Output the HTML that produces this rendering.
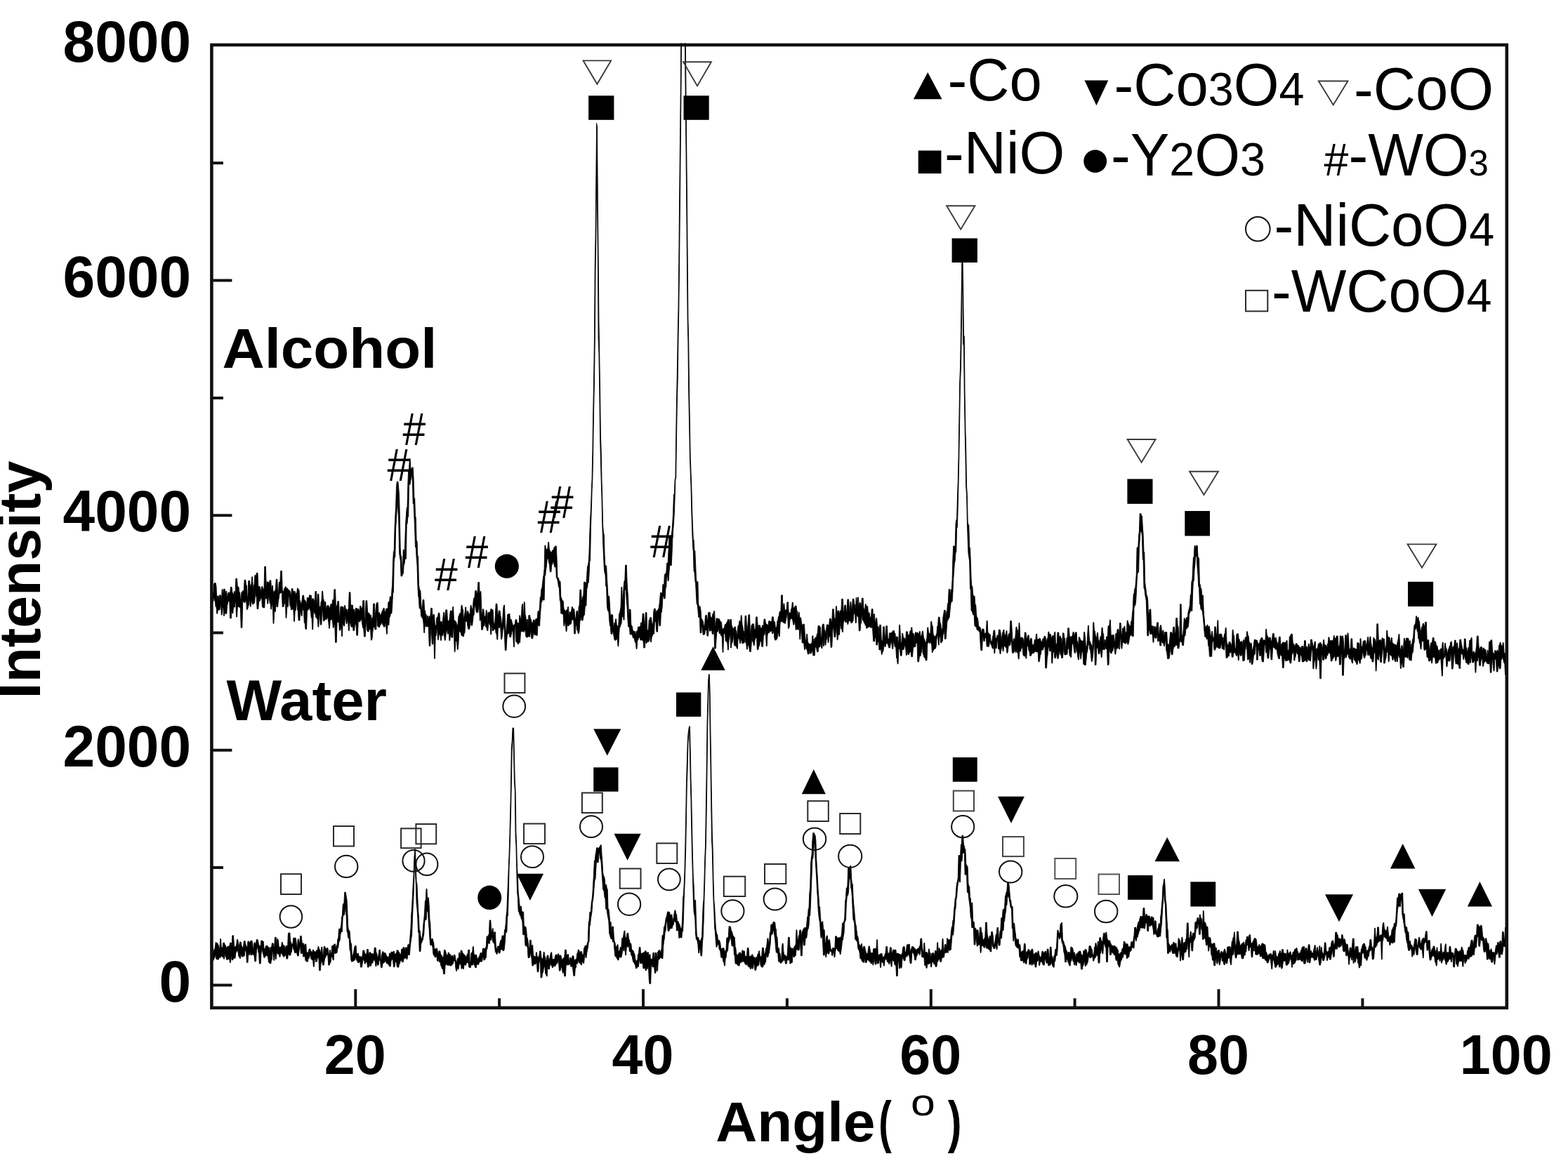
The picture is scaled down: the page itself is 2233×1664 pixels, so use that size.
<!DOCTYPE html>
<html><head><meta charset="utf-8"><title>XRD</title>
<style>html,body{margin:0;padding:0;background:#fff;overflow:hidden}svg{display:block;filter:blur(0.55px)}</style></head>
<body><svg width="2233" height="1664" viewBox="0 0 2233 1664">
<defs><clipPath id="cp"><rect x="301.4" y="61.5" width="1844.4" height="1374.3"/></clipPath></defs>
<rect x="0" y="0" width="2233" height="1664" fill="#fff"/>
<g clip-path="url(#cp)" fill="#000" stroke="#000" stroke-width="0.9" stroke-linejoin="round">
<path d="M301.4 847.9L302.2 847.9L303.0 845.3L303.9 845.3L304.7 831.5L305.5 830.6L306.3 830.6L307.1 830.6L308.0 835.9L308.8 854.8L309.6 849.0L310.4 849.0L311.2 849.0L312.1 855.5L312.9 847.4L313.7 847.4L314.5 848.6L315.3 857.9L316.2 839.6L317.0 839.6L317.8 849.0L318.6 839.2L319.4 839.2L320.2 839.2L321.1 847.1L321.9 842.1L322.7 842.1L323.5 853.8L324.3 845.8L325.2 844.1L326.0 844.1L326.8 844.1L327.6 845.9L328.4 836.4L329.3 836.4L330.1 836.4L330.9 844.8L331.7 844.8L332.5 849.3L333.4 842.5L334.2 842.5L335.0 850.3L335.8 824.3L336.6 824.3L337.5 824.3L338.3 836.1L339.1 836.1L339.9 836.1L340.7 843.8L341.6 843.8L342.4 853.4L343.2 853.4L344.0 843.6L344.8 843.6L345.7 841.6L346.5 841.6L347.3 842.5L348.1 826.2L348.9 826.2L349.7 826.2L350.6 833.8L351.4 833.8L352.2 854.1L353.0 847.8L353.8 827.4L354.7 827.4L355.5 827.4L356.3 837.4L357.1 833.0L357.9 833.0L358.8 821.7L359.6 821.7L360.4 843.9L361.2 833.4L362.0 833.4L362.9 819.4L363.7 819.4L364.5 822.1L365.3 816.3L366.1 816.3L367.0 816.3L367.8 835.4L368.6 835.4L369.4 835.6L370.2 835.6L371.1 839.6L371.9 844.3L372.7 835.5L373.5 835.5L374.3 837.5L375.2 839.9L376.0 838.9L376.8 807.0L377.6 807.0L378.4 807.0L379.3 839.1L380.1 828.7L380.9 828.7L381.7 829.5L382.5 829.5L383.3 832.3L384.2 826.8L385.0 826.8L385.8 826.8L386.6 844.5L387.4 834.3L388.3 834.3L389.1 844.7L389.9 842.7L390.7 842.7L391.5 840.8L392.4 840.8L393.2 825.3L394.0 825.3L394.8 825.3L395.6 844.5L396.5 844.5L397.3 829.3L398.1 829.3L398.9 829.3L399.7 813.3L400.6 813.3L401.4 813.3L402.2 841.4L403.0 841.4L403.8 844.6L404.7 838.4L405.5 838.4L406.3 835.7L407.1 835.7L407.9 838.1L408.8 838.1L409.6 838.1L410.4 840.2L411.2 840.2L412.0 841.3L412.8 841.3L413.7 845.4L414.5 850.6L415.3 838.6L416.1 838.6L416.9 838.6L417.8 846.3L418.6 842.4L419.4 842.4L420.2 842.4L421.0 848.5L421.9 844.7L422.7 844.7L423.5 837.9L424.3 837.9L425.1 840.4L426.0 840.4L426.8 854.7L427.6 856.0L428.4 860.2L429.2 860.2L430.1 855.0L430.9 848.2L431.7 848.2L432.5 848.2L433.3 854.9L434.2 854.9L435.0 855.8L435.8 858.5L436.6 860.6L437.4 851.5L438.3 851.5L439.1 851.5L439.9 852.3L440.7 847.8L441.5 847.8L442.4 848.1L443.2 848.1L444.0 857.0L444.8 852.8L445.6 852.8L446.4 852.8L447.3 855.3L448.1 861.2L448.9 842.5L449.7 842.5L450.5 842.5L451.4 869.0L452.2 846.2L453.0 846.2L453.8 846.2L454.6 864.0L455.5 864.0L456.3 868.7L457.1 857.0L457.9 857.0L458.7 842.2L459.6 842.2L460.4 854.1L461.2 854.1L462.0 864.9L462.8 857.1L463.7 857.1L464.5 869.8L465.3 864.3L466.1 862.6L466.9 862.6L467.8 862.6L468.6 866.3L469.4 866.3L470.2 863.7L471.0 860.7L471.9 860.7L472.7 863.4L473.5 854.6L474.3 854.6L475.1 855.8L475.9 839.7L476.8 839.7L477.6 839.7L478.4 866.6L479.2 863.0L480.0 863.0L480.9 856.5L481.7 856.5L482.5 856.5L483.3 878.5L484.1 876.8L485.0 864.0L485.8 864.0L486.6 864.0L487.4 864.6L488.2 864.6L489.1 864.6L489.9 874.1L490.7 862.5L491.5 862.5L492.3 868.0L493.2 868.0L494.0 868.0L494.8 875.0L495.6 868.3L496.4 866.5L497.3 843.8L498.1 843.8L498.9 843.8L499.7 871.8L500.5 861.9L501.4 861.9L502.2 861.9L503.0 869.4L503.8 868.0L504.6 868.0L505.5 876.2L506.3 866.4L507.1 866.4L507.9 866.4L508.7 868.6L509.5 867.1L510.4 867.1L511.2 869.8L512.0 869.8L512.8 863.1L513.6 863.1L514.5 866.9L515.3 866.9L516.1 864.5L516.9 855.4L517.7 855.4L518.6 855.4L519.4 883.6L520.2 881.2L521.0 855.7L521.8 855.7L522.7 855.7L523.5 870.8L524.3 873.5L525.1 873.5L525.9 873.5L526.8 876.3L527.6 876.3L528.4 876.3L529.2 886.8L530.0 879.8L530.9 879.8L531.7 860.0L532.5 860.0L533.3 860.0L534.1 882.6L535.0 869.1L535.8 861.1L536.6 858.5L537.4 858.5L538.2 858.5L539.0 874.7L539.9 872.6L540.7 872.6L541.5 878.8L542.3 875.1L543.1 875.1L544.0 870.8L544.8 870.1L545.6 866.9L546.4 866.4L547.2 866.4L548.1 872.1L548.9 872.1L549.7 867.1L550.5 867.1L551.3 867.1L552.2 867.1L553.0 857.5L553.8 857.5L554.6 857.5L555.4 849.8L556.3 849.8L557.1 859.6L557.9 841.6L558.7 832.4L559.5 801.7L560.4 785.6L561.2 785.6L562.0 753.2L562.8 735.6L563.6 721.6L564.5 692.8L565.3 686.2L566.1 686.2L566.9 686.2L567.7 694.4L568.6 707.1L569.4 740.6L570.2 781.2L571.0 792.3L571.8 792.3L572.6 815.9L573.5 805.2L574.3 783.0L575.1 783.0L575.9 790.4L576.7 772.7L577.6 746.4L578.4 734.8L579.2 723.4L580.0 723.4L580.8 690.8L581.7 669.1L582.5 669.1L583.3 653.6L584.1 653.6L584.9 668.3L585.8 668.2L586.6 665.9L587.4 665.9L588.2 665.9L589.0 680.2L589.9 709.1L590.7 709.9L591.5 734.8L592.3 738.0L593.1 770.8L594.0 770.8L594.8 792.2L595.6 792.2L596.4 832.3L597.2 837.8L598.1 841.4L598.9 841.4L599.7 859.4L600.5 867.6L601.3 869.1L602.1 854.5L603.0 854.5L603.8 854.5L604.6 869.7L605.4 869.7L606.2 875.4L607.1 875.4L607.9 885.3L608.7 877.4L609.5 877.4L610.3 883.1L611.2 877.7L612.0 877.7L612.8 879.8L613.6 866.4L614.4 866.4L615.3 866.4L616.1 880.1L616.9 875.6L617.7 875.6L618.5 875.6L619.4 890.0L620.2 890.4L621.0 892.9L621.8 880.1L622.6 879.0L623.5 879.0L624.3 873.3L625.1 873.3L625.9 873.3L626.7 887.2L627.6 885.5L628.4 885.5L629.2 885.5L630.0 891.2L630.8 881.0L631.7 872.4L632.5 872.4L633.3 886.2L634.1 873.9L634.9 868.8L635.7 868.8L636.6 868.8L637.4 883.0L638.2 884.4L639.0 884.4L639.8 884.4L640.7 875.4L641.5 870.0L642.3 870.0L643.1 870.0L643.9 873.4L644.8 864.4L645.6 864.4L646.4 883.9L647.2 883.9L648.0 883.9L648.9 886.0L649.7 886.0L650.5 890.5L651.3 890.5L652.1 889.1L653.0 877.3L653.8 877.3L654.6 873.7L655.4 873.7L656.2 873.7L657.1 862.1L657.9 862.1L658.7 868.1L659.5 868.1L660.3 885.4L661.2 876.4L662.0 873.3L662.8 864.9L663.6 864.9L664.4 879.2L665.2 870.6L666.1 870.6L666.9 871.3L667.7 876.8L668.5 874.3L669.3 874.3L670.2 862.3L671.0 862.3L671.8 866.2L672.6 869.8L673.4 864.8L674.3 853.8L675.1 851.6L675.9 851.6L676.7 841.6L677.5 841.6L678.4 841.6L679.2 845.5L680.0 843.6L680.8 829.5L681.6 829.5L682.5 829.5L683.3 848.8L684.1 842.5L684.9 842.5L685.7 869.3L686.6 878.9L687.4 867.5L688.2 867.5L689.0 870.0L689.8 877.9L690.7 877.9L691.5 879.6L692.3 869.3L693.1 869.3L693.9 890.6L694.8 872.5L695.6 872.5L696.4 872.5L697.2 872.2L698.0 872.2L698.8 867.7L699.7 867.7L700.5 867.7L701.3 869.0L702.1 869.0L702.9 885.4L703.8 890.0L704.6 888.7L705.4 875.3L706.2 860.3L707.0 860.3L707.9 860.3L708.7 876.3L709.5 876.3L710.3 870.0L711.1 870.0L712.0 870.0L712.8 876.7L713.6 880.8L714.4 891.3L715.2 886.9L716.1 878.0L716.9 865.3L717.7 862.0L718.5 862.0L719.3 883.4L720.2 897.7L721.0 901.9L721.8 888.9L722.6 875.6L723.4 875.6L724.3 874.4L725.1 874.4L725.9 874.4L726.7 886.0L727.5 882.5L728.3 882.5L729.2 886.7L730.0 889.4L730.8 891.9L731.6 890.8L732.4 889.5L733.3 889.5L734.1 882.8L734.9 882.8L735.7 882.8L736.5 887.5L737.4 887.5L738.2 887.5L739.0 889.5L739.8 876.8L740.6 876.8L741.5 882.3L742.3 882.3L743.1 863.9L743.9 860.3L744.7 860.3L745.6 885.1L746.4 857.7L747.2 857.7L748.0 875.2L748.8 878.9L749.7 888.5L750.5 882.3L751.3 882.3L752.1 896.5L752.9 876.6L753.8 876.6L754.6 876.6L755.4 882.0L756.2 882.0L757.0 886.1L757.9 887.5L758.7 887.5L759.5 883.1L760.3 883.1L761.1 883.1L761.9 888.6L762.8 881.8L763.6 881.8L764.4 881.0L765.2 881.0L766.0 870.8L766.9 870.8L767.7 872.0L768.5 865.2L769.3 850.4L770.1 850.4L771.0 838.6L771.8 838.6L772.6 830.3L773.4 823.8L774.2 819.1L775.1 810.9L775.9 776.9L776.7 776.9L777.5 782.5L778.3 782.5L779.2 782.5L780.0 780.4L780.8 772.3L781.6 772.3L782.4 783.7L783.3 783.7L784.1 786.7L784.9 786.7L785.7 786.7L786.5 784.0L787.4 784.0L788.2 783.0L789.0 779.9L789.8 779.9L790.6 777.9L791.4 777.9L792.3 777.9L793.1 796.9L793.9 822.6L794.7 823.3L795.5 823.3L796.4 828.1L797.2 828.1L798.0 828.1L798.8 851.3L799.6 851.3L800.5 855.8L801.3 855.8L802.1 855.8L802.9 865.9L803.7 869.2L804.6 869.2L805.4 873.5L806.2 869.1L807.0 869.1L807.8 869.1L808.7 864.6L809.5 864.6L810.3 882.4L811.1 871.5L811.9 871.5L812.8 873.5L813.6 871.2L814.4 864.6L815.2 864.6L816.0 867.5L816.9 867.5L817.7 867.5L818.5 875.6L819.3 882.6L820.1 880.4L821.0 870.5L821.8 870.5L822.6 870.5L823.4 882.8L824.2 863.8L825.0 863.8L825.9 840.2L826.7 840.2L827.5 840.2L828.3 855.2L829.1 855.2L830.0 849.4L830.8 849.4L831.6 829.2L832.4 829.2L833.2 829.2L834.1 830.4L834.9 830.4L835.7 820.9L836.5 806.4L837.3 806.4L838.2 800.1L839.0 787.2L839.8 759.8L840.6 739.1L841.4 725.9L842.3 698.6L843.1 681.5L843.9 641.3L844.7 587.5L845.5 547.0L846.4 487.7L847.2 382.2L848.0 337.9L848.8 255.9L849.6 175.4L850.5 180.8L851.3 284.6L852.1 360.7L852.9 456.5L853.7 502.4L854.5 551.1L855.4 619.1L856.2 643.3L857.0 684.8L857.8 710.0L858.6 748.3L859.5 758.8L860.3 761.8L861.1 791.9L861.9 805.9L862.7 805.9L863.6 805.9L864.4 822.0L865.2 835.3L866.0 850.5L866.8 849.2L867.7 849.2L868.5 863.8L869.3 876.4L870.1 876.4L870.9 875.3L871.8 875.3L872.6 876.3L873.4 892.2L874.2 895.4L875.0 887.1L875.9 887.1L876.7 881.8L877.5 881.8L878.3 890.9L879.1 890.9L880.0 895.0L880.8 891.1L881.6 874.0L882.4 874.0L883.2 870.1L884.1 864.4L884.9 836.3L885.7 836.3L886.5 856.2L887.3 852.8L888.1 836.2L889.0 827.6L889.8 827.6L890.6 805.1L891.4 805.1L892.2 805.1L893.1 829.8L893.9 842.1L894.7 852.9L895.5 882.5L896.3 868.1L897.2 868.1L898.0 868.1L898.8 890.8L899.6 890.8L900.4 892.9L901.3 898.5L902.1 898.5L902.9 900.4L903.7 899.4L904.5 899.4L905.4 906.0L906.2 899.2L907.0 899.2L907.8 899.2L908.6 893.1L909.5 893.1L910.3 893.1L911.1 892.5L911.9 892.5L912.7 886.9L913.6 886.9L914.4 888.2L915.2 874.1L916.0 874.1L916.8 874.1L917.6 887.4L918.5 891.4L919.3 872.5L920.1 872.5L920.9 872.5L921.7 899.6L922.6 897.3L923.4 897.3L924.2 883.3L925.0 883.3L925.8 879.7L926.7 879.7L927.5 879.7L928.3 888.0L929.1 888.2L929.9 890.1L930.8 871.2L931.6 867.1L932.4 867.1L933.2 867.1L934.0 874.6L934.9 870.1L935.7 870.1L936.5 870.1L937.3 867.9L938.1 866.4L939.0 861.1L939.8 852.3L940.6 844.2L941.4 844.2L942.2 845.1L943.1 845.1L943.9 832.5L944.7 832.5L945.5 838.6L946.3 818.4L947.2 818.4L948.0 816.5L948.8 816.0L949.6 802.2L950.4 802.2L951.2 802.2L952.1 782.8L952.9 763.6L953.7 763.6L954.5 763.6L955.3 762.5L956.2 762.5L957.0 756.0L957.8 744.8L958.6 731.6L959.4 704.3L960.3 704.3L961.1 683.2L961.9 681.0L962.7 622.6L963.5 571.0L964.4 528.7L965.2 478.8L966.0 439.4L966.8 373.2L967.6 284.7L968.5 201.3L969.3 119.0L970.1 14.9L970.9 -53.7L971.7 -116.6L972.6 -144.6L973.4 -144.6L974.2 -119.0L975.0 -52.6L975.8 9.0L976.7 98.8L977.5 188.3L978.3 264.5L979.1 357.5L979.9 452.7L980.7 485.1L981.6 558.0L982.4 604.1L983.2 651.1L984.0 672.8L984.8 691.8L985.7 729.0L986.5 749.1L987.3 768.7L988.1 769.1L988.9 784.7L989.8 784.7L990.6 802.7L991.4 822.3L992.2 831.2L993.0 828.5L993.9 828.5L994.7 860.1L995.5 863.9L996.3 863.9L997.1 863.9L998.0 869.5L998.8 881.6L999.6 881.6L1000.4 884.0L1001.2 884.7L1002.1 890.3L1002.9 895.1L1003.7 888.4L1004.5 877.2L1005.3 876.2L1006.2 876.2L1007.0 882.2L1007.8 885.0L1008.6 872.9L1009.4 872.3L1010.3 872.3L1011.1 872.3L1011.9 879.2L1012.7 879.2L1013.5 880.7L1014.3 878.0L1015.2 874.0L1016.0 874.0L1016.8 870.4L1017.6 870.4L1018.4 890.8L1019.3 891.9L1020.1 880.9L1020.9 880.9L1021.7 880.9L1022.5 881.6L1023.4 881.6L1024.2 881.6L1025.0 883.3L1025.8 885.6L1026.6 885.6L1027.5 886.3L1028.3 896.1L1029.1 896.1L1029.9 896.1L1030.7 894.6L1031.6 894.6L1032.4 889.4L1033.2 889.4L1034.0 889.4L1034.8 886.5L1035.7 886.5L1036.5 882.6L1037.3 882.6L1038.1 882.6L1038.9 890.7L1039.8 882.5L1040.6 882.5L1041.4 882.5L1042.2 892.7L1043.0 892.7L1043.8 897.1L1044.7 895.0L1045.5 895.0L1046.3 892.7L1047.1 892.7L1047.9 897.6L1048.8 899.5L1049.6 908.1L1050.4 895.7L1051.2 891.2L1052.0 891.2L1052.9 884.6L1053.7 884.6L1054.5 889.9L1055.3 876.7L1056.1 876.7L1057.0 890.0L1057.8 892.9L1058.6 898.7L1059.4 899.2L1060.2 904.1L1061.1 877.2L1061.9 877.2L1062.7 877.2L1063.5 896.6L1064.3 896.6L1065.2 887.8L1066.0 875.8L1066.8 875.8L1067.6 875.8L1068.4 902.2L1069.3 902.2L1070.1 890.3L1070.9 890.3L1071.7 888.8L1072.5 888.8L1073.4 888.8L1074.2 896.4L1075.0 896.4L1075.8 896.4L1076.6 878.9L1077.4 878.9L1078.3 878.9L1079.1 889.4L1079.9 894.8L1080.7 890.7L1081.5 890.7L1082.4 890.7L1083.2 895.0L1084.0 895.0L1084.8 895.0L1085.6 890.9L1086.5 890.9L1087.3 890.9L1088.1 882.0L1088.9 882.0L1089.7 882.0L1090.6 888.8L1091.4 888.8L1092.2 889.8L1093.0 889.8L1093.8 892.4L1094.7 884.8L1095.5 884.8L1096.3 884.8L1097.1 885.4L1097.9 885.4L1098.8 885.4L1099.6 878.8L1100.4 878.8L1101.2 878.8L1102.0 885.3L1102.9 885.3L1103.7 886.8L1104.5 897.3L1105.3 893.3L1106.1 893.3L1106.9 884.9L1107.8 883.3L1108.6 878.2L1109.4 878.2L1110.2 871.1L1111.0 871.1L1111.9 871.5L1112.7 847.8L1113.5 847.8L1114.3 847.8L1115.1 871.9L1116.0 859.9L1116.8 859.9L1117.6 869.0L1118.4 869.0L1119.2 868.9L1120.1 868.9L1120.9 857.8L1121.7 857.8L1122.5 857.8L1123.3 876.1L1124.2 872.8L1125.0 872.8L1125.8 874.6L1126.6 867.3L1127.4 867.3L1128.3 858.1L1129.1 858.1L1129.9 865.7L1130.7 865.7L1131.5 865.7L1132.4 863.1L1133.2 863.1L1134.0 863.1L1134.8 870.5L1135.6 870.5L1136.5 882.2L1137.3 872.1L1138.1 872.1L1138.9 879.9L1139.7 879.9L1140.5 879.9L1141.4 885.9L1142.2 890.6L1143.0 890.6L1143.8 889.2L1144.6 889.2L1145.5 889.2L1146.3 904.1L1147.1 912.8L1147.9 912.8L1148.7 903.4L1149.6 903.4L1150.4 915.4L1151.2 915.4L1152.0 917.4L1152.8 917.4L1153.7 917.4L1154.5 917.3L1155.3 916.6L1156.1 916.2L1156.9 905.7L1157.8 905.7L1158.6 916.4L1159.4 910.6L1160.2 910.6L1161.0 908.1L1161.9 908.1L1162.7 908.1L1163.5 902.8L1164.3 902.8L1165.1 891.4L1166.0 891.4L1166.8 891.4L1167.6 893.3L1168.4 893.3L1169.2 908.2L1170.0 907.5L1170.9 891.8L1171.7 889.1L1172.5 889.1L1173.3 889.1L1174.1 896.9L1175.0 898.5L1175.8 904.9L1176.6 897.1L1177.4 889.9L1178.2 889.9L1179.1 889.9L1179.9 890.9L1180.7 890.9L1181.5 881.3L1182.3 881.3L1183.2 881.3L1184.0 885.7L1184.8 885.7L1185.6 867.8L1186.4 867.8L1187.3 867.8L1188.1 880.7L1188.9 880.7L1189.7 885.1L1190.5 863.7L1191.4 863.7L1192.2 875.7L1193.0 870.1L1193.8 870.1L1194.6 870.1L1195.5 876.0L1196.3 870.0L1197.1 870.0L1197.9 870.0L1198.7 853.3L1199.6 853.3L1200.4 853.3L1201.2 871.4L1202.0 871.4L1202.8 862.1L1203.6 862.1L1204.5 862.1L1205.3 871.4L1206.1 871.4L1206.9 853.9L1207.7 853.9L1208.6 853.9L1209.4 867.5L1210.2 873.3L1211.0 857.3L1211.8 857.3L1212.7 871.2L1213.5 865.4L1214.3 853.2L1215.1 853.2L1215.9 853.2L1216.8 860.6L1217.6 862.0L1218.4 869.4L1219.2 851.4L1220.0 851.4L1220.9 867.7L1221.7 850.8L1222.5 850.8L1223.3 869.4L1224.1 858.4L1225.0 858.4L1225.8 859.5L1226.6 866.1L1227.4 852.1L1228.2 852.1L1229.1 852.1L1229.9 867.1L1230.7 867.1L1231.5 871.6L1232.3 860.6L1233.1 860.6L1234.0 866.8L1234.8 863.3L1235.6 863.3L1236.4 872.9L1237.2 872.9L1238.1 872.9L1238.9 878.4L1239.7 879.5L1240.5 879.1L1241.3 867.6L1242.2 867.6L1243.0 867.6L1243.8 887.8L1244.6 874.8L1245.4 874.8L1246.3 885.8L1247.1 885.8L1247.9 880.6L1248.7 880.6L1249.5 892.7L1250.4 892.7L1251.2 892.7L1252.0 906.2L1252.8 890.3L1253.6 890.3L1254.5 890.3L1255.3 912.8L1256.1 912.8L1256.9 912.9L1257.7 892.8L1258.6 892.8L1259.4 892.8L1260.2 905.6L1261.0 910.6L1261.8 891.7L1262.7 891.7L1263.5 891.7L1264.3 910.2L1265.1 910.2L1265.9 910.2L1266.7 901.7L1267.6 901.7L1268.4 901.7L1269.2 902.6L1270.0 900.4L1270.8 900.4L1271.7 898.4L1272.5 898.4L1273.3 898.4L1274.1 902.2L1274.9 902.2L1275.8 912.6L1276.6 907.1L1277.4 907.1L1278.2 907.1L1279.0 915.6L1279.9 912.2L1280.7 890.3L1281.5 890.3L1282.3 904.4L1283.1 916.1L1284.0 915.9L1284.8 902.3L1285.6 902.3L1286.4 907.4L1287.2 909.0L1288.1 909.0L1288.9 910.3L1289.7 913.8L1290.5 899.8L1291.3 899.8L1292.2 899.8L1293.0 904.3L1293.8 904.3L1294.6 906.3L1295.4 901.5L1296.2 898.8L1297.1 898.8L1297.9 893.8L1298.7 893.8L1299.5 902.5L1300.3 902.5L1301.2 902.5L1302.0 915.4L1302.8 904.5L1303.6 900.7L1304.4 900.7L1305.3 902.7L1306.1 901.0L1306.9 901.0L1307.7 903.5L1308.5 903.5L1309.4 899.4L1310.2 899.4L1311.0 906.7L1311.8 906.7L1312.6 903.9L1313.5 899.0L1314.3 899.0L1315.1 905.8L1315.9 910.6L1316.7 910.6L1317.6 915.9L1318.4 915.9L1319.2 912.7L1320.0 908.2L1320.8 893.9L1321.7 893.9L1322.5 901.8L1323.3 901.8L1324.1 902.6L1324.9 902.6L1325.7 885.3L1326.6 885.3L1327.4 891.7L1328.2 891.7L1329.0 902.9L1329.8 905.9L1330.7 905.9L1331.5 906.7L1332.3 906.7L1333.1 904.2L1333.9 903.1L1334.8 891.9L1335.6 891.9L1336.4 879.1L1337.2 879.1L1338.0 879.1L1338.9 887.9L1339.7 887.9L1340.5 896.9L1341.3 896.9L1342.1 894.7L1343.0 879.0L1343.8 875.0L1344.6 869.3L1345.4 869.3L1346.2 869.3L1347.1 887.1L1347.9 870.9L1348.7 870.9L1349.5 859.6L1350.3 859.6L1351.2 839.4L1352.0 839.4L1352.8 839.4L1353.6 849.3L1354.4 839.9L1355.3 839.9L1356.1 825.7L1356.9 796.1L1357.7 777.9L1358.5 777.9L1359.3 777.9L1360.2 777.7L1361.0 746.2L1361.8 740.5L1362.6 740.5L1363.4 708.8L1364.3 686.0L1365.1 647.6L1365.9 597.3L1366.7 545.0L1367.5 525.1L1368.4 471.6L1369.2 415.4L1370.0 359.0L1370.8 359.0L1371.6 402.2L1372.5 478.6L1373.3 478.6L1374.1 562.7L1374.9 609.4L1375.7 639.8L1376.6 692.9L1377.4 705.7L1378.2 743.4L1379.0 748.0L1379.8 748.0L1380.7 780.0L1381.5 780.0L1382.3 799.8L1383.1 823.7L1383.9 835.1L1384.8 835.1L1385.6 846.2L1386.4 849.2L1387.2 849.2L1388.0 849.2L1388.8 861.5L1389.7 861.5L1390.5 875.1L1391.3 880.1L1392.1 880.1L1392.9 883.7L1393.8 892.4L1394.6 892.4L1395.4 893.4L1396.2 893.9L1397.0 898.2L1397.9 902.5L1398.7 896.0L1399.5 896.0L1400.3 896.0L1401.1 896.4L1402.0 902.4L1402.8 902.4L1403.6 902.4L1404.4 900.3L1405.2 884.3L1406.1 884.3L1406.9 901.6L1407.7 901.6L1408.5 903.1L1409.3 903.7L1410.2 903.7L1411.0 912.2L1411.8 914.0L1412.6 915.4L1413.4 908.3L1414.3 904.7L1415.1 898.0L1415.9 898.0L1416.7 898.0L1417.5 908.9L1418.4 909.1L1419.2 909.1L1420.0 905.0L1420.8 905.0L1421.6 908.4L1422.4 897.1L1423.3 897.1L1424.1 897.1L1424.9 900.0L1425.7 910.9L1426.5 910.3L1427.4 901.8L1428.2 900.2L1429.0 897.2L1429.8 897.2L1430.6 904.2L1431.5 904.2L1432.3 904.2L1433.1 898.6L1433.9 898.6L1434.7 911.8L1435.6 906.8L1436.4 902.8L1437.2 902.8L1438.0 902.8L1438.8 884.6L1439.7 884.6L1440.5 884.6L1441.3 899.6L1442.1 914.4L1442.9 914.0L1443.8 909.7L1444.6 909.7L1445.4 915.0L1446.2 903.1L1447.0 893.2L1447.9 893.2L1448.7 897.6L1449.5 897.6L1450.3 908.8L1451.1 887.4L1451.9 887.4L1452.8 909.9L1453.6 908.0L1454.4 908.0L1455.2 908.0L1456.0 908.5L1456.9 909.1L1457.7 913.3L1458.5 916.6L1459.3 901.0L1460.1 901.0L1461.0 901.0L1461.8 910.1L1462.6 910.1L1463.4 905.7L1464.2 904.9L1465.1 904.9L1465.9 913.2L1466.7 913.2L1467.5 909.5L1468.3 909.5L1469.2 909.5L1470.0 918.1L1470.8 918.5L1471.6 918.5L1472.4 920.2L1473.3 911.4L1474.1 911.4L1474.9 910.6L1475.7 903.1L1476.5 903.1L1477.4 913.4L1478.2 910.7L1479.0 910.7L1479.8 909.5L1480.6 909.5L1481.5 909.5L1482.3 913.5L1483.1 913.5L1483.9 916.1L1484.7 910.3L1485.5 910.3L1486.4 909.0L1487.2 906.4L1488.0 906.4L1488.8 906.4L1489.6 912.1L1490.5 914.5L1491.3 909.4L1492.1 909.4L1492.9 900.0L1493.7 900.0L1494.6 905.7L1495.4 903.2L1496.2 903.2L1497.0 908.2L1497.8 908.2L1498.7 905.7L1499.5 905.7L1500.3 905.7L1501.1 904.4L1501.9 900.4L1502.8 900.4L1503.6 921.8L1504.4 917.0L1505.2 917.0L1506.0 900.9L1506.9 900.9L1507.7 900.9L1508.5 911.2L1509.3 906.1L1510.1 906.1L1511.0 909.4L1511.8 909.4L1512.6 921.7L1513.4 901.9L1514.2 901.9L1515.0 901.9L1515.9 909.3L1516.7 909.3L1517.5 923.5L1518.3 920.4L1519.1 908.4L1520.0 908.4L1520.8 894.7L1521.6 894.7L1522.4 894.7L1523.2 906.9L1524.1 906.9L1524.9 907.0L1525.7 907.0L1526.5 907.0L1527.3 904.7L1528.2 900.2L1529.0 900.2L1529.8 904.6L1530.6 904.6L1531.4 900.8L1532.3 900.8L1533.1 900.8L1533.9 913.9L1534.7 913.9L1535.5 922.6L1536.4 907.6L1537.2 907.6L1538.0 909.1L1538.8 912.0L1539.6 912.0L1540.5 913.3L1541.3 913.3L1542.1 913.1L1542.9 913.1L1543.7 900.4L1544.6 900.4L1545.4 906.8L1546.2 918.2L1547.0 923.9L1547.8 920.7L1548.6 906.6L1549.5 891.1L1550.3 891.1L1551.1 906.9L1551.9 913.9L1552.7 913.9L1553.6 918.1L1554.4 918.1L1555.2 925.6L1556.0 918.1L1556.8 886.7L1557.7 886.7L1558.5 898.9L1559.3 898.9L1560.1 904.5L1560.9 908.3L1561.8 908.3L1562.6 901.2L1563.4 901.2L1564.2 911.0L1565.0 912.0L1565.9 917.3L1566.7 908.5L1567.5 906.3L1568.3 906.3L1569.1 894.1L1570.0 894.1L1570.8 902.7L1571.6 902.7L1572.4 918.8L1573.2 911.3L1574.1 911.3L1574.9 917.0L1575.7 906.9L1576.5 906.9L1577.3 907.6L1578.1 891.8L1579.0 891.8L1579.8 891.8L1580.6 883.1L1581.4 883.1L1582.2 905.0L1583.1 905.0L1583.9 905.0L1584.7 904.5L1585.5 904.5L1586.3 904.5L1587.2 912.5L1588.0 916.2L1588.8 902.6L1589.6 902.6L1590.4 902.6L1591.3 896.5L1592.1 896.5L1592.9 896.5L1593.7 906.4L1594.5 887.6L1595.4 887.6L1596.2 887.6L1597.0 903.9L1597.8 903.9L1598.6 894.9L1599.5 894.9L1600.3 894.9L1601.1 892.2L1601.9 892.2L1602.7 902.7L1603.6 900.5L1604.4 900.5L1605.2 884.0L1606.0 884.0L1606.8 888.4L1607.7 888.4L1608.5 893.1L1609.3 891.5L1610.1 891.5L1610.9 884.8L1611.7 884.8L1612.6 873.6L1613.4 866.2L1614.2 846.2L1615.0 846.2L1615.8 838.4L1616.7 838.4L1617.5 828.6L1618.3 817.4L1619.1 779.9L1619.9 779.9L1620.8 779.9L1621.6 762.5L1622.4 757.5L1623.2 731.7L1624.0 731.7L1624.9 731.7L1625.7 735.2L1626.5 735.2L1627.3 751.0L1628.1 760.5L1629.0 786.7L1629.8 786.7L1630.6 829.2L1631.4 835.6L1632.2 841.4L1633.1 849.0L1633.9 849.0L1634.7 855.8L1635.5 875.3L1636.3 875.3L1637.2 868.0L1638.0 868.0L1638.8 868.0L1639.6 891.5L1640.4 891.5L1641.2 891.8L1642.1 891.8L1642.9 900.2L1643.7 892.6L1644.5 892.6L1645.3 892.6L1646.2 897.9L1647.0 892.3L1647.8 886.8L1648.6 886.8L1649.4 886.8L1650.3 902.9L1651.1 902.9L1651.9 893.2L1652.7 890.7L1653.5 890.7L1654.4 897.9L1655.2 903.5L1656.0 897.9L1656.8 897.9L1657.6 908.8L1658.5 900.4L1659.3 900.4L1660.1 900.5L1660.9 900.5L1661.7 900.5L1662.6 917.4L1663.4 917.4L1664.2 918.6L1665.0 918.1L1665.8 910.4L1666.7 900.7L1667.5 900.7L1668.3 900.7L1669.1 903.0L1669.9 902.9L1670.8 893.3L1671.6 893.3L1672.4 893.3L1673.2 902.4L1674.0 902.0L1674.8 880.5L1675.7 880.5L1676.5 880.5L1677.3 892.7L1678.1 892.7L1678.9 910.0L1679.8 909.6L1680.6 860.7L1681.4 860.7L1682.2 860.7L1683.0 904.1L1683.9 906.6L1684.7 903.5L1685.5 893.3L1686.3 880.7L1687.1 880.7L1688.0 883.4L1688.8 883.4L1689.6 879.4L1690.4 879.4L1691.2 881.2L1692.1 871.8L1692.9 868.9L1693.7 866.0L1694.5 861.6L1695.3 847.2L1696.2 846.3L1697.0 827.7L1697.8 827.7L1698.6 811.2L1699.4 793.9L1700.3 793.9L1701.1 777.5L1701.9 777.5L1702.7 781.4L1703.5 777.2L1704.3 777.2L1705.2 777.2L1706.0 792.6L1706.8 795.0L1707.6 795.0L1708.4 832.6L1709.3 832.7L1710.1 838.5L1710.9 838.5L1711.7 848.0L1712.5 848.0L1713.4 848.0L1714.2 870.2L1715.0 880.1L1715.8 889.6L1716.6 892.5L1717.5 892.8L1718.3 893.0L1719.1 890.1L1719.9 890.1L1720.7 895.8L1721.6 892.1L1722.4 892.1L1723.2 899.0L1724.0 904.6L1724.8 908.0L1725.7 899.4L1726.5 899.4L1727.3 908.1L1728.1 908.5L1728.9 908.5L1729.8 892.9L1730.6 892.9L1731.4 892.9L1732.2 903.9L1733.0 903.9L1733.9 883.8L1734.7 883.8L1735.5 912.6L1736.3 903.4L1737.1 903.4L1737.9 903.1L1738.8 903.1L1739.6 903.1L1740.4 907.9L1741.2 907.9L1742.0 914.4L1742.9 907.7L1743.7 902.9L1744.5 902.9L1745.3 894.3L1746.1 894.3L1747.0 914.3L1747.8 917.4L1748.6 919.3L1749.4 919.3L1750.2 914.5L1751.1 914.5L1751.9 914.5L1752.7 916.7L1753.5 918.3L1754.3 922.6L1755.2 897.2L1756.0 897.2L1756.8 905.2L1757.6 905.2L1758.4 920.0L1759.3 926.0L1760.1 921.6L1760.9 904.0L1761.7 902.8L1762.5 902.8L1763.4 902.8L1764.2 910.5L1765.0 910.5L1765.8 914.9L1766.6 914.9L1767.4 913.7L1768.3 913.7L1769.1 913.7L1769.9 921.8L1770.7 911.4L1771.5 911.4L1772.4 917.2L1773.2 907.7L1774.0 907.7L1774.8 911.7L1775.6 899.7L1776.5 899.7L1777.3 906.0L1778.1 906.0L1778.9 914.8L1779.7 914.8L1780.6 919.4L1781.4 916.1L1782.2 916.1L1783.0 926.5L1783.8 926.0L1784.7 922.6L1785.5 917.1L1786.3 911.2L1787.1 911.2L1787.9 911.2L1788.8 912.1L1789.6 912.1L1790.4 912.1L1791.2 916.1L1792.0 916.1L1792.9 918.3L1793.7 916.2L1794.5 911.3L1795.3 911.3L1796.1 908.4L1797.0 908.4L1797.8 908.4L1798.6 914.4L1799.4 911.8L1800.2 911.8L1801.0 911.8L1801.9 913.6L1802.7 896.3L1803.5 896.3L1804.3 905.7L1805.1 905.7L1806.0 909.0L1806.8 909.0L1807.6 908.0L1808.4 908.0L1809.2 908.2L1810.1 913.5L1810.9 913.5L1811.7 908.9L1812.5 902.6L1813.3 902.6L1814.2 902.6L1815.0 910.2L1815.8 908.9L1816.6 908.4L1817.4 908.4L1818.3 914.7L1819.1 915.1L1819.9 921.3L1820.7 915.3L1821.5 907.3L1822.4 907.3L1823.2 907.3L1824.0 922.8L1824.8 917.3L1825.6 917.3L1826.5 915.3L1827.3 915.0L1828.1 915.0L1828.9 915.0L1829.7 915.7L1830.5 915.1L1831.4 915.1L1832.2 912.4L1833.0 912.4L1833.8 926.8L1834.6 926.4L1835.5 925.3L1836.3 907.0L1837.1 907.0L1837.9 904.9L1838.7 903.2L1839.6 903.2L1840.4 903.2L1841.2 915.2L1842.0 917.5L1842.8 917.9L1843.7 920.2L1844.5 920.5L1845.3 916.8L1846.1 916.8L1846.9 916.8L1847.8 918.9L1848.6 919.1L1849.4 919.4L1850.2 922.0L1851.0 922.0L1851.9 922.0L1852.7 925.8L1853.5 920.6L1854.3 920.6L1855.1 920.4L1856.0 920.4L1856.8 928.3L1857.6 912.6L1858.4 912.6L1859.2 912.6L1860.1 924.5L1860.9 921.2L1861.7 921.2L1862.5 927.8L1863.3 917.2L1864.1 917.2L1865.0 921.9L1865.8 921.9L1866.6 911.0L1867.4 911.0L1868.2 911.0L1869.1 915.8L1869.9 920.1L1870.7 921.3L1871.5 918.2L1872.3 913.9L1873.2 913.9L1874.0 928.8L1874.8 923.9L1875.6 923.9L1876.4 923.9L1877.3 917.1L1878.1 917.1L1878.9 917.6L1879.7 915.1L1880.5 915.1L1881.4 917.4L1882.2 917.4L1883.0 922.6L1883.8 922.6L1884.6 911.5L1885.5 911.5L1886.3 918.8L1887.1 918.8L1887.9 918.8L1888.7 919.3L1889.6 924.5L1890.4 917.0L1891.2 917.0L1892.0 907.7L1892.8 907.7L1893.6 912.8L1894.5 912.8L1895.3 912.8L1896.1 912.3L1896.9 912.3L1897.7 912.7L1898.6 912.7L1899.4 905.6L1900.2 905.6L1901.0 912.5L1901.8 908.8L1902.7 908.8L1903.5 905.9L1904.3 905.9L1905.1 905.9L1905.9 919.2L1906.8 920.8L1907.6 920.8L1908.4 905.7L1909.2 905.7L1910.0 910.5L1910.9 906.1L1911.7 906.1L1912.5 906.1L1913.3 912.3L1914.1 930.5L1915.0 922.1L1915.8 904.7L1916.6 904.7L1917.4 904.7L1918.2 915.9L1919.1 901.8L1919.9 901.8L1920.7 911.0L1921.5 928.7L1922.3 924.1L1923.2 923.8L1924.0 909.8L1924.8 909.8L1925.6 909.8L1926.4 926.3L1927.2 923.1L1928.1 923.1L1928.9 923.1L1929.7 924.6L1930.5 924.6L1931.3 924.6L1932.2 925.3L1933.0 915.2L1933.8 915.2L1934.6 916.5L1935.4 916.5L1936.3 930.4L1937.1 909.6L1937.9 909.6L1938.7 920.8L1939.5 920.8L1940.4 921.5L1941.2 913.5L1942.0 913.5L1942.8 912.6L1943.6 912.6L1944.5 912.6L1945.3 918.6L1946.1 918.6L1946.9 913.6L1947.7 907.5L1948.6 907.5L1949.4 916.3L1950.2 916.3L1951.0 906.9L1951.8 906.9L1952.7 916.4L1953.5 920.7L1954.3 923.0L1955.1 922.5L1955.9 908.3L1956.7 908.3L1957.6 910.9L1958.4 910.9L1959.2 914.4L1960.0 915.6L1960.8 888.8L1961.7 888.8L1962.5 888.8L1963.3 913.1L1964.1 912.5L1964.9 911.7L1965.8 911.7L1966.6 911.7L1967.4 916.6L1968.2 908.7L1969.0 908.7L1969.9 910.2L1970.7 910.2L1971.5 910.2L1972.3 922.7L1973.1 923.7L1974.0 919.9L1974.8 898.2L1975.6 898.2L1976.4 908.2L1977.2 907.8L1978.1 907.8L1978.9 907.8L1979.7 915.3L1980.5 915.3L1981.3 908.6L1982.2 908.6L1983.0 916.2L1983.8 916.2L1984.6 917.5L1985.4 917.5L1986.3 918.3L1987.1 918.3L1987.9 918.3L1988.7 921.6L1989.5 917.8L1990.3 914.2L1991.2 910.1L1992.0 903.4L1992.8 903.4L1993.6 920.2L1994.4 926.9L1995.3 923.6L1996.1 919.2L1996.9 919.2L1997.7 925.7L1998.5 925.7L1999.4 909.2L2000.2 909.2L2001.0 914.0L2001.8 914.0L2002.6 909.1L2003.5 909.1L2004.3 909.1L2005.1 909.4L2005.9 909.4L2006.7 916.8L2007.6 912.8L2008.4 912.8L2009.2 926.1L2010.0 917.4L2010.8 917.4L2011.7 910.5L2012.5 910.5L2013.3 897.6L2014.1 890.2L2014.9 890.2L2015.8 887.4L2016.6 877.7L2017.4 877.7L2018.2 883.7L2019.0 879.3L2019.8 879.3L2020.7 884.9L2021.5 884.9L2022.3 895.0L2023.1 902.9L2023.9 896.5L2024.8 892.8L2025.6 892.8L2026.4 888.0L2027.2 888.0L2028.0 891.4L2028.9 891.8L2029.7 886.1L2030.5 886.1L2031.3 886.1L2032.1 911.8L2033.0 911.8L2033.8 911.7L2034.6 911.7L2035.4 923.0L2036.2 929.2L2037.1 918.8L2037.9 915.5L2038.7 915.5L2039.5 915.5L2040.3 908.5L2041.2 908.5L2042.0 908.5L2042.8 920.9L2043.6 913.8L2044.4 913.8L2045.3 918.6L2046.1 920.1L2046.9 920.1L2047.7 926.0L2048.5 926.0L2049.4 926.0L2050.2 933.3L2051.0 924.7L2051.8 924.1L2052.6 924.1L2053.4 924.1L2054.3 915.1L2055.1 915.1L2055.9 934.0L2056.7 929.8L2057.5 916.3L2058.4 916.3L2059.2 923.3L2060.0 923.3L2060.8 930.3L2061.6 930.3L2062.5 924.6L2063.3 924.6L2064.1 920.6L2064.9 920.6L2065.7 915.0L2066.6 914.0L2067.4 914.0L2068.2 928.8L2069.0 921.1L2069.8 921.1L2070.7 921.1L2071.5 912.1L2072.3 912.1L2073.1 912.1L2073.9 924.5L2074.8 915.9L2075.6 915.9L2076.4 928.0L2077.2 923.5L2078.0 923.5L2078.9 911.1L2079.7 911.1L2080.5 911.1L2081.3 917.5L2082.1 921.1L2082.9 925.0L2083.8 925.0L2084.6 928.5L2085.4 910.0L2086.2 910.0L2087.0 910.0L2087.9 922.8L2088.7 922.8L2089.5 928.4L2090.3 929.0L2091.1 922.3L2092.0 922.3L2092.8 912.1L2093.6 912.1L2094.4 912.1L2095.2 908.5L2096.1 908.5L2096.9 933.6L2097.7 928.3L2098.5 928.3L2099.3 928.3L2100.2 931.0L2101.0 931.0L2101.8 926.1L2102.6 920.4L2103.4 906.0L2104.3 906.0L2105.1 906.0L2105.9 918.9L2106.7 927.6L2107.5 924.3L2108.4 921.5L2109.2 921.5L2110.0 921.5L2110.8 922.5L2111.6 928.1L2112.5 923.1L2113.3 923.1L2114.1 925.3L2114.9 925.3L2115.7 925.3L2116.5 929.5L2117.4 939.1L2118.2 926.2L2119.0 926.2L2119.8 936.0L2120.6 914.2L2121.5 914.2L2122.3 914.2L2123.1 911.8L2123.9 911.8L2124.7 911.8L2125.6 929.2L2126.4 929.2L2127.2 931.9L2128.0 931.9L2128.8 926.6L2129.7 926.6L2130.5 928.6L2131.3 928.6L2132.1 926.1L2132.9 926.1L2133.8 932.7L2134.6 919.3L2135.4 919.3L2136.2 915.2L2137.0 915.2L2137.9 919.5L2138.7 919.5L2139.5 922.9L2140.3 915.5L2141.1 915.5L2142.0 929.4L2142.8 930.7L2143.6 930.4L2144.4 930.4L2145.2 935.3L2145.2 961.3L2144.4 961.3L2143.6 961.3L2142.8 944.9L2142.0 944.9L2141.1 941.6L2140.3 936.8L2139.5 936.8L2138.7 939.4L2137.9 939.4L2137.0 952.8L2136.2 952.8L2135.4 952.8L2134.6 948.2L2133.8 948.2L2132.9 957.0L2132.1 957.0L2131.3 957.0L2130.5 939.8L2129.7 939.8L2128.8 938.8L2128.0 956.1L2127.2 956.1L2126.4 949.3L2125.6 940.3L2124.7 940.3L2123.9 958.2L2123.1 958.2L2122.3 958.2L2121.5 938.4L2120.6 945.9L2119.8 945.9L2119.0 945.9L2118.2 945.0L2117.4 945.0L2116.5 941.5L2115.7 942.3L2114.9 942.3L2114.1 943.7L2113.3 943.7L2112.5 949.2L2111.6 949.2L2110.8 938.5L2110.0 938.5L2109.2 940.0L2108.4 948.3L2107.5 948.3L2106.7 948.3L2105.9 937.2L2105.1 936.0L2104.3 941.8L2103.4 941.8L2102.6 941.8L2101.8 958.2L2101.0 958.2L2100.2 940.9L2099.3 940.9L2098.5 944.0L2097.7 944.1L2096.9 944.1L2096.1 937.6L2095.2 936.6L2094.4 944.4L2093.6 944.4L2092.8 938.1L2092.0 946.6L2091.1 946.6L2090.3 946.6L2089.5 944.4L2088.7 944.4L2087.9 944.4L2087.0 940.5L2086.2 935.9L2085.4 934.1L2084.6 939.4L2083.8 939.4L2082.9 932.3L2082.1 931.9L2081.3 931.9L2080.5 924.0L2079.7 952.3L2078.9 952.3L2078.0 952.3L2077.2 946.7L2076.4 946.7L2075.6 946.7L2074.8 944.9L2073.9 946.0L2073.1 946.0L2072.3 938.4L2071.5 930.5L2070.7 930.5L2069.8 945.9L2069.0 953.0L2068.2 953.0L2067.4 953.0L2066.6 928.8L2065.7 935.5L2064.9 941.9L2064.1 941.9L2063.3 941.9L2062.5 940.4L2061.6 943.6L2060.8 950.0L2060.0 950.0L2059.2 939.6L2058.4 930.2L2057.5 936.3L2056.7 936.3L2055.9 938.8L2055.1 938.8L2054.3 963.1L2053.4 963.1L2052.6 949.2L2051.8 938.6L2051.0 938.6L2050.2 939.7L2049.4 940.4L2048.5 941.7L2047.7 944.4L2046.9 944.4L2046.1 944.4L2045.3 945.3L2044.4 945.3L2043.6 936.8L2042.8 936.8L2042.0 936.8L2041.2 936.2L2040.3 936.2L2039.5 944.8L2038.7 944.8L2037.9 939.9L2037.1 939.9L2036.2 941.9L2035.4 941.9L2034.6 941.9L2033.8 936.0L2033.0 936.6L2032.1 936.6L2031.3 924.7L2030.5 924.7L2029.7 926.2L2028.9 926.2L2028.0 926.1L2027.2 913.7L2026.4 913.7L2025.6 913.7L2024.8 912.8L2023.9 924.8L2023.1 924.8L2022.3 916.6L2021.5 916.6L2020.7 909.9L2019.8 909.9L2019.0 899.7L2018.2 899.7L2017.4 892.2L2016.6 896.0L2015.8 896.0L2014.9 898.1L2014.1 915.7L2013.3 916.4L2012.5 927.7L2011.7 930.1L2010.8 931.9L2010.0 941.3L2009.2 941.3L2008.4 940.2L2007.6 940.2L2006.7 940.2L2005.9 929.2L2005.1 937.5L2004.3 937.5L2003.5 936.2L2002.6 936.2L2001.8 936.2L2001.0 936.2L2000.2 935.3L1999.4 950.6L1998.5 950.6L1997.7 950.6L1996.9 944.7L1996.1 944.7L1995.3 952.5L1994.4 952.5L1993.6 936.9L1992.8 936.9L1992.0 933.2L1991.2 933.2L1990.3 942.7L1989.5 942.7L1988.7 932.8L1987.9 942.8L1987.1 942.8L1986.3 941.6L1985.4 936.6L1984.6 936.6L1983.8 940.5L1983.0 940.5L1982.2 934.7L1981.3 934.7L1980.5 933.1L1979.7 933.0L1978.9 933.0L1978.1 942.8L1977.2 942.8L1976.4 923.8L1975.6 929.1L1974.8 929.1L1974.0 936.8L1973.1 939.8L1972.3 945.0L1971.5 945.0L1970.7 945.0L1969.9 925.0L1969.0 925.0L1968.2 932.6L1967.4 943.4L1966.6 943.4L1965.8 943.4L1964.9 932.5L1964.1 932.5L1963.3 940.2L1962.5 940.2L1961.7 938.0L1960.8 938.0L1960.0 956.0L1959.2 956.0L1958.4 926.5L1957.6 930.6L1956.7 930.6L1955.9 943.0L1955.1 943.0L1954.3 943.0L1953.5 939.5L1952.7 938.1L1951.8 938.1L1951.0 934.4L1950.2 930.8L1949.4 933.5L1948.6 933.5L1947.7 933.5L1946.9 926.3L1946.1 926.3L1945.3 933.6L1944.5 933.6L1943.6 937.6L1942.8 937.6L1942.0 935.6L1941.2 929.0L1940.4 929.0L1939.5 938.3L1938.7 939.3L1937.9 939.3L1937.1 945.2L1936.3 945.2L1935.4 941.1L1934.6 941.1L1933.8 940.2L1933.0 946.8L1932.2 946.8L1931.3 943.5L1930.5 943.2L1929.7 940.9L1928.9 940.9L1928.1 937.4L1927.2 935.1L1926.4 944.9L1925.6 944.9L1924.8 942.1L1924.0 936.0L1923.2 939.3L1922.3 939.3L1921.5 937.2L1920.7 937.0L1919.9 929.8L1919.1 932.8L1918.2 932.8L1917.4 936.9L1916.6 936.9L1915.8 930.5L1915.0 937.8L1914.1 939.0L1913.3 962.3L1912.5 962.3L1911.7 962.3L1910.9 932.2L1910.0 932.2L1909.2 947.1L1908.4 947.1L1907.6 947.1L1906.8 932.9L1905.9 935.6L1905.1 935.6L1904.3 935.6L1903.5 936.3L1902.7 941.5L1901.8 941.5L1901.0 932.6L1900.2 936.0L1899.4 936.0L1898.6 938.4L1897.7 938.4L1896.9 941.9L1896.1 941.9L1895.3 941.9L1894.5 930.7L1893.6 930.7L1892.8 930.7L1892.0 928.1L1891.2 932.8L1890.4 934.0L1889.6 934.5L1888.7 938.8L1887.9 938.8L1887.1 938.8L1886.3 930.1L1885.5 940.5L1884.6 940.5L1883.8 940.5L1883.0 933.0L1882.2 933.0L1881.4 966.8L1880.5 966.8L1879.7 966.8L1878.9 940.5L1878.1 940.5L1877.3 940.5L1876.4 931.9L1875.6 943.5L1874.8 953.1L1874.0 953.1L1873.2 940.0L1872.3 940.0L1871.5 945.6L1870.7 953.0L1869.9 953.0L1869.1 929.3L1868.2 921.5L1867.4 929.7L1866.6 941.7L1865.8 941.7L1865.0 940.8L1864.1 940.8L1863.3 940.8L1862.5 936.1L1861.7 942.7L1860.9 942.7L1860.1 942.7L1859.2 940.1L1858.4 941.2L1857.6 941.2L1856.8 942.9L1856.0 942.9L1855.1 942.8L1854.3 942.8L1853.5 933.2L1852.7 933.7L1851.9 933.7L1851.0 942.7L1850.2 942.7L1849.4 942.7L1848.6 932.2L1847.8 932.2L1846.9 930.7L1846.1 926.2L1845.3 935.2L1844.5 936.5L1843.7 941.0L1842.8 941.0L1842.0 925.1L1841.2 930.7L1840.4 930.7L1839.6 934.2L1838.7 944.9L1837.9 944.9L1837.1 944.9L1836.3 940.5L1835.5 940.5L1834.6 940.5L1833.8 941.0L1833.0 941.0L1832.2 941.7L1831.4 941.7L1830.5 941.7L1829.7 938.4L1828.9 938.4L1828.1 951.5L1827.3 951.5L1826.5 951.5L1825.6 934.6L1824.8 934.1L1824.0 934.1L1823.2 929.7L1822.4 938.4L1821.5 938.4L1820.7 938.4L1819.9 934.7L1819.1 931.6L1818.3 925.3L1817.4 925.3L1816.6 925.3L1815.8 923.6L1815.0 923.6L1814.2 922.1L1813.3 922.3L1812.5 922.3L1811.7 939.9L1810.9 939.9L1810.1 939.9L1809.2 927.8L1808.4 920.8L1807.6 926.9L1806.8 937.9L1806.0 937.9L1805.1 937.9L1804.3 929.7L1803.5 929.7L1802.7 929.7L1801.9 918.3L1801.0 918.3L1800.2 929.4L1799.4 942.9L1798.6 942.9L1797.8 942.9L1797.0 941.2L1796.1 928.7L1795.3 934.3L1794.5 934.3L1793.7 934.3L1792.9 925.3L1792.0 925.3L1791.2 940.2L1790.4 940.2L1789.6 940.2L1788.8 917.1L1787.9 922.5L1787.1 932.3L1786.3 933.0L1785.5 933.3L1784.7 941.1L1783.8 946.4L1783.0 946.4L1782.2 946.4L1781.4 932.9L1780.6 944.1L1779.7 944.1L1778.9 936.3L1778.1 939.8L1777.3 939.8L1776.5 939.8L1775.6 921.9L1774.8 914.5L1774.0 924.9L1773.2 925.5L1772.4 941.1L1771.5 941.1L1770.7 941.7L1769.9 941.7L1769.1 928.3L1768.3 933.3L1767.4 934.4L1766.6 934.4L1765.8 932.9L1765.0 925.8L1764.2 940.7L1763.4 940.7L1762.5 928.9L1761.7 934.2L1760.9 934.2L1760.1 933.8L1759.3 929.3L1758.4 930.1L1757.6 930.1L1756.8 930.6L1756.0 936.2L1755.2 936.2L1754.3 936.2L1753.5 926.8L1752.7 929.7L1751.9 929.7L1751.1 929.7L1750.2 935.0L1749.4 935.0L1748.6 934.5L1747.8 937.3L1747.0 937.3L1746.1 937.3L1745.3 915.6L1744.5 915.6L1743.7 925.9L1742.9 925.9L1742.0 924.2L1741.2 924.2L1740.4 924.2L1739.6 914.3L1738.8 919.4L1737.9 923.9L1737.1 923.9L1736.3 923.6L1735.5 923.6L1734.7 923.2L1733.9 922.0L1733.0 921.9L1732.2 921.9L1731.4 923.2L1730.6 926.2L1729.8 926.2L1728.9 925.4L1728.1 913.1L1727.3 914.1L1726.5 914.1L1725.7 935.3L1724.8 935.3L1724.0 935.3L1723.2 935.3L1722.4 935.3L1721.6 920.4L1720.7 920.4L1719.9 907.7L1719.1 910.8L1718.3 910.8L1717.5 907.3L1716.6 907.3L1715.8 907.3L1715.0 899.5L1714.2 889.6L1713.4 880.1L1712.5 872.7L1711.7 868.8L1710.9 868.8L1710.1 868.0L1709.3 860.7L1708.4 860.7L1707.6 836.1L1706.8 836.1L1706.0 819.6L1705.2 810.7L1704.3 793.7L1703.5 792.9L1702.7 791.0L1701.9 804.0L1701.1 810.6L1700.3 827.6L1699.4 827.8L1698.6 843.9L1697.8 870.3L1697.0 870.3L1696.2 870.3L1695.3 869.6L1694.5 873.5L1693.7 873.5L1692.9 887.6L1692.1 893.4L1691.2 893.4L1690.4 895.7L1689.6 895.7L1688.8 896.6L1688.0 905.6L1687.1 905.6L1686.3 909.5L1685.5 919.6L1684.7 919.6L1683.9 919.6L1683.0 915.6L1682.2 914.4L1681.4 914.4L1680.6 910.2L1679.8 916.7L1678.9 923.9L1678.1 923.9L1677.3 923.9L1676.5 919.1L1675.7 919.1L1674.8 919.0L1674.0 919.0L1673.2 921.5L1672.4 921.5L1671.6 921.5L1670.8 925.4L1669.9 932.8L1669.1 932.8L1668.3 932.8L1667.5 927.1L1666.7 920.6L1665.8 934.4L1665.0 938.5L1664.2 938.5L1663.4 938.5L1662.6 938.5L1661.7 929.0L1660.9 927.3L1660.1 911.8L1659.3 914.3L1658.5 920.5L1657.6 920.5L1656.8 915.9L1656.0 915.9L1655.2 915.9L1654.4 910.9L1653.5 920.0L1652.7 920.0L1651.9 920.0L1651.1 910.3L1650.3 913.6L1649.4 913.6L1648.6 913.6L1647.8 900.0L1647.0 909.2L1646.2 909.2L1645.3 909.2L1644.5 907.6L1643.7 906.5L1642.9 915.3L1642.1 915.3L1641.2 903.7L1640.4 903.7L1639.6 901.9L1638.8 903.7L1638.0 903.7L1637.2 897.2L1636.3 897.8L1635.5 905.8L1634.7 905.8L1633.9 905.8L1633.1 879.4L1632.2 855.1L1631.4 851.1L1630.6 846.8L1629.8 838.3L1629.0 838.3L1628.1 797.3L1627.3 797.3L1626.5 765.0L1625.7 757.4L1624.9 757.4L1624.0 757.5L1623.2 769.6L1622.4 780.6L1621.6 815.2L1620.8 815.2L1619.9 817.4L1619.1 828.6L1618.3 845.5L1617.5 858.3L1616.7 862.7L1615.8 862.7L1615.0 866.2L1614.2 906.6L1613.4 906.6L1612.6 906.6L1611.7 905.1L1610.9 905.1L1610.1 905.3L1609.3 905.3L1608.5 909.4L1607.7 914.0L1606.8 918.1L1606.0 918.1L1605.2 914.5L1604.4 914.5L1603.6 917.0L1602.7 917.0L1601.9 917.0L1601.1 915.6L1600.3 915.6L1599.5 915.6L1598.6 916.0L1597.8 924.2L1597.0 924.2L1596.2 911.7L1595.4 907.0L1594.5 924.8L1593.7 924.8L1592.9 917.6L1592.1 923.8L1591.3 923.8L1590.4 923.8L1589.6 925.6L1588.8 932.1L1588.0 932.1L1587.2 925.5L1586.3 919.4L1585.5 922.9L1584.7 927.6L1583.9 927.6L1583.1 930.7L1582.2 930.7L1581.4 930.7L1580.6 926.8L1579.8 922.9L1579.0 947.3L1578.1 947.3L1577.3 947.3L1576.5 924.7L1575.7 924.7L1574.9 924.7L1574.1 918.8L1573.2 925.6L1572.4 925.6L1571.6 925.6L1570.8 924.9L1570.0 925.4L1569.1 936.5L1568.3 936.5L1567.5 927.2L1566.7 924.5L1565.9 931.4L1565.0 931.4L1564.2 931.4L1563.4 920.2L1562.6 923.4L1561.8 923.4L1560.9 947.4L1560.1 947.4L1559.3 947.4L1558.5 907.7L1557.7 918.1L1556.8 930.4L1556.0 937.7L1555.2 942.6L1554.4 942.6L1553.6 934.3L1552.7 925.5L1551.9 925.5L1551.1 917.9L1550.3 917.7L1549.5 920.7L1548.6 929.0L1547.8 930.4L1547.0 940.0L1546.2 947.6L1545.4 947.6L1544.6 947.6L1543.7 946.6L1542.9 946.6L1542.1 928.9L1541.3 928.9L1540.5 928.4L1539.6 938.8L1538.8 938.8L1538.0 929.1L1537.2 929.1L1536.4 939.9L1535.5 939.9L1534.7 935.1L1533.9 929.2L1533.1 928.7L1532.3 918.0L1531.4 930.5L1530.6 930.5L1529.8 928.7L1529.0 922.2L1528.2 914.2L1527.3 917.9L1526.5 917.9L1525.7 936.4L1524.9 936.4L1524.1 934.4L1523.2 934.4L1522.4 924.5L1521.6 924.5L1520.8 918.0L1520.0 932.2L1519.1 932.2L1518.3 932.8L1517.5 932.9L1516.7 932.9L1515.9 932.9L1515.0 916.8L1514.2 929.1L1513.4 937.5L1512.6 937.5L1511.8 937.5L1511.0 932.8L1510.1 932.8L1509.3 925.4L1508.5 927.9L1507.7 935.7L1506.9 938.5L1506.0 938.5L1505.2 929.6L1504.4 932.0L1503.6 937.6L1502.8 937.6L1501.9 937.6L1501.1 927.5L1500.3 929.5L1499.5 929.8L1498.7 944.9L1497.8 944.9L1497.0 922.7L1496.2 927.7L1495.4 927.7L1494.6 927.7L1493.7 920.7L1492.9 922.5L1492.1 932.9L1491.3 937.9L1490.5 951.8L1489.6 951.8L1488.8 951.8L1488.0 920.5L1487.2 921.7L1486.4 921.7L1485.5 926.0L1484.7 926.0L1483.9 926.0L1483.1 925.5L1482.3 932.5L1481.5 932.5L1480.6 940.7L1479.8 943.0L1479.0 943.0L1478.2 928.9L1477.4 928.9L1476.5 928.9L1475.7 928.5L1474.9 928.5L1474.1 928.0L1473.3 928.8L1472.4 930.6L1471.6 930.6L1470.8 930.6L1470.0 931.4L1469.2 931.4L1468.3 934.4L1467.5 934.4L1466.7 934.4L1465.9 927.4L1465.1 927.4L1464.2 920.3L1463.4 921.0L1462.6 921.2L1461.8 938.1L1461.0 938.1L1460.1 930.9L1459.3 935.1L1458.5 935.1L1457.7 934.0L1456.9 932.5L1456.0 916.8L1455.2 923.8L1454.4 923.8L1453.6 928.1L1452.8 928.1L1451.9 928.1L1451.1 939.0L1450.3 939.0L1449.5 930.0L1448.7 930.0L1447.9 924.8L1447.0 929.5L1446.2 929.5L1445.4 923.6L1444.6 928.8L1443.8 928.8L1442.9 930.8L1442.1 930.8L1441.3 928.2L1440.5 914.4L1439.7 911.3L1438.8 918.6L1438.0 919.9L1437.2 919.9L1436.4 917.0L1435.6 926.6L1434.7 930.3L1433.9 930.3L1433.1 922.7L1432.3 922.7L1431.5 920.9L1430.6 920.9L1429.8 917.9L1429.0 927.8L1428.2 927.8L1427.4 918.5L1426.5 923.6L1425.7 925.8L1424.9 931.6L1424.1 931.6L1423.3 924.7L1422.4 924.7L1421.6 924.7L1420.8 913.4L1420.0 912.2L1419.2 923.7L1418.4 923.7L1417.5 919.9L1416.7 930.8L1415.9 930.8L1415.1 914.5L1414.3 924.1L1413.4 924.1L1412.6 921.9L1411.8 918.3L1411.0 918.3L1410.2 914.6L1409.3 914.6L1408.5 921.2L1407.7 921.2L1406.9 921.2L1406.1 921.0L1405.2 921.0L1404.4 910.0L1403.6 908.2L1402.8 908.5L1402.0 913.8L1401.1 913.8L1400.3 909.9L1399.5 904.1L1398.7 926.7L1397.9 926.7L1397.0 926.7L1396.2 918.9L1395.4 902.5L1394.6 899.4L1393.8 899.4L1392.9 897.5L1392.1 897.7L1391.3 897.7L1390.5 893.2L1389.7 893.2L1388.8 892.0L1388.0 892.0L1387.2 876.0L1386.4 876.0L1385.6 876.0L1384.8 872.7L1383.9 870.1L1383.1 870.1L1382.3 839.3L1381.5 839.3L1380.7 799.8L1379.8 793.8L1379.0 788.7L1378.2 768.4L1377.4 743.4L1376.6 705.7L1375.7 692.9L1374.9 647.4L1374.1 609.4L1373.3 562.7L1372.5 491.0L1371.6 491.0L1370.8 402.2L1370.0 415.4L1369.2 481.8L1368.4 525.1L1367.5 545.0L1366.7 597.3L1365.9 647.6L1365.1 686.0L1364.3 718.5L1363.4 751.6L1362.6 751.6L1361.8 786.7L1361.0 786.7L1360.2 798.2L1359.3 803.3L1358.5 814.2L1357.7 825.7L1356.9 844.4L1356.1 857.2L1355.3 857.2L1354.4 857.2L1353.6 863.6L1352.8 871.8L1352.0 880.3L1351.2 880.3L1350.3 883.3L1349.5 883.3L1348.7 887.1L1347.9 900.5L1347.1 910.3L1346.2 910.3L1345.4 910.3L1344.6 896.3L1343.8 902.9L1343.0 904.1L1342.1 914.0L1341.3 914.0L1340.5 915.9L1339.7 915.9L1338.9 906.1L1338.0 906.1L1337.2 918.9L1336.4 918.9L1335.6 905.1L1334.8 905.1L1333.9 911.1L1333.1 921.0L1332.3 924.1L1331.5 924.1L1330.7 924.1L1329.8 926.2L1329.0 926.2L1328.2 929.5L1327.4 929.5L1326.6 916.6L1325.7 916.6L1324.9 910.9L1324.1 916.5L1323.3 916.5L1322.5 914.0L1321.7 914.0L1320.8 917.5L1320.0 940.9L1319.2 940.9L1318.4 940.9L1317.6 937.3L1316.7 937.3L1315.9 936.0L1315.1 932.3L1314.3 932.3L1313.5 917.5L1312.6 929.5L1311.8 929.5L1311.0 934.8L1310.2 934.8L1309.4 934.8L1308.5 942.8L1307.7 942.8L1306.9 942.8L1306.1 916.2L1305.3 916.2L1304.4 915.1L1303.6 921.7L1302.8 921.7L1302.0 921.7L1301.2 920.9L1300.3 924.9L1299.5 935.7L1298.7 935.7L1297.9 935.7L1297.1 928.7L1296.2 928.7L1295.4 928.7L1294.6 932.6L1293.8 932.6L1293.0 932.6L1292.2 926.1L1291.3 933.5L1290.5 933.5L1289.7 924.4L1288.9 921.0L1288.1 917.5L1287.2 925.3L1286.4 925.5L1285.6 925.5L1284.8 925.5L1284.0 934.2L1283.1 934.2L1282.3 934.2L1281.5 922.5L1280.7 924.9L1279.9 924.9L1279.0 945.9L1278.2 945.9L1277.4 938.6L1276.6 937.4L1275.8 922.3L1274.9 921.6L1274.1 921.3L1273.3 913.0L1272.5 913.0L1271.7 924.4L1270.8 924.4L1270.0 917.6L1269.2 914.6L1268.4 915.2L1267.6 923.0L1266.7 923.0L1265.9 923.0L1265.1 920.3L1264.3 917.1L1263.5 917.1L1262.7 915.7L1261.8 918.1L1261.0 921.5L1260.2 921.5L1259.4 916.6L1258.6 922.7L1257.7 928.4L1256.9 928.4L1256.1 932.3L1255.3 932.3L1254.5 922.4L1253.6 925.9L1252.8 925.9L1252.0 925.9L1251.2 913.2L1250.4 913.2L1249.5 918.9L1248.7 918.9L1247.9 918.9L1247.1 908.0L1246.3 908.0L1245.4 913.8L1244.6 913.8L1243.8 913.8L1243.0 902.5L1242.2 887.8L1241.3 894.3L1240.5 894.3L1239.7 894.3L1238.9 893.0L1238.1 893.0L1237.2 893.0L1236.4 893.7L1235.6 893.7L1234.8 895.3L1234.0 895.3L1233.1 890.9L1232.3 890.9L1231.5 887.9L1230.7 887.9L1229.9 885.2L1229.1 883.6L1228.2 883.6L1227.4 872.3L1226.6 888.1L1225.8 888.1L1225.0 898.8L1224.1 898.8L1223.3 898.8L1222.5 879.0L1221.7 879.0L1220.9 876.9L1220.0 876.9L1219.2 887.6L1218.4 887.6L1217.6 875.1L1216.8 875.1L1215.9 870.4L1215.1 884.6L1214.3 885.5L1213.5 887.4L1212.7 887.4L1211.8 887.4L1211.0 883.9L1210.2 884.5L1209.4 884.8L1208.6 884.8L1207.7 889.6L1206.9 889.6L1206.1 880.8L1205.3 886.5L1204.5 886.5L1203.6 886.3L1202.8 882.2L1202.0 884.7L1201.2 886.8L1200.4 900.4L1199.6 900.4L1198.7 895.9L1197.9 895.9L1197.1 884.8L1196.3 892.3L1195.5 904.4L1194.6 904.4L1193.8 904.4L1193.0 911.7L1192.2 911.7L1191.4 893.5L1190.5 898.6L1189.7 907.7L1188.9 907.7L1188.1 907.7L1187.3 897.7L1186.4 892.1L1185.6 902.6L1184.8 921.8L1184.0 922.4L1183.2 922.4L1182.3 906.9L1181.5 906.9L1180.7 906.9L1179.9 915.5L1179.1 915.5L1178.2 897.1L1177.4 910.2L1176.6 913.1L1175.8 919.2L1175.0 919.2L1174.1 904.9L1173.3 920.4L1172.5 920.4L1171.7 907.5L1170.9 923.7L1170.0 923.7L1169.2 918.8L1168.4 918.8L1167.6 921.9L1166.8 921.9L1166.0 921.9L1165.1 928.8L1164.3 928.8L1163.5 928.7L1162.7 923.3L1161.9 922.7L1161.0 920.0L1160.2 934.0L1159.4 934.0L1158.6 934.0L1157.8 933.7L1156.9 927.4L1156.1 927.4L1155.3 931.0L1154.5 931.0L1153.7 931.0L1152.8 924.0L1152.0 932.0L1151.2 932.0L1150.4 932.0L1149.6 927.0L1148.7 924.5L1147.9 924.5L1147.1 916.4L1146.3 925.6L1145.5 925.6L1144.6 915.0L1143.8 915.9L1143.0 915.9L1142.2 915.9L1141.4 897.2L1140.5 896.3L1139.7 910.8L1138.9 910.8L1138.1 892.7L1137.3 897.1L1136.5 897.1L1135.6 897.1L1134.8 893.9L1134.0 897.3L1133.2 897.3L1132.4 886.3L1131.5 886.3L1130.7 890.2L1129.9 890.2L1129.1 885.5L1128.3 881.6L1127.4 881.6L1126.6 881.6L1125.8 882.5L1125.0 882.8L1124.2 892.6L1123.3 895.3L1122.5 895.3L1121.7 876.1L1120.9 872.7L1120.1 879.8L1119.2 884.0L1118.4 888.3L1117.6 888.3L1116.8 887.1L1116.0 887.1L1115.1 887.1L1114.3 883.3L1113.5 885.9L1112.7 885.9L1111.9 883.0L1111.0 889.1L1110.2 906.8L1109.4 906.8L1108.6 901.5L1107.8 901.5L1106.9 910.1L1106.1 910.1L1105.3 912.0L1104.5 912.0L1103.7 912.0L1102.9 909.5L1102.0 895.2L1101.2 901.8L1100.4 902.8L1099.6 902.8L1098.8 897.9L1097.9 899.5L1097.1 899.5L1096.3 899.5L1095.5 901.7L1094.7 901.7L1093.8 901.7L1093.0 904.8L1092.2 920.4L1091.4 920.4L1090.6 905.3L1089.7 896.7L1088.9 904.6L1088.1 904.6L1087.3 906.4L1086.5 921.3L1085.6 921.3L1084.8 921.3L1084.0 913.6L1083.2 913.6L1082.4 913.6L1081.5 920.2L1080.7 920.2L1079.9 925.5L1079.1 925.5L1078.3 925.5L1077.4 905.2L1076.6 909.0L1075.8 909.0L1075.0 912.3L1074.2 919.5L1073.4 919.5L1072.5 914.1L1071.7 914.1L1070.9 903.4L1070.1 918.2L1069.3 928.4L1068.4 928.4L1067.6 928.4L1066.8 922.4L1066.0 918.6L1065.2 918.6L1064.3 925.1L1063.5 925.1L1062.7 916.1L1061.9 916.1L1061.1 905.8L1060.2 915.5L1059.4 915.5L1058.6 916.8L1057.8 916.8L1057.0 916.8L1056.1 911.3L1055.3 911.6L1054.5 916.6L1053.7 916.6L1052.9 910.2L1052.0 910.2L1051.2 908.1L1050.4 924.2L1049.6 924.2L1048.8 921.5L1047.9 920.9L1047.1 919.4L1046.3 919.4L1045.5 919.4L1044.7 901.4L1043.8 911.6L1043.0 915.7L1042.2 915.7L1041.4 923.0L1040.6 923.0L1039.8 899.5L1038.9 908.7L1038.1 911.8L1037.3 926.0L1036.5 926.0L1035.7 914.2L1034.8 914.2L1034.0 914.2L1033.2 913.0L1032.4 898.7L1031.6 903.1L1030.7 903.1L1029.9 929.3L1029.1 929.3L1028.3 906.4L1027.5 906.4L1026.6 905.3L1025.8 902.4L1025.0 902.4L1024.2 902.4L1023.4 892.9L1022.5 899.5L1021.7 900.2L1020.9 900.2L1020.1 909.6L1019.3 924.0L1018.4 924.0L1017.6 924.0L1016.8 891.9L1016.0 903.3L1015.2 903.3L1014.3 903.3L1013.5 897.1L1012.7 897.1L1011.9 899.0L1011.1 899.0L1010.3 899.0L1009.4 888.7L1008.6 906.1L1007.8 906.1L1007.0 906.1L1006.2 897.5L1005.3 897.5L1004.5 897.5L1003.7 903.5L1002.9 904.3L1002.1 904.3L1001.2 904.3L1000.4 895.9L999.6 888.5L998.8 901.8L998.0 901.8L997.1 901.8L996.3 874.3L995.5 879.5L994.7 879.5L993.9 868.7L993.0 860.8L992.2 860.8L991.4 846.9L990.6 831.2L989.8 826.7L988.9 814.0L988.1 814.0L987.3 785.4L986.5 778.1L985.7 755.6L984.8 729.0L984.0 693.0L983.2 672.8L982.4 651.1L981.6 604.1L980.7 558.0L979.9 485.1L979.1 452.7L978.3 357.5L977.5 264.5L976.7 188.3L975.8 98.8L975.0 9.0L974.2 -48.7L973.4 -115.9L972.6 -116.6L971.7 -53.7L970.9 14.9L970.1 119.0L969.3 201.3L968.5 284.7L967.6 373.2L966.8 439.4L966.0 482.6L965.2 540.1L964.4 571.0L963.5 622.6L962.7 681.0L961.9 683.2L961.1 710.0L960.3 731.6L959.4 745.9L958.6 756.4L957.8 768.7L957.0 789.0L956.2 805.6L955.3 805.6L954.5 805.6L953.7 805.7L952.9 815.9L952.1 827.7L951.2 827.7L950.4 818.8L949.6 817.6L948.8 836.8L948.0 836.8L947.2 852.7L946.3 852.7L945.5 852.7L944.7 848.0L943.9 850.5L943.1 865.3L942.2 872.4L941.4 872.4L940.6 891.6L939.8 891.6L939.0 891.6L938.1 878.8L937.3 884.4L936.5 900.2L935.7 900.2L934.9 899.8L934.0 885.6L933.2 885.6L932.4 885.2L931.6 903.1L930.8 903.1L929.9 903.1L929.1 906.4L928.3 906.4L927.5 914.8L926.7 914.8L925.8 900.4L925.0 912.9L924.2 912.9L923.4 914.6L922.6 914.6L921.7 913.3L920.9 916.6L920.1 916.6L919.3 907.7L918.5 923.0L917.6 923.0L916.8 923.0L916.0 913.6L915.2 912.0L914.4 912.0L913.6 912.0L912.7 912.0L911.9 912.0L911.1 905.2L910.3 908.9L909.5 908.9L908.6 912.0L907.8 912.8L907.0 924.5L906.2 924.5L905.4 915.6L904.5 915.6L903.7 912.1L902.9 908.8L902.1 908.8L901.3 908.8L900.4 903.9L899.6 903.9L898.8 904.0L898.0 904.0L897.2 904.0L896.3 893.3L895.5 893.3L894.7 892.8L893.9 882.5L893.1 865.3L892.2 855.5L891.4 841.6L890.6 840.0L889.8 840.0L889.0 883.2L888.1 883.2L887.3 875.8L886.5 878.9L885.7 878.9L884.9 889.2L884.1 889.2L883.2 893.5L882.4 893.5L881.6 904.4L880.8 920.8L880.0 920.8L879.1 907.5L878.3 911.2L877.5 911.2L876.7 912.3L875.9 912.3L875.0 911.6L874.2 906.7L873.4 902.5L872.6 897.2L871.8 903.3L870.9 903.3L870.1 903.3L869.3 891.8L868.5 891.8L867.7 883.0L866.8 870.7L866.0 870.7L865.2 868.8L864.4 863.2L863.6 835.3L862.7 835.2L861.9 816.9L861.1 816.9L860.3 808.4L859.5 791.9L858.6 772.0L857.8 748.3L857.0 710.0L856.2 684.8L855.4 655.3L854.5 619.1L853.7 551.1L852.9 502.4L852.1 482.5L851.3 360.7L850.5 284.6L849.6 255.9L848.8 337.9L848.0 387.6L847.2 487.7L846.4 547.0L845.5 587.5L844.7 641.3L843.9 681.5L843.1 698.6L842.3 725.9L841.4 751.9L840.6 798.4L839.8 800.1L839.0 819.2L838.2 830.2L837.3 830.2L836.5 837.1L835.7 839.2L834.9 863.0L834.1 863.0L833.2 864.2L832.4 876.2L831.6 876.2L830.8 879.1L830.0 883.9L829.1 883.9L828.3 883.9L827.5 877.4L826.7 884.2L825.9 884.2L825.0 899.5L824.2 902.7L823.4 902.7L822.6 898.1L821.8 898.1L821.0 890.4L820.1 890.4L819.3 903.0L818.5 903.0L817.7 903.0L816.9 883.2L816.0 883.2L815.2 883.2L814.4 881.2L813.6 887.7L812.8 889.5L811.9 889.5L811.1 888.8L810.3 891.6L809.5 891.6L808.7 891.6L807.8 888.4L807.0 899.6L806.2 899.6L805.4 890.8L804.6 883.6L803.7 891.7L802.9 891.7L802.1 874.9L801.3 874.9L800.5 874.2L799.6 874.2L798.8 874.1L798.0 857.3L797.2 854.6L796.4 836.7L795.5 836.7L794.7 830.0L793.9 826.2L793.1 824.0L792.3 822.6L791.4 801.8L790.6 808.1L789.8 808.1L789.0 804.1L788.2 800.5L787.4 800.5L786.5 804.4L785.7 804.4L784.9 814.7L784.1 814.7L783.3 814.7L782.4 802.4L781.6 802.4L780.8 796.1L780.0 796.1L779.2 796.1L778.3 807.1L777.5 811.2L776.7 820.0L775.9 820.0L775.1 855.0L774.2 855.0L773.4 855.0L772.6 852.5L771.8 857.4L771.0 857.4L770.1 867.2L769.3 877.7L768.5 892.1L767.7 892.1L766.9 891.2L766.0 888.4L765.2 905.3L764.4 905.3L763.6 905.3L762.8 902.6L761.9 905.0L761.1 905.0L760.3 900.5L759.5 903.2L758.7 909.8L757.9 909.8L757.0 909.8L756.2 900.4L755.4 900.8L754.6 907.5L753.8 907.5L752.9 905.6L752.1 907.0L751.3 908.0L750.5 908.0L749.7 908.0L748.8 906.2L748.0 897.8L747.2 897.8L746.4 900.4L745.6 900.4L744.7 898.9L743.9 899.7L743.1 899.7L742.3 899.7L741.5 900.0L740.6 915.4L739.8 915.4L739.0 915.4L738.2 917.8L737.4 917.8L736.5 914.7L735.7 914.7L734.9 914.7L734.1 893.0L733.3 893.0L732.4 921.6L731.6 921.6L730.8 906.5L730.0 898.4L729.2 898.6L728.3 903.9L727.5 907.8L726.7 907.8L725.9 907.8L725.1 898.9L724.3 903.1L723.4 903.1L722.6 901.9L721.8 910.6L721.0 926.4L720.2 926.4L719.3 926.4L718.5 905.1L717.7 888.0L716.9 895.2L716.1 897.6L715.2 907.2L714.4 910.8L713.6 910.8L712.8 893.8L712.0 893.8L711.1 894.5L710.3 894.5L709.5 889.6L708.7 911.2L707.9 911.2L707.0 902.5L706.2 902.5L705.4 896.1L704.6 896.1L703.8 895.6L702.9 898.5L702.1 898.5L701.3 898.5L700.5 885.5L699.7 903.9L698.8 903.9L698.0 890.3L697.2 890.3L696.4 884.6L695.6 890.6L694.8 898.6L693.9 898.6L693.1 895.3L692.3 892.7L691.5 892.7L690.7 884.3L689.8 891.7L689.0 892.0L688.2 892.0L687.4 897.2L686.6 897.2L685.7 897.2L684.9 878.9L684.1 884.1L683.3 884.1L682.5 863.9L681.6 863.8L680.8 872.5L680.0 872.5L679.2 872.5L678.4 872.5L677.5 867.8L676.7 863.0L675.9 863.0L675.1 876.2L674.3 876.2L673.4 884.0L672.6 891.1L671.8 891.1L671.0 891.1L670.2 880.8L669.3 892.1L668.5 896.4L667.7 896.4L666.9 896.4L666.1 893.4L665.2 885.5L664.4 885.5L663.6 885.5L662.8 883.1L662.0 901.7L661.2 901.7L660.3 907.0L659.5 907.0L658.7 905.7L657.9 905.7L657.1 905.7L656.2 900.9L655.4 900.9L654.6 899.2L653.8 899.2L653.0 915.7L652.1 925.5L651.3 925.5L650.5 913.2L649.7 913.2L648.9 913.2L648.0 928.7L647.2 928.7L646.4 897.4L645.6 892.1L644.8 908.3L643.9 908.3L643.1 908.3L642.3 905.0L641.5 905.0L640.7 912.6L639.8 912.6L639.0 895.7L638.2 903.2L637.4 903.2L636.6 897.8L635.7 897.8L634.9 906.2L634.1 912.3L633.3 912.3L632.5 904.5L631.7 897.9L630.8 905.7L630.0 905.7L629.2 902.1L628.4 912.4L627.6 912.4L626.7 903.9L625.9 903.9L625.1 904.4L624.3 911.5L623.5 911.5L622.6 895.4L621.8 896.7L621.0 906.0L620.2 906.0L619.4 938.3L618.5 938.3L617.7 893.9L616.9 917.8L616.1 917.8L615.3 917.8L614.4 898.8L613.6 893.5L612.8 920.3L612.0 920.3L611.2 920.3L610.3 893.2L609.5 892.7L608.7 892.7L607.9 892.8L607.1 892.8L606.2 892.8L605.4 886.1L604.6 901.5L603.8 901.5L603.0 887.2L602.1 880.9L601.3 880.9L600.5 878.2L599.7 878.2L598.9 867.6L598.1 866.9L597.2 866.9L596.4 853.1L595.6 848.6L594.8 832.7L594.0 805.0L593.1 794.6L592.3 779.7L591.5 779.7L590.7 754.5L589.9 736.0L589.0 717.4L588.2 717.4L587.4 687.7L586.6 674.5L585.8 680.5L584.9 684.0L584.1 690.2L583.3 690.2L582.5 690.8L581.7 736.2L580.8 736.7L580.0 746.4L579.2 746.4L578.4 796.2L577.6 796.2L576.7 797.2L575.9 803.8L575.1 805.2L574.3 817.4L573.5 817.5L572.6 820.9L571.8 820.9L571.0 820.9L570.2 798.0L569.4 793.9L568.6 787.6L567.7 740.6L566.9 727.9L566.1 714.2L565.3 723.2L564.5 739.4L563.6 753.2L562.8 793.8L562.0 793.8L561.2 801.7L560.4 844.3L559.5 844.3L558.7 862.9L557.9 873.3L557.1 874.5L556.3 874.5L555.4 879.1L554.6 879.1L553.8 890.7L553.0 890.7L552.2 887.2L551.3 903.2L550.5 903.2L549.7 889.6L548.9 887.7L548.1 893.1L547.2 893.1L546.4 893.1L545.6 889.9L544.8 889.9L544.0 887.0L543.1 887.4L542.3 890.0L541.5 890.0L540.7 893.4L539.9 893.4L539.0 893.4L538.2 892.0L537.4 892.0L536.6 869.4L535.8 896.9L535.0 896.9L534.1 896.9L533.3 894.4L532.5 892.0L531.7 894.0L530.9 900.0L530.0 909.8L529.2 912.1L528.4 912.1L527.6 896.4L526.8 896.4L525.9 896.4L525.1 899.9L524.3 899.9L523.5 899.9L522.7 897.8L521.8 881.2L521.0 893.6L520.2 907.1L519.4 907.1L518.6 907.1L517.7 894.9L516.9 894.9L516.1 891.4L515.3 884.8L514.5 882.2L513.6 882.9L512.8 885.8L512.0 885.8L511.2 885.8L510.4 879.4L509.5 905.2L508.7 905.2L507.9 905.2L507.1 892.0L506.3 887.9L505.5 887.9L504.6 898.4L503.8 898.4L503.0 898.4L502.2 890.7L501.4 893.3L500.5 893.3L499.7 891.9L498.9 887.9L498.1 884.8L497.3 898.5L496.4 898.5L495.6 883.7L494.8 883.7L494.0 888.6L493.2 888.6L492.3 877.3L491.5 879.3L490.7 891.9L489.9 891.9L489.1 890.4L488.2 885.7L487.4 906.5L486.6 906.5L485.8 890.4L485.0 896.6L484.1 898.2L483.3 898.2L482.5 881.9L481.7 886.7L480.9 886.7L480.0 886.7L479.2 915.2L478.4 915.2L477.6 915.2L476.8 890.0L475.9 890.0L475.1 894.3L474.3 894.3L473.5 885.0L472.7 880.9L471.9 883.2L471.0 883.2L470.2 883.2L469.4 895.3L468.6 895.3L467.8 886.4L466.9 879.9L466.1 879.2L465.3 882.3L464.5 882.4L463.7 882.4L462.8 882.4L462.0 884.5L461.2 884.5L460.4 884.5L459.6 871.0L458.7 865.2L457.9 890.1L457.1 890.1L456.3 890.1L455.5 878.7L454.6 872.3L453.8 893.2L453.0 893.2L452.2 881.9L451.4 881.9L450.5 879.4L449.7 879.4L448.9 874.4L448.1 874.4L447.3 871.3L446.4 871.3L445.6 896.9L444.8 896.9L444.0 879.9L443.2 879.9L442.4 869.8L441.5 869.8L440.7 866.1L439.9 866.1L439.1 868.8L438.3 868.9L437.4 871.2L436.6 896.3L435.8 896.3L435.0 896.3L434.2 887.4L433.3 887.4L432.5 869.5L431.7 869.5L430.9 864.7L430.1 877.6L429.2 877.6L428.4 871.0L427.6 871.0L426.8 884.0L426.0 884.0L425.1 884.0L424.3 869.3L423.5 869.3L422.7 850.7L421.9 864.5L421.0 870.0L420.2 870.0L419.4 885.3L418.6 885.3L417.8 867.0L416.9 867.0L416.1 868.7L415.3 868.7L414.5 868.7L413.7 862.8L412.8 862.8L412.0 849.6L411.2 849.4L410.4 864.3L409.6 864.3L408.8 864.3L407.9 880.4L407.1 880.4L406.3 848.9L405.5 859.3L404.7 861.4L403.8 864.4L403.0 864.4L402.2 864.4L401.4 844.5L400.6 844.5L399.7 845.1L398.9 845.1L398.1 845.1L397.3 851.6L396.5 855.8L395.6 864.6L394.8 864.6L394.0 864.6L393.2 855.9L392.4 871.3L391.5 871.3L390.7 871.3L389.9 888.3L389.1 888.3L388.3 861.3L387.4 861.3L386.6 868.0L385.8 868.0L385.0 859.5L384.2 859.5L383.3 850.6L382.5 850.2L381.7 860.2L380.9 860.2L380.1 851.9L379.3 853.1L378.4 853.1L377.6 845.5L376.8 865.9L376.0 865.9L375.2 865.9L374.3 865.0L373.5 865.0L372.7 852.0L371.9 852.0L371.1 853.3L370.2 856.1L369.4 857.0L368.6 857.0L367.8 867.5L367.0 867.5L366.1 867.5L365.3 850.1L364.5 850.1L363.7 839.4L362.9 856.8L362.0 859.8L361.2 859.8L360.4 861.1L359.6 861.1L358.8 857.2L357.9 857.2L357.1 864.3L356.3 864.3L355.5 849.8L354.7 860.9L353.8 863.1L353.0 866.6L352.2 868.4L351.4 868.4L350.6 854.1L349.7 856.4L348.9 858.4L348.1 858.4L347.3 858.4L346.5 855.2L345.7 857.7L344.8 894.3L344.0 894.3L343.2 894.3L342.4 866.1L341.6 866.1L340.7 864.5L339.9 864.5L339.1 864.5L338.3 864.4L337.5 879.0L336.6 879.0L335.8 858.1L335.0 858.1L334.2 865.1L333.4 865.1L332.5 865.1L331.7 873.9L330.9 873.9L330.1 867.8L329.3 880.9L328.4 880.9L327.6 880.9L326.8 857.1L326.0 857.1L325.2 855.3L324.3 859.9L323.5 863.3L322.7 874.4L321.9 874.4L321.1 874.4L320.2 871.0L319.4 877.4L318.6 877.4L317.8 865.2L317.0 865.2L316.2 876.0L315.3 876.0L314.5 860.6L313.7 862.7L312.9 869.0L312.1 869.0L311.2 869.0L310.4 868.7L309.6 874.3L308.8 874.3L308.0 864.6L307.1 864.6L306.3 856.2L305.5 856.2L304.7 849.5L303.9 855.7L303.0 858.4L302.2 858.6L301.4 858.6Z"/>
<path d="M301.4 1348.8L302.2 1348.8L303.0 1348.8L303.9 1358.5L304.7 1354.2L305.5 1351.5L306.3 1350.2L307.1 1342.6L308.0 1342.6L308.8 1343.5L309.6 1343.5L310.4 1345.5L311.2 1346.5L312.1 1350.9L312.9 1350.9L313.7 1337.6L314.5 1337.6L315.3 1350.0L316.2 1350.0L317.0 1350.0L317.8 1343.0L318.6 1343.0L319.4 1343.0L320.2 1346.2L321.1 1346.2L321.9 1350.0L322.7 1350.0L323.5 1348.5L324.3 1348.5L325.2 1348.1L326.0 1348.1L326.8 1348.1L327.6 1343.1L328.4 1343.1L329.3 1343.1L330.1 1348.2L330.9 1332.8L331.7 1332.8L332.5 1332.8L333.4 1345.9L334.2 1350.6L335.0 1348.1L335.8 1348.1L336.6 1348.1L337.5 1338.4L338.3 1338.4L339.1 1340.4L339.9 1354.2L340.7 1346.2L341.6 1341.9L342.4 1341.9L343.2 1341.9L344.0 1347.0L344.8 1349.0L345.7 1349.9L346.5 1349.9L347.3 1341.3L348.1 1340.3L348.9 1340.3L349.7 1344.9L350.6 1347.3L351.4 1348.4L352.2 1350.3L353.0 1340.9L353.8 1340.9L354.7 1341.2L355.5 1342.6L356.3 1342.6L357.1 1340.1L357.9 1340.1L358.8 1340.1L359.6 1343.3L360.4 1351.0L361.2 1351.9L362.0 1342.7L362.9 1342.7L363.7 1344.4L364.5 1344.4L365.3 1338.6L366.1 1338.6L367.0 1338.6L367.8 1341.9L368.6 1346.7L369.4 1346.7L370.2 1348.1L371.1 1347.3L371.9 1340.0L372.7 1340.0L373.5 1340.0L374.3 1341.2L375.2 1341.2L376.0 1351.8L376.8 1351.8L377.6 1351.8L378.4 1347.6L379.3 1347.6L380.1 1347.2L380.9 1347.2L381.7 1349.4L382.5 1349.4L383.3 1349.4L384.2 1357.4L385.0 1349.6L385.8 1349.6L386.6 1349.6L387.4 1343.8L388.3 1343.8L389.1 1343.8L389.9 1349.0L390.7 1348.3L391.5 1335.2L392.4 1335.2L393.2 1335.2L394.0 1347.6L394.8 1337.6L395.6 1337.6L396.5 1340.2L397.3 1350.5L398.1 1349.1L398.9 1349.1L399.7 1349.1L400.6 1349.2L401.4 1342.3L402.2 1342.3L403.0 1346.7L403.8 1346.7L404.7 1346.7L405.5 1349.2L406.3 1353.4L407.1 1347.4L407.9 1347.4L408.8 1347.4L409.6 1349.9L410.4 1330.1L411.2 1328.9L412.0 1328.9L412.8 1328.9L413.7 1342.0L414.5 1342.0L415.3 1345.7L416.1 1345.0L416.9 1345.0L417.8 1336.3L418.6 1336.3L419.4 1336.2L420.2 1336.2L421.0 1336.2L421.9 1340.9L422.7 1350.2L423.5 1348.9L424.3 1337.8L425.1 1337.8L426.0 1343.2L426.8 1343.2L427.6 1333.4L428.4 1333.4L429.2 1333.4L430.1 1342.5L430.9 1344.0L431.7 1344.0L432.5 1344.0L433.3 1349.8L434.2 1345.0L435.0 1345.0L435.8 1345.0L436.6 1360.0L437.4 1356.6L438.3 1356.6L439.1 1359.6L439.9 1352.8L440.7 1351.7L441.5 1351.7L442.4 1354.2L443.2 1355.2L444.0 1356.4L444.8 1356.4L445.6 1352.9L446.4 1352.9L447.3 1356.1L448.1 1355.6L448.9 1355.6L449.7 1357.7L450.5 1353.7L451.4 1353.7L452.2 1353.7L453.0 1348.4L453.8 1348.4L454.6 1352.5L455.5 1352.5L456.3 1356.4L457.1 1356.4L457.9 1349.1L458.7 1349.1L459.6 1363.1L460.4 1362.1L461.2 1348.4L462.0 1348.4L462.8 1348.4L463.7 1352.1L464.5 1352.1L465.3 1350.5L466.1 1350.5L466.9 1350.5L467.8 1357.3L468.6 1362.3L469.4 1353.4L470.2 1353.4L471.0 1358.4L471.9 1358.2L472.7 1347.4L473.5 1347.4L474.3 1346.7L475.1 1346.7L475.9 1345.2L476.8 1344.9L477.6 1344.9L478.4 1353.5L479.2 1346.8L480.0 1346.8L480.9 1337.5L481.7 1337.5L482.5 1323.5L483.3 1323.5L484.1 1323.5L485.0 1321.8L485.8 1318.4L486.6 1306.2L487.4 1304.5L488.2 1289.3L489.1 1287.2L489.9 1287.2L490.7 1271.1L491.5 1271.1L492.3 1271.1L493.2 1277.3L494.0 1281.8L494.8 1297.2L495.6 1318.1L496.4 1325.2L497.3 1325.2L498.1 1327.2L498.9 1338.6L499.7 1344.1L500.5 1344.1L501.4 1362.9L502.2 1362.9L503.0 1359.3L503.8 1356.0L504.6 1350.2L505.5 1347.4L506.3 1347.4L507.1 1347.4L507.9 1359.5L508.7 1359.0L509.5 1358.1L510.4 1358.1L511.2 1362.6L512.0 1362.6L512.8 1362.8L513.6 1362.8L514.5 1362.8L515.3 1367.4L516.1 1360.6L516.9 1353.9L517.7 1353.9L518.6 1353.9L519.4 1357.3L520.2 1359.3L521.0 1359.3L521.8 1359.9L522.7 1352.4L523.5 1352.4L524.3 1352.4L525.1 1363.5L525.9 1356.8L526.8 1356.8L527.6 1356.8L528.4 1358.6L529.2 1358.6L530.0 1358.6L530.9 1359.0L531.7 1359.0L532.5 1359.0L533.3 1350.1L534.1 1350.1L535.0 1350.1L535.8 1357.6L536.6 1357.6L537.4 1363.4L538.2 1363.4L539.0 1360.5L539.9 1353.3L540.7 1353.3L541.5 1353.3L542.3 1365.7L543.1 1367.2L544.0 1358.7L544.8 1355.6L545.6 1355.6L546.4 1357.5L547.2 1357.6L548.1 1357.6L548.9 1357.6L549.7 1359.5L550.5 1362.4L551.3 1362.4L552.2 1363.1L553.0 1363.5L553.8 1363.5L554.6 1357.9L555.4 1357.9L556.3 1360.1L557.1 1356.1L557.9 1356.1L558.7 1356.1L559.5 1357.0L560.4 1355.1L561.2 1355.1L562.0 1359.3L562.8 1359.3L563.6 1358.3L564.5 1358.3L565.3 1353.7L566.1 1353.7L566.9 1353.7L567.7 1356.4L568.6 1356.4L569.4 1359.5L570.2 1359.5L571.0 1358.8L571.8 1352.1L572.6 1352.1L573.5 1352.1L574.3 1349.6L575.1 1349.6L575.9 1349.6L576.7 1356.2L577.6 1349.8L578.4 1349.8L579.2 1349.8L580.0 1351.5L580.8 1345.8L581.7 1345.8L582.5 1345.8L583.3 1343.5L584.1 1332.6L584.9 1323.4L585.8 1302.6L586.6 1291.9L587.4 1276.4L588.2 1260.3L589.0 1246.0L589.9 1222.2L590.7 1209.7L591.5 1209.7L592.3 1235.0L593.1 1256.3L594.0 1259.8L594.8 1278.7L595.6 1295.8L596.4 1307.1L597.2 1324.8L598.1 1326.1L598.9 1332.9L599.7 1336.0L600.5 1338.5L601.3 1334.8L602.1 1328.0L603.0 1315.8L603.8 1309.1L604.6 1299.6L605.4 1283.3L606.2 1283.3L607.1 1266.2L607.9 1266.2L608.7 1283.7L609.5 1278.8L610.3 1278.8L611.2 1289.6L612.0 1310.9L612.8 1314.4L613.6 1337.9L614.4 1337.9L615.3 1337.3L616.1 1337.3L616.9 1340.7L617.7 1343.4L618.5 1352.0L619.4 1352.0L620.2 1352.0L621.0 1351.1L621.8 1351.1L622.6 1351.1L623.5 1357.5L624.3 1357.9L625.1 1354.7L625.9 1354.7L626.7 1354.7L627.6 1359.1L628.4 1360.9L629.2 1360.9L630.0 1364.5L630.8 1363.2L631.7 1363.2L632.5 1353.3L633.3 1353.3L634.1 1353.8L634.9 1356.2L635.7 1360.2L636.6 1360.2L637.4 1362.8L638.2 1356.9L639.0 1356.9L639.8 1359.0L640.7 1359.6L641.5 1359.6L642.3 1364.0L643.1 1361.3L643.9 1361.3L644.8 1361.3L645.6 1366.5L646.4 1360.4L647.2 1360.4L648.0 1360.4L648.9 1367.3L649.7 1369.1L650.5 1372.5L651.3 1365.3L652.1 1365.3L653.0 1365.3L653.8 1357.2L654.6 1357.2L655.4 1364.6L656.2 1354.1L657.1 1354.1L657.9 1354.1L658.7 1357.8L659.5 1357.8L660.3 1359.7L661.2 1359.7L662.0 1361.4L662.8 1361.4L663.6 1363.6L664.4 1363.6L665.2 1359.5L666.1 1359.5L666.9 1353.2L667.7 1353.2L668.5 1353.2L669.3 1371.3L670.2 1370.4L671.0 1357.3L671.8 1357.3L672.6 1357.3L673.4 1348.6L674.3 1348.6L675.1 1359.6L675.9 1360.3L676.7 1360.3L677.5 1360.0L678.4 1360.0L679.2 1363.6L680.0 1365.5L680.8 1367.1L681.6 1363.3L682.5 1363.3L683.3 1359.9L684.1 1357.5L684.9 1357.5L685.7 1357.5L686.6 1359.7L687.4 1351.1L688.2 1351.1L689.0 1351.1L689.8 1351.7L690.7 1351.7L691.5 1349.3L692.3 1349.3L693.1 1334.0L693.9 1334.0L694.8 1334.0L695.6 1331.6L696.4 1331.6L697.2 1311.0L698.0 1311.0L698.8 1311.0L699.7 1327.7L700.5 1327.7L701.3 1322.6L702.1 1322.6L702.9 1334.5L703.8 1327.8L704.6 1327.8L705.4 1327.8L706.2 1345.7L707.0 1351.0L707.9 1352.2L708.7 1348.0L709.5 1348.0L710.3 1348.0L711.1 1347.6L712.0 1343.1L712.8 1339.8L713.6 1339.8L714.4 1337.7L715.2 1332.9L716.1 1332.9L716.9 1332.9L717.7 1335.9L718.5 1324.5L719.3 1324.5L720.2 1316.0L721.0 1304.0L721.8 1297.1L722.6 1276.9L723.4 1258.5L724.3 1234.4L725.1 1216.1L725.9 1189.3L726.7 1157.7L727.5 1118.0L728.3 1066.0L729.2 1056.0L730.0 1037.0L730.8 1037.0L731.6 1037.1L732.4 1073.8L733.3 1114.0L734.1 1126.5L734.9 1186.9L735.7 1204.0L736.5 1236.3L737.4 1248.4L738.2 1271.9L739.0 1278.7L739.8 1286.9L740.6 1295.8L741.5 1290.9L742.3 1290.9L743.1 1298.0L743.9 1298.9L744.7 1299.2L745.6 1299.2L746.4 1323.4L747.2 1319.7L748.0 1319.7L748.8 1320.6L749.7 1325.1L750.5 1336.2L751.3 1336.2L752.1 1341.7L752.9 1350.7L753.8 1350.7L754.6 1339.3L755.4 1339.3L756.2 1339.3L757.0 1349.4L757.9 1346.4L758.7 1346.4L759.5 1361.6L760.3 1361.6L761.1 1362.5L761.9 1362.5L762.8 1364.0L763.6 1356.7L764.4 1356.7L765.2 1363.4L766.0 1363.4L766.9 1363.1L767.7 1363.1L768.5 1354.9L769.3 1354.9L770.1 1354.9L771.0 1363.7L771.8 1366.5L772.6 1365.4L773.4 1365.4L774.2 1356.4L775.1 1356.4L775.9 1363.0L776.7 1363.0L777.5 1370.6L778.3 1366.5L779.2 1361.0L780.0 1361.0L780.8 1361.0L781.6 1368.9L782.4 1367.5L783.3 1363.1L784.1 1358.8L784.9 1356.7L785.7 1356.7L786.5 1367.6L787.4 1366.5L788.2 1366.5L789.0 1366.5L789.8 1366.5L790.6 1361.7L791.4 1359.9L792.3 1359.9L793.1 1359.9L793.9 1364.9L794.7 1358.8L795.5 1358.8L796.4 1362.0L797.2 1361.0L798.0 1361.0L798.8 1361.0L799.6 1364.5L800.5 1368.0L801.3 1368.0L802.1 1364.8L802.9 1364.8L803.7 1364.8L804.6 1353.2L805.4 1353.2L806.2 1353.2L807.0 1360.5L807.8 1360.6L808.7 1359.5L809.5 1359.5L810.3 1367.7L811.1 1368.4L811.9 1364.1L812.8 1364.1L813.6 1366.7L814.4 1365.7L815.2 1361.7L816.0 1361.7L816.9 1362.1L817.7 1368.7L818.5 1368.2L819.3 1366.8L820.1 1366.8L821.0 1365.5L821.8 1357.9L822.6 1357.9L823.4 1352.9L824.2 1352.9L825.0 1354.7L825.9 1358.9L826.7 1355.5L827.5 1355.5L828.3 1355.5L829.1 1359.7L830.0 1360.0L830.8 1360.6L831.6 1350.9L832.4 1349.8L833.2 1347.2L834.1 1347.2L834.9 1347.0L835.7 1347.0L836.5 1342.8L837.3 1341.7L838.2 1314.0L839.0 1312.1L839.8 1299.6L840.6 1299.6L841.4 1297.7L842.3 1284.7L843.1 1281.4L843.9 1273.0L844.7 1258.7L845.5 1245.5L846.4 1226.1L847.2 1226.1L848.0 1218.0L848.8 1213.7L849.6 1207.7L850.5 1207.7L851.3 1207.7L852.1 1208.7L852.9 1208.7L853.7 1206.5L854.5 1205.6L855.4 1203.8L856.2 1203.8L857.0 1217.3L857.8 1226.5L858.6 1242.7L859.5 1247.3L860.3 1248.6L861.1 1251.4L861.9 1260.5L862.7 1260.5L863.6 1260.5L864.4 1266.6L865.2 1266.6L866.0 1295.0L866.8 1295.0L867.7 1301.1L868.5 1311.9L869.3 1313.8L870.1 1313.8L870.9 1331.6L871.8 1320.0L872.6 1320.0L873.4 1320.0L874.2 1334.0L875.0 1340.7L875.9 1342.8L876.7 1347.8L877.5 1348.5L878.3 1348.5L879.1 1345.8L880.0 1345.8L880.8 1355.1L881.6 1355.1L882.4 1355.1L883.2 1349.5L884.1 1349.5L884.9 1349.8L885.7 1336.5L886.5 1336.5L887.3 1336.5L888.1 1331.0L889.0 1325.9L889.8 1325.9L890.6 1336.6L891.4 1336.6L892.2 1334.7L893.1 1329.4L893.9 1329.4L894.7 1329.4L895.5 1338.5L896.3 1338.5L897.2 1343.8L898.0 1344.2L898.8 1344.2L899.6 1352.7L900.4 1352.9L901.3 1354.6L902.1 1354.6L902.9 1358.3L903.7 1358.3L904.5 1364.1L905.4 1368.7L906.2 1370.1L907.0 1368.0L907.8 1368.0L908.6 1359.2L909.5 1359.2L910.3 1349.4L911.1 1349.4L911.9 1349.4L912.7 1361.8L913.6 1358.0L914.4 1358.0L915.2 1358.0L916.0 1357.1L916.8 1357.1L917.6 1357.1L918.5 1354.8L919.3 1354.8L920.1 1354.8L920.9 1360.7L921.7 1356.7L922.6 1356.7L923.4 1356.7L924.2 1363.4L925.0 1359.6L925.8 1359.6L926.7 1369.7L927.5 1365.9L928.3 1365.9L929.1 1367.3L929.9 1357.4L930.8 1357.2L931.6 1357.2L932.4 1369.3L933.2 1357.3L934.0 1357.3L934.9 1357.3L935.7 1368.5L936.5 1356.1L937.3 1356.1L938.1 1353.7L939.0 1353.7L939.8 1353.7L940.6 1357.1L941.4 1357.1L942.2 1350.2L943.1 1332.4L943.9 1332.4L944.7 1332.3L945.5 1320.5L946.3 1320.4L947.2 1315.5L948.0 1309.5L948.8 1306.5L949.6 1304.4L950.4 1299.4L951.2 1298.8L952.1 1298.8L952.9 1299.5L953.7 1299.5L954.5 1305.5L955.3 1303.0L956.2 1303.0L957.0 1303.0L957.8 1313.6L958.6 1309.7L959.4 1306.5L960.3 1299.8L961.1 1296.8L961.9 1296.8L962.7 1302.6L963.5 1302.6L964.4 1311.7L965.2 1312.8L966.0 1312.8L966.8 1315.3L967.6 1316.7L968.5 1318.7L969.3 1323.1L970.1 1321.7L970.9 1321.7L971.7 1309.3L972.6 1279.2L973.4 1274.4L974.2 1260.3L975.0 1238.4L975.8 1206.7L976.7 1162.9L977.5 1115.2L978.3 1088.5L979.1 1059.9L979.9 1046.6L980.7 1039.4L981.6 1034.8L982.4 1034.8L983.2 1067.5L984.0 1110.8L984.8 1140.0L985.7 1184.2L986.5 1222.5L987.3 1250.3L988.1 1260.9L988.9 1285.5L989.8 1282.2L990.6 1282.2L991.4 1309.0L992.2 1331.1L993.0 1335.6L993.9 1335.6L994.7 1335.6L995.5 1339.5L996.3 1339.5L997.1 1342.4L998.0 1339.1L998.8 1336.4L999.6 1335.1L1000.4 1309.7L1001.2 1290.3L1002.1 1280.7L1002.9 1255.8L1003.7 1224.3L1004.5 1205.7L1005.3 1156.2L1006.2 1096.0L1007.0 1031.7L1007.8 1001.1L1008.6 970.8L1009.4 960.8L1010.3 960.8L1011.1 984.9L1011.9 1039.3L1012.7 1088.8L1013.5 1141.5L1014.3 1187.0L1015.2 1211.3L1016.0 1252.6L1016.8 1283.0L1017.6 1290.5L1018.4 1306.2L1019.3 1321.4L1020.1 1327.4L1020.9 1331.3L1021.7 1331.3L1022.5 1340.5L1023.4 1339.3L1024.2 1339.3L1025.0 1341.0L1025.8 1343.5L1026.6 1350.5L1027.5 1351.6L1028.3 1351.6L1029.1 1350.5L1029.9 1350.5L1030.7 1350.5L1031.6 1353.3L1032.4 1355.6L1033.2 1355.0L1034.0 1352.9L1034.8 1336.2L1035.7 1336.2L1036.5 1336.2L1037.3 1334.1L1038.1 1319.7L1038.9 1319.7L1039.8 1319.7L1040.6 1320.9L1041.4 1326.6L1042.2 1326.6L1043.0 1329.2L1043.8 1333.3L1044.7 1333.3L1045.5 1335.5L1046.3 1335.5L1047.1 1348.8L1047.9 1351.1L1048.8 1359.9L1049.6 1359.9L1050.4 1360.3L1051.2 1360.3L1052.0 1357.9L1052.9 1357.0L1053.7 1357.0L1054.5 1357.0L1055.3 1360.0L1056.1 1358.6L1057.0 1353.7L1057.8 1353.7L1058.6 1356.4L1059.4 1354.8L1060.2 1354.8L1061.1 1362.4L1061.9 1362.4L1062.7 1362.2L1063.5 1362.2L1064.3 1350.4L1065.2 1350.4L1066.0 1350.4L1066.8 1363.1L1067.6 1362.2L1068.4 1362.2L1069.3 1362.2L1070.1 1361.7L1070.9 1359.8L1071.7 1359.8L1072.5 1363.3L1073.4 1363.3L1074.2 1363.3L1075.0 1365.3L1075.8 1365.3L1076.6 1363.6L1077.4 1363.6L1078.3 1363.6L1079.1 1358.9L1079.9 1358.9L1080.7 1354.8L1081.5 1354.8L1082.4 1363.0L1083.2 1363.0L1084.0 1362.6L1084.8 1361.3L1085.6 1350.2L1086.5 1350.2L1087.3 1350.2L1088.1 1358.8L1088.9 1358.8L1089.7 1357.5L1090.6 1350.7L1091.4 1350.7L1092.2 1344.0L1093.0 1336.7L1093.8 1336.7L1094.7 1344.2L1095.5 1344.2L1096.3 1328.7L1097.1 1327.4L1097.9 1317.2L1098.8 1317.2L1099.6 1316.7L1100.4 1316.3L1101.2 1313.3L1102.0 1313.3L1102.9 1314.0L1103.7 1314.0L1104.5 1322.4L1105.3 1323.4L1106.1 1334.8L1106.9 1334.8L1107.8 1350.3L1108.6 1350.7L1109.4 1350.7L1110.2 1358.2L1111.0 1358.2L1111.9 1365.3L1112.7 1368.7L1113.5 1349.4L1114.3 1344.1L1115.1 1344.1L1116.0 1356.1L1116.8 1361.6L1117.6 1360.5L1118.4 1360.5L1119.2 1362.8L1120.1 1362.8L1120.9 1362.8L1121.7 1352.4L1122.5 1335.3L1123.3 1335.3L1124.2 1335.3L1125.0 1349.3L1125.8 1349.3L1126.6 1351.4L1127.4 1350.9L1128.3 1350.9L1129.1 1350.9L1129.9 1355.0L1130.7 1349.0L1131.5 1349.0L1132.4 1346.3L1133.2 1346.3L1134.0 1324.8L1134.8 1324.8L1135.6 1339.5L1136.5 1339.5L1137.3 1333.6L1138.1 1331.5L1138.9 1324.9L1139.7 1324.9L1140.5 1324.9L1141.4 1336.3L1142.2 1326.9L1143.0 1326.9L1143.8 1323.4L1144.6 1323.4L1145.5 1321.4L1146.3 1321.4L1147.1 1321.4L1147.9 1322.5L1148.7 1318.0L1149.6 1306.1L1150.4 1306.1L1151.2 1294.4L1152.0 1294.4L1152.8 1272.4L1153.7 1264.6L1154.5 1230.6L1155.3 1223.0L1156.1 1216.9L1156.9 1197.4L1157.8 1186.5L1158.6 1186.5L1159.4 1186.5L1160.2 1188.7L1161.0 1190.2L1161.9 1197.5L1162.7 1222.7L1163.5 1237.8L1164.3 1249.8L1165.1 1266.4L1166.0 1278.4L1166.8 1291.7L1167.6 1291.7L1168.4 1305.2L1169.2 1314.6L1170.0 1315.0L1170.9 1312.8L1171.7 1312.8L1172.5 1323.1L1173.3 1324.5L1174.1 1324.5L1175.0 1343.5L1175.8 1343.5L1176.6 1336.1L1177.4 1332.9L1178.2 1332.9L1179.1 1339.9L1179.9 1339.9L1180.7 1338.7L1181.5 1338.7L1182.3 1344.9L1183.2 1352.5L1184.0 1352.5L1184.8 1354.4L1185.6 1350.4L1186.4 1350.4L1187.3 1350.4L1188.1 1352.6L1188.9 1349.6L1189.7 1333.8L1190.5 1333.8L1191.4 1333.8L1192.2 1336.4L1193.0 1336.4L1193.8 1335.8L1194.6 1335.8L1195.5 1335.8L1196.3 1335.4L1197.1 1335.4L1197.9 1334.1L1198.7 1328.7L1199.6 1315.3L1200.4 1315.3L1201.2 1314.0L1202.0 1312.5L1202.8 1307.9L1203.6 1284.2L1204.5 1279.2L1205.3 1265.1L1206.1 1265.1L1206.9 1262.1L1207.7 1237.3L1208.6 1235.8L1209.4 1235.8L1210.2 1237.6L1211.0 1233.2L1211.8 1233.2L1212.7 1252.1L1213.5 1259.5L1214.3 1259.5L1215.1 1278.6L1215.9 1289.3L1216.8 1298.1L1217.6 1308.4L1218.4 1316.2L1219.2 1318.3L1220.0 1325.6L1220.9 1333.0L1221.7 1334.3L1222.5 1338.0L1223.3 1345.5L1224.1 1345.5L1225.0 1346.7L1225.8 1348.6L1226.6 1344.5L1227.4 1344.5L1228.2 1351.3L1229.1 1352.1L1229.9 1348.2L1230.7 1348.2L1231.5 1348.4L1232.3 1353.0L1233.1 1355.9L1234.0 1358.6L1234.8 1358.6L1235.6 1358.6L1236.4 1353.5L1237.2 1347.8L1238.1 1347.8L1238.9 1351.4L1239.7 1357.2L1240.5 1357.2L1241.3 1357.6L1242.2 1357.6L1243.0 1357.6L1243.8 1351.6L1244.6 1351.6L1245.4 1351.2L1246.3 1351.2L1247.1 1351.2L1247.9 1352.8L1248.7 1338.8L1249.5 1338.8L1250.4 1362.9L1251.2 1360.5L1252.0 1360.5L1252.8 1359.1L1253.6 1359.1L1254.5 1358.4L1255.3 1358.4L1256.1 1358.4L1256.9 1364.3L1257.7 1362.8L1258.6 1362.8L1259.4 1364.4L1260.2 1358.8L1261.0 1358.8L1261.8 1348.6L1262.7 1348.6L1263.5 1348.6L1264.3 1359.6L1265.1 1357.8L1265.9 1357.8L1266.7 1357.8L1267.6 1349.8L1268.4 1349.8L1269.2 1349.8L1270.0 1357.4L1270.8 1357.4L1271.7 1353.0L1272.5 1353.0L1273.3 1353.0L1274.1 1354.3L1274.9 1353.0L1275.8 1353.0L1276.6 1360.4L1277.4 1358.0L1278.2 1358.0L1279.0 1358.0L1279.9 1359.1L1280.7 1359.1L1281.5 1359.6L1282.3 1359.6L1283.1 1363.5L1284.0 1358.8L1284.8 1358.8L1285.6 1351.1L1286.4 1348.6L1287.2 1348.6L1288.1 1348.6L1288.9 1356.2L1289.7 1356.2L1290.5 1355.1L1291.3 1346.3L1292.2 1345.5L1293.0 1345.5L1293.8 1345.5L1294.6 1345.2L1295.4 1345.2L1296.2 1360.2L1297.1 1352.0L1297.9 1352.0L1298.7 1348.1L1299.5 1348.1L1300.3 1349.1L1301.2 1349.1L1302.0 1351.0L1302.8 1351.0L1303.6 1352.2L1304.4 1352.8L1305.3 1352.8L1306.1 1352.8L1306.9 1351.0L1307.7 1351.0L1308.5 1351.0L1309.4 1347.7L1310.2 1347.6L1311.0 1337.1L1311.8 1337.1L1312.6 1337.1L1313.5 1350.6L1314.3 1354.7L1315.1 1356.6L1315.9 1343.3L1316.7 1343.3L1317.6 1358.1L1318.4 1356.5L1319.2 1356.5L1320.0 1356.5L1320.8 1358.0L1321.7 1360.2L1322.5 1351.9L1323.3 1351.9L1324.1 1357.3L1324.9 1357.3L1325.7 1366.3L1326.6 1358.7L1327.4 1357.7L1328.2 1357.7L1329.0 1357.7L1329.8 1357.8L1330.7 1363.6L1331.5 1354.6L1332.3 1354.6L1333.1 1354.6L1333.9 1357.2L1334.8 1342.7L1335.6 1342.7L1336.4 1360.7L1337.2 1350.6L1338.0 1350.6L1338.9 1354.4L1339.7 1354.8L1340.5 1352.7L1341.3 1352.7L1342.1 1337.4L1343.0 1337.4L1343.8 1356.1L1344.6 1353.3L1345.4 1345.6L1346.2 1345.6L1347.1 1345.6L1347.9 1349.7L1348.7 1336.8L1349.5 1336.8L1350.3 1340.3L1351.2 1338.2L1352.0 1338.2L1352.8 1339.4L1353.6 1337.4L1354.4 1328.7L1355.3 1320.4L1356.1 1320.4L1356.9 1311.2L1357.7 1311.2L1358.5 1296.5L1359.3 1290.5L1360.2 1279.9L1361.0 1278.2L1361.8 1265.4L1362.6 1258.1L1363.4 1255.9L1364.3 1250.2L1365.1 1218.6L1365.9 1218.6L1366.7 1218.6L1367.5 1220.4L1368.4 1203.1L1369.2 1203.1L1370.0 1190.1L1370.8 1190.1L1371.6 1190.1L1372.5 1204.7L1373.3 1204.7L1374.1 1209.7L1374.9 1209.7L1375.7 1230.0L1376.6 1233.2L1377.4 1233.2L1378.2 1236.0L1379.0 1259.0L1379.8 1262.7L1380.7 1262.7L1381.5 1279.5L1382.3 1279.5L1383.1 1292.2L1383.9 1286.1L1384.8 1286.1L1385.6 1311.9L1386.4 1313.1L1387.2 1313.5L1388.0 1321.9L1388.8 1322.4L1389.7 1322.4L1390.5 1326.8L1391.3 1324.8L1392.1 1324.8L1392.9 1324.8L1393.8 1333.6L1394.6 1337.5L1395.4 1321.2L1396.2 1321.2L1397.0 1321.2L1397.9 1328.7L1398.7 1328.7L1399.5 1338.2L1400.3 1338.2L1401.1 1340.0L1402.0 1336.0L1402.8 1336.0L1403.6 1314.1L1404.4 1314.1L1405.2 1314.1L1406.1 1330.9L1406.9 1334.8L1407.7 1337.9L1408.5 1338.5L1409.3 1333.2L1410.2 1333.2L1411.0 1336.6L1411.8 1327.4L1412.6 1327.4L1413.4 1327.4L1414.3 1333.6L1415.1 1345.3L1415.9 1345.3L1416.7 1342.5L1417.5 1336.9L1418.4 1330.9L1419.2 1330.9L1420.0 1321.5L1420.8 1321.5L1421.6 1321.5L1422.4 1338.4L1423.3 1335.4L1424.1 1326.4L1424.9 1325.1L1425.7 1308.1L1426.5 1307.2L1427.4 1307.2L1428.2 1295.8L1429.0 1295.8L1429.8 1294.9L1430.6 1293.2L1431.5 1276.6L1432.3 1274.7L1433.1 1271.1L1433.9 1269.5L1434.7 1256.9L1435.6 1256.9L1436.4 1256.9L1437.2 1261.8L1438.0 1272.0L1438.8 1281.4L1439.7 1283.0L1440.5 1291.1L1441.3 1291.3L1442.1 1291.3L1442.9 1314.7L1443.8 1315.3L1444.6 1315.3L1445.4 1323.8L1446.2 1329.7L1447.0 1337.3L1447.9 1337.3L1448.7 1341.1L1449.5 1337.9L1450.3 1337.9L1451.1 1345.7L1451.9 1345.7L1452.8 1345.7L1453.6 1355.2L1454.4 1357.8L1455.2 1355.0L1456.0 1354.8L1456.9 1354.8L1457.7 1354.8L1458.5 1344.3L1459.3 1344.3L1460.1 1344.5L1461.0 1362.4L1461.8 1355.7L1462.6 1355.7L1463.4 1355.7L1464.2 1352.4L1465.1 1352.4L1465.9 1353.1L1466.7 1358.2L1467.5 1354.4L1468.3 1354.4L1469.2 1352.2L1470.0 1352.2L1470.8 1352.2L1471.6 1363.3L1472.4 1359.0L1473.3 1358.3L1474.1 1358.3L1474.9 1357.0L1475.7 1357.0L1476.5 1357.0L1477.4 1360.6L1478.2 1354.8L1479.0 1354.8L1479.8 1359.4L1480.6 1363.0L1481.5 1363.0L1482.3 1365.5L1483.1 1360.7L1483.9 1355.3L1484.7 1355.3L1485.5 1355.3L1486.4 1357.7L1487.2 1357.2L1488.0 1356.0L1488.8 1355.0L1489.6 1355.0L1490.5 1361.2L1491.3 1352.0L1492.1 1352.0L1492.9 1352.0L1493.7 1362.3L1494.6 1367.6L1495.4 1349.1L1496.2 1349.1L1497.0 1349.1L1497.8 1362.5L1498.7 1362.5L1499.5 1366.2L1500.3 1366.2L1501.1 1361.2L1501.9 1361.2L1502.8 1352.7L1503.6 1351.7L1504.4 1351.7L1505.2 1336.0L1506.0 1325.0L1506.9 1325.0L1507.7 1328.5L1508.5 1329.1L1509.3 1329.1L1510.1 1316.3L1511.0 1316.3L1511.8 1314.3L1512.6 1314.3L1513.4 1339.8L1514.2 1339.8L1515.0 1342.4L1515.9 1345.4L1516.7 1347.1L1517.5 1349.1L1518.3 1353.9L1519.1 1353.9L1520.0 1360.2L1520.8 1356.4L1521.6 1356.4L1522.4 1356.4L1523.2 1356.7L1524.1 1360.3L1524.9 1349.1L1525.7 1349.1L1526.5 1350.0L1527.3 1350.0L1528.2 1353.3L1529.0 1356.9L1529.8 1357.2L1530.6 1357.2L1531.4 1362.7L1532.3 1362.7L1533.1 1358.4L1533.9 1358.4L1534.7 1358.4L1535.5 1356.0L1536.4 1356.0L1537.2 1355.0L1538.0 1355.0L1538.8 1355.0L1539.6 1359.8L1540.5 1359.8L1541.3 1361.2L1542.1 1361.2L1542.9 1354.4L1543.7 1354.4L1544.6 1354.4L1545.4 1352.4L1546.2 1352.4L1547.0 1352.4L1547.8 1356.5L1548.6 1361.3L1549.5 1356.1L1550.3 1356.1L1551.1 1347.6L1551.9 1347.6L1552.7 1347.6L1553.6 1348.3L1554.4 1352.3L1555.2 1352.3L1556.0 1358.5L1556.8 1360.5L1557.7 1360.5L1558.5 1349.5L1559.3 1349.5L1560.1 1343.4L1560.9 1343.4L1561.8 1350.0L1562.6 1350.0L1563.4 1341.1L1564.2 1341.1L1565.0 1345.2L1565.9 1335.7L1566.7 1335.7L1567.5 1335.7L1568.3 1340.2L1569.1 1341.0L1570.0 1341.4L1570.8 1335.6L1571.6 1329.3L1572.4 1329.3L1573.2 1329.3L1574.1 1336.1L1574.9 1328.0L1575.7 1328.0L1576.5 1334.9L1577.3 1339.0L1578.1 1339.0L1579.0 1341.0L1579.8 1339.9L1580.6 1339.9L1581.4 1344.3L1582.2 1344.3L1583.1 1347.1L1583.9 1347.1L1584.7 1347.2L1585.5 1347.6L1586.3 1347.6L1587.2 1347.4L1588.0 1347.4L1588.8 1349.5L1589.6 1349.5L1590.4 1349.5L1591.3 1352.8L1592.1 1352.8L1592.9 1359.1L1593.7 1359.1L1594.5 1359.1L1595.4 1357.1L1596.2 1357.1L1597.0 1357.1L1597.8 1352.1L1598.6 1351.1L1599.5 1351.1L1600.3 1341.5L1601.1 1341.5L1601.9 1341.5L1602.7 1344.7L1603.6 1344.7L1604.4 1344.7L1605.2 1344.7L1606.0 1344.7L1606.8 1349.6L1607.7 1348.6L1608.5 1348.6L1609.3 1349.8L1610.1 1347.4L1610.9 1341.7L1611.7 1341.7L1612.6 1341.7L1613.4 1343.8L1614.2 1337.6L1615.0 1332.6L1615.8 1321.1L1616.7 1321.1L1617.5 1321.1L1618.3 1327.1L1619.1 1322.1L1619.9 1318.4L1620.8 1313.9L1621.6 1313.9L1622.4 1311.7L1623.2 1308.5L1624.0 1305.4L1624.9 1305.4L1625.7 1305.4L1626.5 1305.6L1627.3 1307.7L1628.1 1293.6L1629.0 1293.6L1629.8 1293.6L1630.6 1308.1L1631.4 1305.8L1632.2 1302.2L1633.1 1302.2L1633.9 1305.1L1634.7 1305.1L1635.5 1305.0L1636.3 1305.0L1637.2 1305.0L1638.0 1308.0L1638.8 1309.3L1639.6 1305.8L1640.4 1305.8L1641.2 1307.0L1642.1 1307.0L1642.9 1307.0L1643.7 1320.6L1644.5 1311.9L1645.3 1311.9L1646.2 1311.9L1647.0 1324.8L1647.8 1329.2L1648.6 1322.8L1649.4 1322.8L1650.3 1315.7L1651.1 1315.7L1651.9 1323.4L1652.7 1306.1L1653.5 1301.3L1654.4 1289.3L1655.2 1281.2L1656.0 1262.2L1656.8 1260.0L1657.6 1252.5L1658.5 1252.5L1659.3 1266.1L1660.1 1282.7L1660.9 1288.0L1661.7 1305.7L1662.6 1321.7L1663.4 1326.8L1664.2 1344.5L1665.0 1344.5L1665.8 1346.7L1666.7 1347.6L1667.5 1347.6L1668.3 1345.7L1669.1 1345.7L1669.9 1345.7L1670.8 1342.6L1671.6 1342.6L1672.4 1342.6L1673.2 1348.1L1674.0 1343.5L1674.8 1343.5L1675.7 1350.0L1676.5 1350.0L1677.3 1351.0L1678.1 1336.8L1678.9 1336.8L1679.8 1339.8L1680.6 1339.8L1681.4 1346.0L1682.2 1344.9L1683.0 1335.2L1683.9 1335.2L1684.7 1347.9L1685.5 1343.9L1686.3 1342.4L1687.1 1342.4L1688.0 1342.4L1688.8 1337.4L1689.6 1337.4L1690.4 1314.9L1691.2 1314.9L1692.1 1314.9L1692.9 1338.2L1693.7 1336.1L1694.5 1336.1L1695.3 1327.1L1696.2 1327.1L1697.0 1334.6L1697.8 1334.6L1698.6 1329.3L1699.4 1329.3L1700.3 1329.3L1701.1 1329.0L1701.9 1313.7L1702.7 1313.7L1703.5 1313.7L1704.3 1311.3L1705.2 1307.3L1706.0 1307.3L1706.8 1308.3L1707.6 1314.2L1708.4 1303.1L1709.3 1303.1L1710.1 1307.9L1710.9 1307.9L1711.7 1311.1L1712.5 1321.5L1713.4 1297.6L1714.2 1297.6L1715.0 1314.1L1715.8 1314.1L1716.6 1314.1L1717.5 1317.9L1718.3 1320.2L1719.1 1320.2L1719.9 1320.2L1720.7 1332.8L1721.6 1338.0L1722.4 1335.3L1723.2 1335.3L1724.0 1337.2L1724.8 1344.2L1725.7 1344.2L1726.5 1345.1L1727.3 1345.1L1728.1 1343.7L1728.9 1343.7L1729.8 1343.7L1730.6 1350.1L1731.4 1350.1L1732.2 1350.1L1733.0 1355.8L1733.9 1355.5L1734.7 1353.4L1735.5 1353.4L1736.3 1353.4L1737.1 1358.9L1737.9 1358.9L1738.8 1355.6L1739.6 1355.6L1740.4 1355.6L1741.2 1357.8L1742.0 1356.7L1742.9 1354.5L1743.7 1352.0L1744.5 1352.0L1745.3 1356.1L1746.1 1358.8L1747.0 1358.8L1747.8 1348.9L1748.6 1348.9L1749.4 1348.9L1750.2 1348.6L1751.1 1348.6L1751.9 1348.6L1752.7 1351.7L1753.5 1351.7L1754.3 1340.9L1755.2 1340.9L1756.0 1335.7L1756.8 1335.7L1757.6 1327.9L1758.4 1327.9L1759.3 1348.1L1760.1 1346.9L1760.9 1344.0L1761.7 1327.1L1762.5 1327.1L1763.4 1327.1L1764.2 1338.8L1765.0 1340.8L1765.8 1346.6L1766.6 1346.6L1767.4 1346.6L1768.3 1344.1L1769.1 1344.1L1769.9 1344.1L1770.7 1342.1L1771.5 1342.1L1772.4 1346.2L1773.2 1346.2L1774.0 1339.2L1774.8 1339.2L1775.6 1334.3L1776.5 1334.3L1777.3 1334.3L1778.1 1338.3L1778.9 1331.8L1779.7 1331.8L1780.6 1331.8L1781.4 1344.2L1782.2 1344.2L1783.0 1343.1L1783.8 1343.1L1784.7 1339.9L1785.5 1339.9L1786.3 1336.7L1787.1 1336.7L1787.9 1336.7L1788.8 1337.5L1789.6 1340.7L1790.4 1350.3L1791.2 1348.4L1792.0 1348.4L1792.9 1345.6L1793.7 1345.6L1794.5 1350.5L1795.3 1347.1L1796.1 1347.1L1797.0 1344.0L1797.8 1344.0L1798.6 1344.0L1799.4 1345.0L1800.2 1345.0L1801.0 1346.1L1801.9 1346.1L1802.7 1356.3L1803.5 1356.3L1804.3 1358.8L1805.1 1361.6L1806.0 1361.8L1806.8 1359.4L1807.6 1359.4L1808.4 1361.2L1809.2 1358.1L1810.1 1358.1L1810.9 1360.8L1811.7 1360.8L1812.5 1360.8L1813.3 1354.3L1814.2 1354.3L1815.0 1366.5L1815.8 1354.6L1816.6 1354.6L1817.4 1361.9L1818.3 1361.9L1819.1 1363.9L1819.9 1362.7L1820.7 1358.6L1821.5 1358.6L1822.4 1354.5L1823.2 1354.5L1824.0 1358.6L1824.8 1358.6L1825.6 1352.6L1826.5 1352.6L1827.3 1352.6L1828.1 1358.2L1828.9 1358.2L1829.7 1358.2L1830.5 1358.2L1831.4 1358.2L1832.2 1365.7L1833.0 1352.9L1833.8 1352.9L1834.6 1360.4L1835.5 1357.7L1836.3 1357.7L1837.1 1355.8L1837.9 1355.8L1838.7 1360.6L1839.6 1360.6L1840.4 1360.6L1841.2 1356.2L1842.0 1356.2L1842.8 1356.2L1843.7 1352.3L1844.5 1352.3L1845.3 1352.3L1846.1 1350.4L1846.9 1350.4L1847.8 1355.7L1848.6 1355.7L1849.4 1360.9L1850.2 1357.8L1851.0 1357.6L1851.9 1357.6L1852.7 1353.4L1853.5 1353.4L1854.3 1349.3L1855.1 1349.3L1856.0 1348.5L1856.8 1348.5L1857.6 1348.5L1858.4 1356.8L1859.2 1350.7L1860.1 1350.7L1860.9 1350.7L1861.7 1356.5L1862.5 1354.0L1863.3 1345.8L1864.1 1345.8L1865.0 1345.8L1865.8 1354.5L1866.6 1354.5L1867.4 1354.5L1868.2 1357.7L1869.1 1357.7L1869.9 1357.9L1870.7 1353.5L1871.5 1350.6L1872.3 1346.6L1873.2 1346.6L1874.0 1355.8L1874.8 1356.0L1875.6 1349.6L1876.4 1349.6L1877.3 1355.2L1878.1 1358.7L1878.9 1347.5L1879.7 1347.5L1880.5 1358.2L1881.4 1349.5L1882.2 1349.5L1883.0 1357.0L1883.8 1357.0L1884.6 1359.8L1885.5 1357.8L1886.3 1342.9L1887.1 1342.9L1887.9 1342.9L1888.7 1352.9L1889.6 1356.7L1890.4 1355.9L1891.2 1355.5L1892.0 1355.5L1892.8 1349.7L1893.6 1349.7L1894.5 1349.7L1895.3 1347.6L1896.1 1342.5L1896.9 1340.3L1897.7 1340.0L1898.6 1340.0L1899.4 1346.1L1900.2 1346.1L1901.0 1343.1L1901.8 1328.1L1902.7 1328.1L1903.5 1328.1L1904.3 1331.8L1905.1 1331.8L1905.9 1336.8L1906.8 1336.8L1907.6 1336.8L1908.4 1337.5L1909.2 1337.9L1910.0 1337.9L1910.9 1331.2L1911.7 1331.2L1912.5 1334.1L1913.3 1340.5L1914.1 1337.7L1915.0 1337.7L1915.8 1341.0L1916.6 1345.3L1917.4 1345.2L1918.2 1345.2L1919.1 1345.2L1919.9 1352.0L1920.7 1357.6L1921.5 1357.6L1922.3 1350.0L1923.2 1350.0L1924.0 1350.0L1924.8 1354.4L1925.6 1347.1L1926.4 1337.0L1927.2 1337.0L1928.1 1337.0L1928.9 1352.3L1929.7 1355.0L1930.5 1348.7L1931.3 1348.7L1932.2 1348.7L1933.0 1348.4L1933.8 1348.4L1934.6 1356.9L1935.4 1356.9L1936.3 1356.9L1937.1 1359.9L1937.9 1356.6L1938.7 1351.8L1939.5 1350.1L1940.4 1345.8L1941.2 1345.8L1942.0 1343.9L1942.8 1343.9L1943.6 1345.1L1944.5 1349.0L1945.3 1349.0L1946.1 1356.6L1946.9 1353.9L1947.7 1353.5L1948.6 1353.5L1949.4 1348.9L1950.2 1346.9L1951.0 1338.5L1951.8 1338.5L1952.7 1338.5L1953.5 1348.9L1954.3 1348.9L1955.1 1352.5L1955.9 1349.8L1956.7 1342.3L1957.6 1322.3L1958.4 1322.3L1959.2 1336.5L1960.0 1334.6L1960.8 1334.6L1961.7 1320.8L1962.5 1320.8L1963.3 1320.8L1964.1 1333.5L1964.9 1333.5L1965.8 1332.0L1966.6 1332.0L1967.4 1332.1L1968.2 1330.9L1969.0 1318.1L1969.9 1314.5L1970.7 1314.5L1971.5 1323.8L1972.3 1323.8L1973.1 1325.7L1974.0 1325.7L1974.8 1325.7L1975.6 1320.1L1976.4 1320.1L1977.2 1329.0L1978.1 1334.5L1978.9 1334.5L1979.7 1334.5L1980.5 1332.3L1981.3 1332.3L1982.2 1324.1L1983.0 1324.1L1983.8 1320.9L1984.6 1320.9L1985.4 1315.3L1986.3 1315.3L1987.1 1315.3L1987.9 1308.6L1988.7 1295.9L1989.5 1279.3L1990.3 1279.3L1991.2 1277.4L1992.0 1272.9L1992.8 1272.9L1993.6 1272.9L1994.4 1274.7L1995.3 1273.8L1996.1 1272.1L1996.9 1272.1L1997.7 1272.1L1998.5 1302.5L1999.4 1301.7L2000.2 1301.7L2001.0 1317.1L2001.8 1320.6L2002.6 1320.6L2003.5 1320.6L2004.3 1327.0L2005.1 1327.0L2005.9 1328.0L2006.7 1340.6L2007.6 1340.6L2008.4 1340.6L2009.2 1346.4L2010.0 1346.4L2010.8 1346.4L2011.7 1350.5L2012.5 1350.5L2013.3 1347.4L2014.1 1343.3L2014.9 1337.5L2015.8 1337.5L2016.6 1337.5L2017.4 1338.4L2018.2 1348.0L2019.0 1346.3L2019.8 1340.3L2020.7 1335.2L2021.5 1335.2L2022.3 1340.4L2023.1 1345.4L2023.9 1343.5L2024.8 1338.8L2025.6 1338.8L2026.4 1336.4L2027.2 1336.4L2028.0 1336.4L2028.9 1337.7L2029.7 1332.9L2030.5 1326.8L2031.3 1326.8L2032.1 1326.8L2033.0 1343.1L2033.8 1339.8L2034.6 1339.7L2035.4 1339.7L2036.2 1339.7L2037.1 1355.4L2037.9 1356.9L2038.7 1354.0L2039.5 1351.6L2040.3 1351.6L2041.2 1348.0L2042.0 1348.0L2042.8 1348.0L2043.6 1353.4L2044.4 1354.7L2045.3 1358.2L2046.1 1349.8L2046.9 1349.8L2047.7 1362.0L2048.5 1355.5L2049.4 1355.5L2050.2 1357.5L2051.0 1354.7L2051.8 1344.2L2052.6 1344.2L2053.4 1358.2L2054.3 1359.0L2055.1 1356.0L2055.9 1356.0L2056.7 1358.5L2057.5 1350.5L2058.4 1344.8L2059.2 1344.8L2060.0 1358.8L2060.8 1356.7L2061.6 1356.7L2062.5 1356.7L2063.3 1361.7L2064.1 1348.3L2064.9 1348.3L2065.7 1348.3L2066.6 1356.9L2067.4 1356.9L2068.2 1357.1L2069.0 1357.6L2069.8 1357.6L2070.7 1363.5L2071.5 1358.6L2072.3 1351.0L2073.1 1351.0L2073.9 1351.0L2074.8 1353.0L2075.6 1354.9L2076.4 1354.9L2077.2 1356.0L2078.0 1356.0L2078.9 1354.3L2079.7 1354.3L2080.5 1354.3L2081.3 1349.1L2082.1 1349.1L2082.9 1353.2L2083.8 1353.2L2084.6 1360.4L2085.4 1360.4L2086.2 1360.4L2087.0 1360.4L2087.9 1360.4L2088.7 1363.3L2089.5 1354.3L2090.3 1354.3L2091.1 1349.5L2092.0 1349.5L2092.8 1349.5L2093.6 1348.2L2094.4 1343.6L2095.2 1339.2L2096.1 1339.2L2096.9 1339.2L2097.7 1345.6L2098.5 1343.8L2099.3 1337.2L2100.2 1332.2L2101.0 1332.2L2101.8 1332.2L2102.6 1332.0L2103.4 1317.0L2104.3 1317.0L2105.1 1317.0L2105.9 1319.5L2106.7 1319.5L2107.5 1322.1L2108.4 1318.3L2109.2 1318.3L2110.0 1318.3L2110.8 1324.1L2111.6 1334.8L2112.5 1334.8L2113.3 1337.3L2114.1 1337.3L2114.9 1348.6L2115.7 1336.5L2116.5 1336.5L2117.4 1340.7L2118.2 1344.0L2119.0 1344.0L2119.8 1344.0L2120.6 1352.4L2121.5 1354.2L2122.3 1356.0L2123.1 1351.8L2123.9 1351.8L2124.7 1356.6L2125.6 1356.6L2126.4 1356.6L2127.2 1356.9L2128.0 1356.9L2128.8 1357.8L2129.7 1352.3L2130.5 1346.9L2131.3 1346.9L2132.1 1346.7L2132.9 1342.2L2133.8 1342.2L2134.6 1347.0L2135.4 1342.2L2136.2 1340.7L2137.0 1340.7L2137.9 1340.7L2138.7 1350.9L2139.5 1327.6L2140.3 1327.6L2141.1 1327.6L2142.0 1337.5L2142.8 1338.8L2143.6 1321.3L2144.4 1321.3L2145.2 1339.4L2145.2 1349.4L2144.4 1349.4L2143.6 1348.7L2142.8 1348.7L2142.0 1348.5L2141.1 1347.6L2140.3 1353.9L2139.5 1359.8L2138.7 1359.8L2137.9 1359.8L2137.0 1357.4L2136.2 1364.3L2135.4 1364.3L2134.6 1364.3L2133.8 1357.4L2132.9 1352.9L2132.1 1359.5L2131.3 1359.5L2130.5 1357.8L2129.7 1365.3L2128.8 1373.9L2128.0 1373.9L2127.2 1363.4L2126.4 1366.3L2125.6 1371.1L2124.7 1371.1L2123.9 1371.1L2123.1 1367.9L2122.3 1366.3L2121.5 1366.3L2120.6 1366.3L2119.8 1362.3L2119.0 1367.1L2118.2 1367.1L2117.4 1367.1L2116.5 1352.9L2115.7 1354.8L2114.9 1356.4L2114.1 1356.4L2113.3 1356.4L2112.5 1352.3L2111.6 1340.0L2110.8 1340.0L2110.0 1340.0L2109.2 1338.3L2108.4 1339.2L2107.5 1348.2L2106.7 1348.2L2105.9 1348.2L2105.1 1333.3L2104.3 1334.4L2103.4 1336.6L2102.6 1349.7L2101.8 1349.7L2101.0 1349.7L2100.2 1352.3L2099.3 1360.6L2098.5 1360.6L2097.7 1360.1L2096.9 1360.1L2096.1 1362.5L2095.2 1362.5L2094.4 1363.5L2093.6 1363.5L2092.8 1361.4L2092.0 1366.6L2091.1 1366.6L2090.3 1365.7L2089.5 1365.7L2088.7 1369.1L2087.9 1369.9L2087.0 1372.4L2086.2 1372.4L2085.4 1366.6L2084.6 1364.8L2083.8 1377.1L2082.9 1377.1L2082.1 1368.5L2081.3 1369.4L2080.5 1369.4L2079.7 1369.4L2078.9 1369.1L2078.0 1369.1L2077.2 1371.8L2076.4 1377.0L2075.6 1377.0L2074.8 1373.9L2073.9 1373.9L2073.1 1360.2L2072.3 1365.6L2071.5 1377.7L2070.7 1377.7L2069.8 1377.7L2069.0 1363.5L2068.2 1362.8L2067.4 1370.4L2066.6 1370.4L2065.7 1366.2L2064.9 1366.2L2064.1 1367.0L2063.3 1367.0L2062.5 1370.1L2061.6 1370.1L2060.8 1371.6L2060.0 1374.2L2059.2 1374.2L2058.4 1369.2L2057.5 1368.4L2056.7 1364.8L2055.9 1364.8L2055.1 1368.1L2054.3 1368.1L2053.4 1372.1L2052.6 1372.1L2051.8 1363.4L2051.0 1369.2L2050.2 1369.2L2049.4 1365.9L2048.5 1366.1L2047.7 1367.2L2046.9 1367.2L2046.1 1375.9L2045.3 1375.9L2044.4 1370.7L2043.6 1370.7L2042.8 1362.9L2042.0 1362.9L2041.2 1361.3L2040.3 1361.3L2039.5 1363.4L2038.7 1363.4L2037.9 1367.9L2037.1 1367.9L2036.2 1367.9L2035.4 1361.4L2034.6 1351.0L2033.8 1351.0L2033.0 1354.2L2032.1 1354.2L2031.3 1343.1L2030.5 1342.1L2029.7 1343.1L2028.9 1343.1L2028.0 1346.2L2027.2 1364.7L2026.4 1364.7L2025.6 1355.9L2024.8 1351.8L2023.9 1353.1L2023.1 1353.1L2022.3 1350.8L2021.5 1350.8L2020.7 1346.3L2019.8 1351.2L2019.0 1360.4L2018.2 1360.4L2017.4 1360.4L2016.6 1356.9L2015.8 1352.8L2014.9 1347.4L2014.1 1360.3L2013.3 1360.3L2012.5 1356.6L2011.7 1363.0L2010.8 1363.0L2010.0 1353.6L2009.2 1351.4L2008.4 1350.3L2007.6 1354.3L2006.7 1354.3L2005.9 1354.3L2005.1 1350.9L2004.3 1344.9L2003.5 1341.9L2002.6 1337.8L2001.8 1329.4L2001.0 1328.5L2000.2 1323.5L1999.4 1317.1L1998.5 1311.4L1997.7 1307.2L1996.9 1303.1L1996.1 1284.7L1995.3 1280.0L1994.4 1291.6L1993.6 1291.6L1992.8 1291.6L1992.0 1290.4L1991.2 1291.7L1990.3 1295.9L1989.5 1309.1L1988.7 1319.7L1987.9 1320.3L1987.1 1325.7L1986.3 1342.4L1985.4 1342.4L1984.6 1342.4L1983.8 1343.7L1983.0 1343.7L1982.2 1343.7L1981.3 1342.5L1980.5 1343.5L1979.7 1346.6L1978.9 1346.6L1978.1 1340.6L1977.2 1341.2L1976.4 1341.2L1975.6 1341.2L1974.8 1337.1L1974.0 1336.7L1973.1 1336.7L1972.3 1335.1L1971.5 1335.1L1970.7 1330.2L1969.9 1338.3L1969.0 1341.5L1968.2 1366.8L1967.4 1366.8L1966.6 1340.2L1965.8 1340.3L1964.9 1340.3L1964.1 1341.9L1963.3 1341.9L1962.5 1342.9L1961.7 1342.9L1960.8 1347.3L1960.0 1347.3L1959.2 1349.9L1958.4 1349.9L1957.6 1349.9L1956.7 1364.6L1955.9 1366.8L1955.1 1366.8L1954.3 1366.8L1953.5 1354.8L1952.7 1350.6L1951.8 1354.9L1951.0 1354.9L1950.2 1354.9L1949.4 1362.3L1948.6 1362.3L1947.7 1364.9L1946.9 1368.3L1946.1 1368.3L1945.3 1366.1L1944.5 1365.4L1943.6 1365.4L1942.8 1363.5L1942.0 1357.6L1941.2 1357.6L1940.4 1357.6L1939.5 1360.3L1938.7 1375.5L1937.9 1375.5L1937.1 1375.9L1936.3 1378.9L1935.4 1378.9L1934.6 1372.2L1933.8 1372.2L1933.0 1365.4L1932.2 1365.1L1931.3 1365.1L1930.5 1370.7L1929.7 1370.7L1928.9 1361.7L1928.1 1372.3L1927.2 1372.3L1926.4 1359.8L1925.6 1367.8L1924.8 1367.8L1924.0 1360.5L1923.2 1364.5L1922.3 1364.5L1921.5 1374.1L1920.7 1374.1L1919.9 1362.0L1919.1 1358.9L1918.2 1361.8L1917.4 1361.8L1916.6 1361.2L1915.8 1352.3L1915.0 1355.8L1914.1 1355.8L1913.3 1355.8L1912.5 1354.3L1911.7 1345.1L1910.9 1344.6L1910.0 1348.1L1909.2 1348.1L1908.4 1348.1L1907.6 1349.9L1906.8 1349.9L1905.9 1348.1L1905.1 1348.1L1904.3 1352.1L1903.5 1352.1L1902.7 1352.1L1901.8 1351.8L1901.0 1351.8L1900.2 1363.2L1899.4 1363.2L1898.6 1363.2L1897.7 1353.2L1896.9 1358.1L1896.1 1360.9L1895.3 1367.1L1894.5 1367.1L1893.6 1367.1L1892.8 1363.1L1892.0 1364.3L1891.2 1364.3L1890.4 1368.4L1889.6 1368.4L1888.7 1359.4L1887.9 1359.2L1887.1 1361.5L1886.3 1365.0L1885.5 1368.6L1884.6 1368.6L1883.8 1368.6L1883.0 1364.2L1882.2 1364.2L1881.4 1369.7L1880.5 1374.9L1879.7 1374.9L1878.9 1374.9L1878.1 1369.5L1877.3 1364.2L1876.4 1360.0L1875.6 1364.3L1874.8 1367.5L1874.0 1367.5L1873.2 1367.5L1872.3 1368.3L1871.5 1368.3L1870.7 1364.6L1869.9 1364.6L1869.1 1364.1L1868.2 1364.1L1867.4 1363.7L1866.6 1365.7L1865.8 1371.8L1865.0 1371.8L1864.1 1371.8L1863.3 1362.2L1862.5 1371.1L1861.7 1371.1L1860.9 1365.9L1860.1 1365.6L1859.2 1372.7L1858.4 1373.1L1857.6 1373.1L1856.8 1373.1L1856.0 1365.5L1855.1 1369.7L1854.3 1369.7L1853.5 1369.7L1852.7 1367.5L1851.9 1367.5L1851.0 1367.5L1850.2 1366.2L1849.4 1368.0L1848.6 1368.0L1847.8 1368.0L1846.9 1357.7L1846.1 1368.6L1845.3 1368.6L1844.5 1371.8L1843.7 1371.8L1842.8 1373.7L1842.0 1373.7L1841.2 1371.3L1840.4 1378.1L1839.6 1378.1L1838.7 1367.6L1837.9 1367.6L1837.1 1362.8L1836.3 1369.1L1835.5 1372.0L1834.6 1373.7L1833.8 1373.7L1833.0 1375.3L1832.2 1375.3L1831.4 1375.3L1830.5 1367.4L1829.7 1369.1L1828.9 1369.1L1828.1 1369.6L1827.3 1370.1L1826.5 1377.9L1825.6 1380.1L1824.8 1380.1L1824.0 1370.4L1823.2 1377.8L1822.4 1377.8L1821.5 1377.8L1820.7 1371.3L1819.9 1374.2L1819.1 1374.9L1818.3 1374.9L1817.4 1378.2L1816.6 1378.2L1815.8 1378.2L1815.0 1373.2L1814.2 1369.3L1813.3 1367.2L1812.5 1367.8L1811.7 1380.5L1810.9 1380.5L1810.1 1373.1L1809.2 1367.0L1808.4 1365.4L1807.6 1365.4L1806.8 1369.4L1806.0 1371.8L1805.1 1371.8L1804.3 1371.8L1803.5 1368.3L1802.7 1368.3L1801.9 1368.3L1801.0 1365.8L1800.2 1365.8L1799.4 1365.8L1798.6 1365.6L1797.8 1365.6L1797.0 1362.2L1796.1 1362.2L1795.3 1362.8L1794.5 1362.8L1793.7 1358.5L1792.9 1358.5L1792.0 1359.7L1791.2 1359.7L1790.4 1360.2L1789.6 1360.2L1788.8 1360.1L1787.9 1360.1L1787.1 1348.4L1786.3 1355.0L1785.5 1355.0L1784.7 1347.5L1783.8 1363.7L1783.0 1363.7L1782.2 1363.7L1781.4 1349.9L1780.6 1349.6L1779.7 1349.6L1778.9 1354.6L1778.1 1354.6L1777.3 1346.7L1776.5 1346.7L1775.6 1345.2L1774.8 1355.8L1774.0 1355.8L1773.2 1360.9L1772.4 1360.9L1771.5 1360.9L1770.7 1365.8L1769.9 1365.8L1769.1 1365.7L1768.3 1365.7L1767.4 1359.5L1766.6 1359.5L1765.8 1359.6L1765.0 1359.6L1764.2 1359.6L1763.4 1359.9L1762.5 1359.9L1761.7 1357.4L1760.9 1364.8L1760.1 1364.8L1759.3 1364.8L1758.4 1357.4L1757.6 1348.8L1756.8 1360.0L1756.0 1360.0L1755.2 1360.0L1754.3 1363.3L1753.5 1374.4L1752.7 1374.4L1751.9 1370.6L1751.1 1362.4L1750.2 1365.4L1749.4 1365.4L1748.6 1364.8L1747.8 1372.4L1747.0 1372.4L1746.1 1372.4L1745.3 1368.7L1744.5 1374.3L1743.7 1374.3L1742.9 1374.3L1742.0 1370.1L1741.2 1369.1L1740.4 1369.1L1739.6 1362.9L1738.8 1362.9L1737.9 1371.3L1737.1 1374.8L1736.3 1374.8L1735.5 1368.7L1734.7 1365.3L1733.9 1373.1L1733.0 1373.1L1732.2 1366.6L1731.4 1366.6L1730.6 1375.7L1729.8 1375.7L1728.9 1375.7L1728.1 1368.1L1727.3 1368.1L1726.5 1368.1L1725.7 1360.3L1724.8 1360.3L1724.0 1349.9L1723.2 1349.2L1722.4 1346.4L1721.6 1355.0L1720.7 1355.0L1719.9 1343.0L1719.1 1346.6L1718.3 1346.6L1717.5 1346.6L1716.6 1337.6L1715.8 1337.6L1715.0 1330.9L1714.2 1338.3L1713.4 1338.3L1712.5 1338.3L1711.7 1324.6L1710.9 1324.6L1710.1 1315.6L1709.3 1331.3L1708.4 1331.3L1707.6 1331.3L1706.8 1316.6L1706.0 1315.9L1705.2 1322.8L1704.3 1322.8L1703.5 1323.6L1702.7 1329.0L1701.9 1337.4L1701.1 1337.4L1700.3 1340.5L1699.4 1340.5L1698.6 1354.8L1697.8 1354.8L1697.0 1354.8L1696.2 1343.1L1695.3 1343.1L1694.5 1342.3L1693.7 1363.7L1692.9 1363.7L1692.1 1352.5L1691.2 1338.7L1690.4 1352.5L1689.6 1352.6L1688.8 1356.8L1688.0 1356.8L1687.1 1356.8L1686.3 1357.4L1685.5 1367.6L1684.7 1367.6L1683.9 1367.6L1683.0 1360.7L1682.2 1360.7L1681.4 1368.9L1680.6 1368.9L1679.8 1353.7L1678.9 1353.7L1678.1 1355.7L1677.3 1363.5L1676.5 1363.5L1675.7 1363.5L1674.8 1362.4L1674.0 1358.6L1673.2 1358.6L1672.4 1357.5L1671.6 1358.6L1670.8 1358.6L1669.9 1358.6L1669.1 1355.7L1668.3 1351.9L1667.5 1351.9L1666.7 1356.4L1665.8 1356.4L1665.0 1352.9L1664.2 1358.4L1663.4 1358.4L1662.6 1358.4L1661.7 1336.3L1660.9 1336.3L1660.1 1309.8L1659.3 1288.0L1658.5 1284.3L1657.6 1266.1L1656.8 1281.2L1656.0 1289.3L1655.2 1303.2L1654.4 1316.5L1653.5 1323.4L1652.7 1334.0L1651.9 1334.0L1651.1 1333.7L1650.3 1334.7L1649.4 1335.0L1648.6 1335.0L1647.8 1335.0L1647.0 1331.9L1646.2 1331.9L1645.3 1329.5L1644.5 1329.5L1643.7 1331.5L1642.9 1331.5L1642.1 1323.7L1641.2 1318.1L1640.4 1318.1L1639.6 1317.8L1638.8 1318.8L1638.0 1319.7L1637.2 1319.7L1636.3 1315.1L1635.5 1326.6L1634.7 1326.6L1633.9 1326.6L1633.1 1315.0L1632.2 1315.0L1631.4 1314.4L1630.6 1322.9L1629.8 1322.9L1629.0 1322.9L1628.1 1320.2L1627.3 1322.3L1626.5 1322.3L1625.7 1322.3L1624.9 1321.5L1624.0 1321.5L1623.2 1325.8L1622.4 1325.8L1621.6 1329.7L1620.8 1332.1L1619.9 1335.5L1619.1 1335.5L1618.3 1340.6L1617.5 1340.6L1616.7 1336.7L1615.8 1337.6L1615.0 1350.8L1614.2 1350.8L1613.4 1350.8L1612.6 1349.5L1611.7 1350.1L1610.9 1354.9L1610.1 1355.1L1609.3 1355.1L1608.5 1357.9L1607.7 1363.2L1606.8 1364.1L1606.0 1364.1L1605.2 1365.6L1604.4 1365.6L1603.6 1357.3L1602.7 1359.9L1601.9 1359.9L1601.1 1358.5L1600.3 1358.5L1599.5 1364.1L1598.6 1364.1L1597.8 1365.7L1597.0 1368.5L1596.2 1368.5L1595.4 1373.6L1594.5 1378.0L1593.7 1378.0L1592.9 1374.7L1592.1 1374.7L1591.3 1368.5L1590.4 1368.5L1589.6 1368.5L1588.8 1366.6L1588.0 1360.3L1587.2 1360.4L1586.3 1360.4L1585.5 1358.1L1584.7 1358.1L1583.9 1357.2L1583.1 1356.3L1582.2 1360.5L1581.4 1360.5L1580.6 1360.5L1579.8 1348.7L1579.0 1348.5L1578.1 1348.5L1577.3 1370.6L1576.5 1370.6L1575.7 1370.6L1574.9 1349.7L1574.1 1349.7L1573.2 1346.0L1572.4 1343.6L1571.6 1347.0L1570.8 1358.8L1570.0 1358.8L1569.1 1353.0L1568.3 1353.0L1567.5 1358.2L1566.7 1358.2L1565.9 1372.0L1565.0 1372.0L1564.2 1372.0L1563.4 1361.6L1562.6 1361.6L1561.8 1358.3L1560.9 1362.9L1560.1 1363.7L1559.3 1365.4L1558.5 1365.4L1557.7 1369.1L1556.8 1369.1L1556.0 1363.6L1555.2 1361.8L1554.4 1363.9L1553.6 1364.6L1552.7 1364.6L1551.9 1364.6L1551.1 1362.2L1550.3 1362.2L1549.5 1369.6L1548.6 1372.3L1547.8 1374.3L1547.0 1374.3L1546.2 1376.6L1545.4 1376.6L1544.6 1370.1L1543.7 1369.9L1542.9 1375.8L1542.1 1375.8L1541.3 1380.9L1540.5 1380.9L1539.6 1380.9L1538.8 1371.6L1538.0 1372.0L1537.2 1372.0L1536.4 1372.0L1535.5 1369.5L1534.7 1369.5L1533.9 1370.7L1533.1 1375.6L1532.3 1375.6L1531.4 1371.3L1530.6 1374.9L1529.8 1374.9L1529.0 1370.0L1528.2 1370.0L1527.3 1365.1L1526.5 1365.1L1525.7 1369.3L1524.9 1369.3L1524.1 1376.0L1523.2 1376.0L1522.4 1374.4L1521.6 1370.8L1520.8 1370.8L1520.0 1366.7L1519.1 1366.7L1518.3 1370.7L1517.5 1370.7L1516.7 1370.7L1515.9 1359.6L1515.0 1356.8L1514.2 1349.7L1513.4 1344.0L1512.6 1344.0L1511.8 1340.3L1511.0 1335.7L1510.1 1333.8L1509.3 1337.7L1508.5 1337.7L1507.7 1334.0L1506.9 1336.0L1506.0 1354.7L1505.2 1361.5L1504.4 1361.5L1503.6 1361.5L1502.8 1369.4L1501.9 1369.4L1501.1 1378.2L1500.3 1378.2L1499.5 1376.3L1498.7 1376.3L1497.8 1371.5L1497.0 1371.5L1496.2 1374.5L1495.4 1374.5L1494.6 1375.8L1493.7 1375.8L1492.9 1375.8L1492.1 1370.4L1491.3 1372.4L1490.5 1372.4L1489.6 1370.0L1488.8 1366.0L1488.0 1366.8L1487.2 1375.0L1486.4 1375.0L1485.5 1375.0L1484.7 1373.3L1483.9 1370.3L1483.1 1370.3L1482.3 1370.3L1481.5 1369.7L1480.6 1375.6L1479.8 1375.6L1479.0 1365.1L1478.2 1368.5L1477.4 1370.0L1476.5 1370.0L1475.7 1377.9L1474.9 1377.9L1474.1 1377.9L1473.3 1367.5L1472.4 1373.7L1471.6 1373.7L1470.8 1369.5L1470.0 1375.2L1469.2 1375.2L1468.3 1370.7L1467.5 1374.1L1466.7 1374.3L1465.9 1374.3L1465.1 1358.2L1464.2 1363.6L1463.4 1366.5L1462.6 1366.5L1461.8 1373.4L1461.0 1373.4L1460.1 1372.0L1459.3 1368.1L1458.5 1372.0L1457.7 1372.0L1456.9 1368.5L1456.0 1368.5L1455.2 1368.9L1454.4 1368.9L1453.6 1368.9L1452.8 1363.5L1451.9 1363.5L1451.1 1351.9L1450.3 1351.0L1449.5 1350.5L1448.7 1350.5L1447.9 1349.8L1447.0 1347.9L1446.2 1347.9L1445.4 1340.6L1444.6 1329.7L1443.8 1340.7L1442.9 1340.7L1442.1 1322.6L1441.3 1322.6L1440.5 1294.0L1439.7 1294.0L1438.8 1291.1L1438.0 1285.2L1437.2 1281.4L1436.4 1276.1L1435.6 1277.8L1434.7 1277.8L1433.9 1289.5L1433.1 1289.5L1432.3 1299.4L1431.5 1303.1L1430.6 1312.5L1429.8 1312.5L1429.0 1325.5L1428.2 1325.5L1427.4 1325.7L1426.5 1337.0L1425.7 1337.0L1424.9 1335.4L1424.1 1346.6L1423.3 1347.2L1422.4 1347.2L1421.6 1342.9L1420.8 1340.3L1420.0 1352.6L1419.2 1352.6L1418.4 1347.2L1417.5 1347.2L1416.7 1351.5L1415.9 1351.5L1415.1 1351.5L1414.3 1349.1L1413.4 1348.0L1412.6 1337.1L1411.8 1355.8L1411.0 1355.8L1410.2 1355.8L1409.3 1352.5L1408.5 1352.8L1407.7 1352.8L1406.9 1351.1L1406.1 1351.1L1405.2 1351.1L1404.4 1350.7L1403.6 1344.2L1402.8 1350.1L1402.0 1350.1L1401.1 1350.1L1400.3 1347.4L1399.5 1347.4L1398.7 1347.4L1397.9 1347.5L1397.0 1357.4L1396.2 1357.4L1395.4 1341.4L1394.6 1346.1L1393.8 1346.1L1392.9 1346.1L1392.1 1348.0L1391.3 1348.0L1390.5 1340.3L1389.7 1333.1L1388.8 1346.0L1388.0 1346.0L1387.2 1346.0L1386.4 1321.9L1385.6 1321.7L1384.8 1321.7L1383.9 1321.7L1383.1 1308.6L1382.3 1307.8L1381.5 1293.9L1380.7 1287.6L1379.8 1280.6L1379.0 1272.7L1378.2 1271.2L1377.4 1271.2L1376.6 1244.6L1375.7 1246.2L1374.9 1246.2L1374.1 1246.2L1373.3 1213.6L1372.5 1215.4L1371.6 1215.4L1370.8 1215.4L1370.0 1227.0L1369.2 1227.0L1368.4 1227.7L1367.5 1256.7L1366.7 1256.7L1365.9 1250.2L1365.1 1255.9L1364.3 1259.2L1363.4 1266.8L1362.6 1278.2L1361.8 1280.7L1361.0 1294.0L1360.2 1297.2L1359.3 1313.6L1358.5 1321.8L1357.7 1332.0L1356.9 1332.0L1356.1 1332.0L1355.3 1339.9L1354.4 1352.9L1353.6 1352.9L1352.8 1354.3L1352.0 1354.3L1351.2 1351.0L1350.3 1357.3L1349.5 1357.3L1348.7 1355.5L1347.9 1357.6L1347.1 1357.6L1346.2 1357.6L1345.4 1356.1L1344.6 1363.4L1343.8 1363.4L1343.0 1364.6L1342.1 1364.6L1341.3 1364.6L1340.5 1370.3L1339.7 1370.3L1338.9 1370.3L1338.0 1366.6L1337.2 1366.6L1336.4 1368.1L1335.6 1370.1L1334.8 1370.1L1333.9 1377.2L1333.1 1377.2L1332.3 1377.2L1331.5 1373.4L1330.7 1373.4L1329.8 1373.4L1329.0 1370.5L1328.2 1370.5L1327.4 1370.0L1326.6 1377.7L1325.7 1377.7L1324.9 1370.3L1324.1 1372.9L1323.3 1372.9L1322.5 1373.6L1321.7 1373.6L1320.8 1373.6L1320.0 1379.3L1319.2 1379.3L1318.4 1375.7L1317.6 1375.3L1316.7 1375.3L1315.9 1363.0L1315.1 1364.1L1314.3 1364.1L1313.5 1363.3L1312.6 1363.3L1311.8 1350.6L1311.0 1353.9L1310.2 1360.2L1309.4 1360.2L1308.5 1357.8L1307.7 1357.8L1306.9 1358.5L1306.1 1361.4L1305.3 1361.4L1304.4 1367.8L1303.6 1367.8L1302.8 1367.8L1302.0 1362.1L1301.2 1358.2L1300.3 1358.2L1299.5 1354.1L1298.7 1359.6L1297.9 1372.5L1297.1 1372.5L1296.2 1372.5L1295.4 1366.1L1294.6 1360.2L1293.8 1359.9L1293.0 1359.9L1292.2 1362.6L1291.3 1362.6L1290.5 1362.6L1289.7 1364.1L1288.9 1368.7L1288.1 1368.7L1287.2 1368.7L1286.4 1364.4L1285.6 1364.4L1284.8 1367.3L1284.0 1379.1L1283.1 1379.1L1282.3 1376.2L1281.5 1379.9L1280.7 1379.9L1279.9 1370.8L1279.0 1368.5L1278.2 1390.6L1277.4 1390.6L1276.6 1390.6L1275.8 1374.8L1274.9 1374.8L1274.1 1374.8L1273.3 1369.6L1272.5 1369.6L1271.7 1368.1L1270.8 1368.1L1270.0 1377.1L1269.2 1377.1L1268.4 1369.5L1267.6 1369.5L1266.7 1373.5L1265.9 1373.5L1265.1 1370.5L1264.3 1370.5L1263.5 1370.5L1262.7 1366.8L1261.8 1366.8L1261.0 1366.8L1260.2 1366.9L1259.4 1376.0L1258.6 1376.0L1257.7 1371.1L1256.9 1371.1L1256.1 1371.1L1255.3 1368.9L1254.5 1378.4L1253.6 1378.4L1252.8 1367.4L1252.0 1367.8L1251.2 1372.8L1250.4 1372.8L1249.5 1372.8L1248.7 1366.2L1247.9 1374.0L1247.1 1374.0L1246.3 1374.0L1245.4 1367.5L1244.6 1366.9L1243.8 1375.0L1243.0 1375.0L1242.2 1367.0L1241.3 1373.0L1240.5 1373.0L1239.7 1370.8L1238.9 1370.8L1238.1 1369.2L1237.2 1369.2L1236.4 1367.4L1235.6 1367.4L1234.8 1367.9L1234.0 1371.4L1233.1 1371.4L1232.3 1371.4L1231.5 1363.4L1230.7 1371.1L1229.9 1371.1L1229.1 1371.1L1228.2 1369.3L1227.4 1369.3L1226.6 1365.9L1225.8 1365.9L1225.0 1365.9L1224.1 1357.3L1223.3 1353.3L1222.5 1353.3L1221.7 1350.0L1220.9 1342.2L1220.0 1340.2L1219.2 1340.2L1218.4 1338.0L1217.6 1338.0L1216.8 1316.2L1215.9 1311.1L1215.1 1311.1L1214.3 1298.8L1213.5 1278.6L1212.7 1268.5L1211.8 1265.0L1211.0 1252.1L1210.2 1252.2L1209.4 1252.2L1208.6 1269.8L1207.7 1275.5L1206.9 1275.5L1206.1 1279.2L1205.3 1289.6L1204.5 1309.4L1203.6 1313.1L1202.8 1314.0L1202.0 1329.3L1201.2 1333.4L1200.4 1339.3L1199.6 1339.3L1198.7 1348.6L1197.9 1354.4L1197.1 1359.6L1196.3 1359.6L1195.5 1355.5L1194.6 1355.5L1193.8 1354.8L1193.0 1354.8L1192.2 1351.9L1191.4 1351.2L1190.5 1351.2L1189.7 1355.7L1188.9 1363.8L1188.1 1363.8L1187.3 1357.1L1186.4 1357.3L1185.6 1361.4L1184.8 1361.4L1184.0 1355.9L1183.2 1355.9L1182.3 1354.5L1181.5 1354.5L1180.7 1359.2L1179.9 1359.2L1179.1 1357.8L1178.2 1357.8L1177.4 1357.8L1176.6 1363.6L1175.8 1363.6L1175.0 1353.1L1174.1 1360.9L1173.3 1360.9L1172.5 1360.9L1171.7 1343.2L1170.9 1329.0L1170.0 1336.4L1169.2 1336.4L1168.4 1330.2L1167.6 1314.6L1166.8 1310.7L1166.0 1305.5L1165.1 1295.2L1164.3 1278.4L1163.5 1267.2L1162.7 1249.8L1161.9 1237.8L1161.0 1222.7L1160.2 1201.5L1159.4 1201.5L1158.6 1214.4L1157.8 1223.3L1156.9 1223.3L1156.1 1245.7L1155.3 1266.0L1154.5 1287.9L1153.7 1304.5L1152.8 1304.5L1152.0 1318.3L1151.2 1323.2L1150.4 1323.2L1149.6 1329.9L1148.7 1336.5L1147.9 1336.5L1147.1 1336.5L1146.3 1346.8L1145.5 1346.8L1144.6 1346.8L1143.8 1334.5L1143.0 1345.0L1142.2 1361.7L1141.4 1361.7L1140.5 1361.7L1139.7 1346.6L1138.9 1342.2L1138.1 1353.8L1137.3 1353.8L1136.5 1353.8L1135.6 1353.0L1134.8 1352.9L1134.0 1352.9L1133.2 1361.6L1132.4 1361.6L1131.5 1363.4L1130.7 1363.4L1129.9 1363.4L1129.1 1356.6L1128.3 1371.3L1127.4 1371.7L1126.6 1371.7L1125.8 1373.0L1125.0 1373.0L1124.2 1362.5L1123.3 1368.0L1122.5 1368.0L1121.7 1367.8L1120.9 1367.8L1120.1 1373.1L1119.2 1373.1L1118.4 1373.1L1117.6 1363.1L1116.8 1368.9L1116.0 1368.9L1115.1 1364.6L1114.3 1370.5L1113.5 1370.5L1112.7 1372.1L1111.9 1372.1L1111.0 1372.1L1110.2 1369.8L1109.4 1369.8L1108.6 1369.8L1107.8 1359.6L1106.9 1357.1L1106.1 1357.1L1105.3 1357.1L1104.5 1348.8L1103.7 1338.1L1102.9 1332.8L1102.0 1325.5L1101.2 1325.5L1100.4 1330.6L1099.6 1330.6L1098.8 1331.9L1097.9 1332.5L1097.1 1345.2L1096.3 1350.2L1095.5 1358.0L1094.7 1358.0L1093.8 1363.4L1093.0 1363.4L1092.2 1363.4L1091.4 1357.5L1090.6 1371.0L1089.7 1371.0L1088.9 1374.4L1088.1 1374.4L1087.3 1374.4L1086.5 1378.0L1085.6 1378.0L1084.8 1378.0L1084.0 1376.2L1083.2 1376.2L1082.4 1367.3L1081.5 1367.3L1080.7 1375.2L1079.9 1375.2L1079.1 1375.2L1078.3 1376.9L1077.4 1376.9L1076.6 1382.3L1075.8 1382.3L1075.0 1382.3L1074.2 1374.5L1073.4 1372.3L1072.5 1379.9L1071.7 1379.9L1070.9 1379.9L1070.1 1375.7L1069.3 1380.4L1068.4 1380.4L1067.6 1376.9L1066.8 1377.6L1066.0 1377.6L1065.2 1376.7L1064.3 1371.0L1063.5 1374.6L1062.7 1374.6L1061.9 1374.6L1061.1 1373.2L1060.2 1371.2L1059.4 1369.9L1058.6 1369.9L1057.8 1369.5L1057.0 1370.7L1056.1 1370.7L1055.3 1371.1L1054.5 1371.1L1053.7 1372.6L1052.9 1375.9L1052.0 1375.9L1051.2 1375.9L1050.4 1374.1L1049.6 1374.1L1048.8 1373.2L1047.9 1373.2L1047.1 1372.7L1046.3 1360.9L1045.5 1360.9L1044.7 1346.7L1043.8 1347.9L1043.0 1347.9L1042.2 1347.9L1041.4 1341.2L1040.6 1335.3L1039.8 1335.3L1038.9 1339.7L1038.1 1342.0L1037.3 1344.4L1036.5 1354.8L1035.7 1354.8L1034.8 1357.6L1034.0 1364.7L1033.2 1364.7L1032.4 1376.0L1031.6 1376.0L1030.7 1370.3L1029.9 1370.3L1029.1 1363.2L1028.3 1364.7L1027.5 1364.7L1026.6 1363.0L1025.8 1355.3L1025.0 1353.5L1024.2 1352.4L1023.4 1345.7L1022.5 1345.7L1021.7 1345.7L1020.9 1349.3L1020.1 1349.3L1019.3 1341.2L1018.4 1327.4L1017.6 1321.4L1016.8 1296.8L1016.0 1283.0L1015.2 1252.6L1014.3 1211.3L1013.5 1195.9L1012.7 1141.5L1011.9 1088.8L1011.1 1039.3L1010.3 985.3L1009.4 970.8L1008.6 1001.1L1007.8 1032.1L1007.0 1096.0L1006.2 1156.2L1005.3 1205.7L1004.5 1224.3L1003.7 1255.8L1002.9 1283.3L1002.1 1313.0L1001.2 1335.1L1000.4 1343.1L999.6 1361.8L998.8 1361.8L998.0 1361.8L997.1 1351.9L996.3 1351.9L995.5 1357.8L994.7 1357.8L993.9 1345.5L993.0 1340.7L992.2 1338.6L991.4 1338.3L990.6 1331.1L989.8 1309.0L988.9 1303.1L988.1 1299.1L987.3 1281.1L986.5 1250.3L985.7 1222.5L984.8 1184.2L984.0 1140.0L983.2 1110.8L982.4 1069.7L981.6 1039.9L980.7 1046.6L979.9 1059.9L979.1 1096.1L978.3 1115.2L977.5 1162.9L976.7 1206.7L975.8 1238.4L975.0 1262.1L974.2 1281.3L973.4 1309.3L972.6 1326.8L971.7 1326.8L970.9 1336.0L970.1 1336.0L969.3 1336.0L968.5 1334.1L967.6 1336.5L966.8 1336.5L966.0 1322.0L965.2 1326.0L964.4 1326.0L963.5 1326.0L962.7 1313.6L961.9 1313.6L961.1 1313.6L960.3 1309.7L959.4 1317.3L958.6 1317.3L957.8 1320.0L957.0 1322.9L956.2 1322.9L955.3 1321.9L954.5 1323.4L953.7 1323.4L952.9 1326.5L952.1 1326.5L951.2 1326.5L950.4 1317.9L949.6 1309.5L948.8 1315.5L948.0 1326.9L947.2 1326.9L946.3 1337.2L945.5 1340.8L944.7 1348.5L943.9 1365.6L943.1 1365.6L942.2 1365.6L941.4 1363.4L940.6 1364.8L939.8 1364.8L939.0 1366.8L938.1 1366.8L937.3 1369.1L936.5 1383.3L935.7 1383.3L934.9 1372.3L934.0 1386.2L933.2 1386.3L932.4 1386.3L931.6 1376.8L930.8 1377.8L929.9 1377.8L929.1 1377.8L928.3 1374.4L927.5 1374.4L926.7 1401.6L925.8 1401.6L925.0 1401.6L924.2 1394.8L923.4 1372.9L922.6 1380.1L921.7 1380.1L920.9 1380.1L920.1 1382.8L919.3 1382.8L918.5 1377.5L917.6 1379.8L916.8 1379.8L916.0 1379.8L915.2 1373.5L914.4 1371.9L913.6 1371.9L912.7 1372.9L911.9 1372.9L911.1 1368.8L910.3 1367.2L909.5 1377.3L908.6 1377.3L907.8 1377.3L907.0 1379.6L906.2 1379.6L905.4 1379.6L904.5 1373.8L903.7 1373.8L902.9 1371.0L902.1 1371.0L901.3 1368.6L900.4 1364.1L899.6 1360.9L898.8 1360.9L898.0 1355.7L897.2 1355.7L896.3 1355.7L895.5 1344.5L894.7 1349.2L893.9 1349.2L893.1 1346.5L892.2 1350.6L891.4 1360.7L890.6 1360.7L889.8 1344.3L889.0 1354.9L888.1 1354.9L887.3 1348.6L886.5 1355.6L885.7 1359.9L884.9 1364.0L884.1 1364.0L883.2 1364.0L882.4 1363.4L881.6 1364.7L880.8 1368.0L880.0 1368.0L879.1 1365.5L878.3 1365.5L877.5 1362.6L876.7 1362.6L875.9 1362.6L875.0 1353.7L874.2 1342.8L873.4 1342.1L872.6 1342.1L871.8 1337.5L870.9 1337.5L870.1 1337.5L869.3 1335.4L868.5 1332.2L867.7 1329.9L866.8 1311.9L866.0 1307.9L865.2 1303.9L864.4 1297.7L863.6 1295.0L862.7 1295.0L861.9 1279.0L861.1 1279.0L860.3 1271.5L859.5 1267.3L858.6 1267.3L857.8 1253.9L857.0 1242.7L856.2 1229.6L855.4 1223.6L854.5 1223.6L853.7 1215.3L852.9 1215.3L852.1 1228.8L851.3 1228.8L850.5 1228.8L849.6 1225.0L848.8 1236.7L848.0 1252.6L847.2 1252.6L846.4 1261.1L845.5 1273.0L844.7 1281.4L843.9 1285.0L843.1 1297.7L842.3 1303.8L841.4 1307.8L840.6 1318.2L839.8 1318.2L839.0 1341.7L838.2 1342.8L837.3 1350.1L836.5 1354.0L835.7 1357.5L834.9 1364.6L834.1 1364.6L833.2 1356.4L832.4 1363.8L831.6 1372.4L830.8 1372.4L830.0 1370.5L829.1 1370.1L828.3 1375.0L827.5 1375.0L826.7 1372.2L825.9 1372.2L825.0 1372.1L824.2 1368.6L823.4 1368.6L822.6 1373.1L821.8 1373.1L821.0 1372.2L820.1 1379.3L819.3 1379.3L818.5 1390.3L817.7 1390.3L816.9 1390.3L816.0 1383.0L815.2 1375.7L814.4 1377.2L813.6 1377.2L812.8 1377.2L811.9 1369.9L811.1 1374.3L810.3 1374.5L809.5 1374.5L808.7 1374.8L807.8 1374.8L807.0 1374.8L806.2 1374.5L805.4 1390.8L804.6 1390.8L803.7 1390.8L802.9 1382.0L802.1 1386.3L801.3 1386.3L800.5 1381.0L799.6 1377.9L798.8 1377.4L798.0 1383.1L797.2 1383.1L796.4 1383.1L795.5 1369.9L794.7 1367.2L793.9 1372.8L793.1 1372.8L792.3 1372.8L791.4 1375.3L790.6 1376.8L789.8 1376.8L789.0 1374.3L788.2 1376.7L787.4 1378.6L786.5 1378.6L785.7 1376.3L784.9 1374.5L784.1 1374.5L783.3 1374.5L782.4 1380.8L781.6 1380.8L780.8 1380.8L780.0 1371.8L779.2 1390.8L778.3 1390.8L777.5 1387.2L776.7 1387.2L775.9 1377.1L775.1 1377.1L774.2 1380.6L773.4 1385.6L772.6 1385.6L771.8 1392.9L771.0 1392.9L770.1 1392.9L769.3 1365.4L768.5 1369.7L767.7 1372.5L766.9 1384.6L766.0 1384.6L765.2 1384.6L764.4 1373.2L763.6 1370.6L762.8 1373.8L761.9 1373.8L761.1 1373.8L760.3 1372.7L759.5 1375.9L758.7 1375.9L757.9 1375.9L757.0 1365.7L756.2 1358.8L755.4 1358.8L754.6 1363.2L753.8 1364.6L752.9 1364.6L752.1 1364.6L751.3 1350.8L750.5 1347.8L749.7 1347.8L748.8 1347.3L748.0 1347.3L747.2 1331.7L746.4 1331.7L745.6 1331.7L744.7 1331.6L743.9 1313.2L743.1 1309.4L742.3 1309.4L741.5 1304.5L740.6 1304.5L739.8 1302.1L739.0 1298.8L738.2 1298.8L737.4 1278.7L736.5 1269.8L735.7 1236.3L734.9 1204.0L734.1 1192.2L733.3 1126.5L732.4 1114.0L731.6 1073.8L730.8 1049.3L730.0 1056.0L729.2 1069.3L728.3 1118.0L727.5 1157.7L726.7 1189.3L725.9 1216.1L725.1 1234.4L724.3 1270.1L723.4 1304.9L722.6 1304.9L721.8 1328.3L721.0 1328.3L720.2 1327.4L719.3 1341.0L718.5 1350.3L717.7 1354.4L716.9 1354.4L716.1 1354.4L715.2 1352.7L714.4 1352.7L713.6 1352.9L712.8 1352.9L712.0 1358.0L711.1 1358.0L710.3 1358.0L709.5 1353.5L708.7 1357.4L707.9 1359.2L707.0 1359.2L706.2 1356.6L705.4 1356.6L704.6 1348.9L703.8 1343.2L702.9 1343.2L702.1 1342.7L701.3 1338.9L700.5 1332.7L699.7 1339.5L698.8 1339.5L698.0 1337.6L697.2 1344.6L696.4 1344.6L695.6 1343.1L694.8 1343.9L693.9 1352.2L693.1 1352.2L692.3 1364.6L691.5 1364.6L690.7 1367.2L689.8 1367.9L689.0 1367.9L688.2 1363.7L687.4 1363.8L686.6 1370.1L685.7 1370.1L684.9 1370.1L684.1 1369.4L683.3 1370.7L682.5 1370.7L681.6 1374.2L680.8 1374.2L680.0 1374.2L679.2 1371.7L678.4 1378.6L677.5 1378.6L676.7 1378.6L675.9 1375.1L675.1 1375.1L674.3 1369.7L673.4 1374.8L672.6 1374.8L671.8 1374.7L671.0 1374.7L670.2 1378.4L669.3 1378.4L668.5 1378.4L667.7 1377.7L666.9 1371.4L666.1 1371.4L665.2 1371.4L664.4 1371.4L663.6 1375.1L662.8 1375.1L662.0 1375.1L661.2 1372.9L660.3 1380.4L659.5 1380.4L658.7 1377.3L657.9 1380.2L657.1 1380.2L656.2 1373.2L655.4 1373.7L654.6 1373.8L653.8 1374.9L653.0 1380.8L652.1 1380.8L651.3 1377.5L650.5 1383.4L649.7 1383.4L648.9 1379.2L648.0 1369.1L647.2 1369.0L646.4 1367.6L645.6 1372.6L644.8 1372.6L643.9 1375.0L643.1 1375.0L642.3 1376.0L641.5 1376.0L640.7 1376.0L639.8 1373.7L639.0 1375.4L638.2 1375.4L637.4 1375.4L636.6 1372.9L635.7 1374.5L634.9 1374.5L634.1 1374.5L633.3 1387.7L632.5 1387.7L631.7 1387.7L630.8 1380.3L630.0 1380.3L629.2 1379.8L628.4 1375.8L627.6 1375.8L626.7 1369.5L625.9 1370.3L625.1 1370.3L624.3 1364.9L623.5 1369.3L622.6 1369.3L621.8 1361.5L621.0 1363.2L620.2 1363.8L619.4 1363.8L618.5 1361.3L617.7 1361.3L616.9 1358.9L616.1 1349.5L615.3 1346.7L614.4 1346.7L613.6 1346.5L612.8 1346.5L612.0 1338.7L611.2 1324.8L610.3 1314.5L609.5 1299.0L608.7 1299.0L607.9 1296.0L607.1 1310.4L606.2 1310.4L605.4 1309.1L604.6 1315.8L603.8 1330.3L603.0 1334.8L602.1 1339.0L601.3 1340.7L600.5 1343.2L599.7 1344.7L598.9 1355.5L598.1 1355.5L597.2 1355.5L596.4 1328.4L595.6 1328.4L594.8 1307.1L594.0 1295.8L593.1 1286.8L592.3 1259.8L591.5 1244.3L590.7 1222.2L589.9 1248.0L589.0 1276.4L588.2 1291.9L587.4 1309.6L586.6 1331.9L585.8 1336.9L584.9 1343.5L584.1 1350.8L583.3 1360.5L582.5 1360.5L581.7 1360.5L580.8 1358.4L580.0 1366.5L579.2 1366.5L578.4 1364.7L577.6 1364.7L576.7 1365.5L575.9 1365.5L575.1 1365.5L574.3 1370.6L573.5 1370.6L572.6 1370.6L571.8 1368.2L571.0 1368.2L570.2 1369.3L569.4 1372.8L568.6 1372.8L567.7 1378.1L566.9 1378.1L566.1 1378.1L565.3 1377.1L564.5 1371.0L563.6 1370.4L562.8 1370.4L562.0 1377.6L561.2 1377.6L560.4 1377.6L559.5 1366.0L558.7 1366.0L557.9 1368.2L557.1 1368.2L556.3 1376.8L555.4 1376.8L554.6 1376.8L553.8 1375.2L553.0 1373.1L552.2 1373.1L551.3 1373.1L550.5 1372.5L549.7 1370.2L548.9 1370.2L548.1 1368.6L547.2 1371.8L546.4 1371.8L545.6 1371.8L544.8 1374.2L544.0 1378.8L543.1 1378.8L542.3 1377.4L541.5 1368.3L540.7 1368.3L539.9 1368.0L539.0 1375.0L538.2 1375.0L537.4 1375.0L536.6 1369.7L535.8 1376.8L535.0 1376.8L534.1 1369.0L533.3 1369.0L532.5 1367.3L531.7 1366.8L530.9 1372.1L530.0 1372.1L529.2 1372.1L528.4 1376.3L527.6 1376.3L526.8 1376.3L525.9 1371.0L525.1 1378.0L524.3 1378.0L523.5 1378.0L522.7 1370.8L521.8 1370.8L521.0 1369.7L520.2 1373.1L519.4 1373.1L518.6 1368.2L517.7 1368.2L516.9 1367.4L516.1 1373.5L515.3 1378.0L514.5 1378.0L513.6 1378.0L512.8 1370.3L512.0 1370.3L511.2 1371.5L510.4 1371.5L509.5 1371.5L508.7 1368.6L507.9 1368.6L507.1 1364.5L506.3 1364.5L505.5 1368.0L504.6 1368.0L503.8 1369.1L503.0 1369.1L502.2 1370.0L501.4 1370.0L500.5 1370.0L499.7 1366.1L498.9 1354.0L498.1 1354.0L497.3 1338.6L496.4 1335.8L495.6 1335.8L494.8 1328.5L494.0 1327.0L493.2 1306.0L492.3 1294.5L491.5 1294.5L490.7 1303.2L489.9 1303.2L489.1 1304.5L488.2 1306.2L487.4 1327.5L486.6 1327.5L485.8 1327.4L485.0 1331.2L484.1 1339.8L483.3 1340.8L482.5 1343.0L481.7 1350.4L480.9 1350.4L480.0 1357.5L479.2 1357.5L478.4 1358.4L477.6 1358.4L476.8 1358.4L475.9 1354.2L475.1 1367.9L474.3 1367.9L473.5 1364.0L472.7 1363.2L471.9 1363.2L471.0 1371.1L470.2 1371.1L469.4 1374.8L468.6 1375.0L467.8 1375.0L466.9 1362.3L466.1 1358.3L465.3 1361.1L464.5 1361.2L463.7 1364.2L462.8 1364.2L462.0 1369.3L461.2 1375.0L460.4 1375.0L459.6 1375.0L458.7 1370.1L457.9 1368.4L457.1 1372.7L456.3 1382.7L455.5 1382.7L454.6 1382.7L453.8 1364.4L453.0 1364.4L452.2 1364.4L451.4 1369.9L450.5 1370.3L449.7 1370.3L448.9 1363.7L448.1 1367.5L447.3 1377.2L446.4 1377.2L445.6 1367.8L444.8 1367.8L444.0 1366.7L443.2 1366.7L442.4 1364.3L441.5 1357.9L440.7 1363.7L439.9 1365.5L439.1 1365.5L438.3 1370.1L437.4 1370.1L436.6 1370.1L435.8 1368.7L435.0 1368.7L434.2 1361.2L433.3 1363.1L432.5 1363.1L431.7 1363.1L430.9 1354.5L430.1 1358.4L429.2 1358.4L428.4 1358.4L427.6 1348.6L426.8 1350.4L426.0 1354.8L425.1 1361.9L424.3 1361.9L423.5 1361.9L422.7 1357.2L421.9 1357.2L421.0 1357.2L420.2 1357.4L419.4 1357.4L418.6 1352.4L417.8 1352.4L416.9 1346.2L416.1 1349.6L415.3 1356.7L414.5 1356.7L413.7 1361.1L412.8 1361.1L412.0 1361.1L411.2 1358.8L410.4 1360.1L409.6 1366.1L408.8 1366.1L407.9 1366.1L407.1 1355.8L406.3 1361.5L405.5 1361.5L404.7 1363.3L403.8 1363.3L403.0 1361.0L402.2 1361.0L401.4 1358.2L400.6 1358.2L399.7 1358.2L398.9 1363.4L398.1 1363.4L397.3 1359.3L396.5 1359.3L395.6 1359.3L394.8 1357.5L394.0 1357.7L393.2 1366.5L392.4 1366.5L391.5 1354.9L390.7 1368.3L389.9 1368.3L389.1 1358.9L388.3 1353.1L387.4 1367.3L386.6 1367.3L385.8 1372.8L385.0 1372.8L384.2 1372.8L383.3 1371.1L382.5 1371.1L381.7 1364.0L380.9 1361.7L380.1 1361.3L379.3 1361.3L378.4 1362.4L377.6 1362.4L376.8 1364.6L376.0 1364.6L375.2 1361.1L374.3 1357.7L373.5 1353.5L372.7 1353.6L371.9 1359.5L371.1 1372.9L370.2 1372.9L369.4 1372.9L368.6 1358.3L367.8 1356.7L367.0 1346.9L366.1 1351.5L365.3 1354.8L364.5 1369.7L363.7 1369.7L362.9 1369.7L362.0 1360.9L361.2 1360.9L360.4 1359.7L359.6 1359.7L358.8 1359.7L357.9 1360.9L357.1 1360.9L356.3 1354.5L355.5 1360.4L354.7 1360.4L353.8 1356.4L353.0 1371.2L352.2 1371.2L351.4 1371.2L350.6 1356.0L349.7 1354.4L348.9 1354.4L348.1 1362.2L347.3 1362.2L346.5 1362.2L345.7 1362.9L344.8 1362.9L344.0 1362.9L343.2 1356.1L342.4 1365.4L341.6 1365.4L340.7 1362.7L339.9 1362.7L339.1 1356.9L338.3 1354.3L337.5 1353.6L336.6 1356.9L335.8 1356.9L335.0 1365.1L334.2 1365.2L333.4 1365.2L332.5 1365.2L331.7 1367.7L330.9 1367.7L330.1 1367.7L329.3 1359.0L328.4 1371.5L327.6 1371.5L326.8 1367.2L326.0 1366.3L325.2 1366.3L324.3 1367.3L323.5 1367.3L322.7 1367.3L321.9 1363.5L321.1 1363.5L320.2 1356.3L319.4 1366.2L318.6 1366.2L317.8 1362.6L317.0 1363.4L316.2 1363.4L315.3 1361.8L314.5 1361.8L313.7 1364.8L312.9 1364.8L312.1 1362.9L311.2 1367.0L310.4 1367.0L309.6 1367.0L308.8 1366.5L308.0 1366.5L307.1 1361.6L306.3 1361.6L305.5 1365.3L304.7 1365.7L303.9 1368.4L303.0 1368.4L302.2 1364.2L301.4 1364.2Z"/>
</g>
<rect x="301.4" y="64.0" width="1844.4" height="1371.8" fill="none" stroke="#111" stroke-width="4.6"/>
<path d="M506.3 1435.8 v-26.5 M711.1 1435.8 v-13.5 M916.0 1435.8 v-26.5 M1120.9 1435.8 v-13.5 M1325.8 1435.8 v-26.5 M1530.6 1435.8 v-13.5 M1735.5 1435.8 v-26.5 M1940.4 1435.8 v-13.5 M301.4 1403.4 h29 M301.4 1236.1 h16.5 M301.4 1068.8 h29 M301.4 901.5 h16.5 M301.4 734.2 h29 M301.4 566.9 h16.5 M301.4 399.6 h29 M301.4 232.3 h16.5" stroke="#111" stroke-width="4.0" fill="none"/>
<g font-family="'Liberation Sans', sans-serif" font-weight="bold" font-size="80.5" fill="#000">
<text transform="translate(272.09,1426.57) scale(1.0195,1.0263)" text-anchor="end">0</text>
<text transform="translate(272.09,1091.97) scale(1.0195,1.0263)" text-anchor="end">2000</text>
<text transform="translate(272.09,757.37) scale(1.0195,1.0263)" text-anchor="end">4000</text>
<text transform="translate(272.09,422.77) scale(1.0195,1.0263)" text-anchor="end">6000</text>
<text transform="translate(272.09,88.17) scale(1.0195,1.0263)" text-anchor="end">8000</text>
<text transform="translate(505.77,1529.51) scale(0.9810,0.9877)" text-anchor="middle">20</text>
<text transform="translate(915.51,1529.51) scale(0.9810,0.9877)" text-anchor="middle">40</text>
<text transform="translate(1325.25,1529.51) scale(0.9810,0.9877)" text-anchor="middle">60</text>
<text transform="translate(1734.99,1529.51) scale(0.9810,0.9877)" text-anchor="middle">80</text>
<text transform="translate(2144.73,1529.51) scale(0.9810,0.9877)" text-anchor="middle">100</text>
<text transform="translate(316.43,524.01) scale(1.0365,0.9881)">Alcohol</text>
<text transform="translate(322.50,1026.29) scale(1.0355,1.0107)">Water</text>
<text transform="translate(1019.27,1626.49) scale(1.0164,0.9947)">Angle</text>
<text transform="translate(1251.33,1626.29) scale(0.6913,1.0067)">(</text>
<text transform="translate(1296.98,1589.02) scale(1.1615,0.9767)" font-weight="normal" font-size="54">o</text>
<text transform="translate(1349.70,1626.29) scale(0.7348,1.0067)">)</text>
<text transform="translate(56.8,995.42) rotate(-90) scale(1.0236,1.03)">Intensity</text>
</g>
<g font-family="'Liberation Sans', sans-serif" font-size="85" fill="#000">
<text transform="translate(1349.5,142.5) scale(0.98,1)">-Co</text>
<text transform="translate(1586.5,149.5) scale(0.98,1)">-Co<tspan font-size="66">3</tspan>O<tspan font-size="66">4</tspan></text>
<text transform="translate(1928.0,155.5) scale(0.98,1)">-CoO</text>
<text transform="translate(1345.0,246.7) scale(0.98,1)">-NiO</text>
<text transform="translate(1582.0,250.3) scale(0.98,1)">-Y<tspan font-size="66">2</tspan>O<tspan font-size="66">3</tspan></text>
<text transform="translate(1885.5,249.7) scale(0.98,1)"><tspan font-size="64">#</tspan>-WO<tspan font-size="52">3</tspan></text>
<text transform="translate(1814.5,349.5) scale(0.98,1)">-NiCoO<tspan font-size="66">4</tspan></text>
<text transform="translate(1811.0,444.4) scale(0.98,1)">-WCoO<tspan font-size="66">4</tspan></text>
</g>
<path d="M830.6 86.4L870.1 86.4L850.4 119.8Z" fill="none" stroke="#3a3a3a" stroke-width="1.9" stroke-linejoin="miter"/>
<rect x="838.1" y="136.3" width="36.3" height="34.5" fill="#000"/>
<path d="M973.1 88.2L1012.9 88.2L993.0 122.4Z" fill="none" stroke="#3a3a3a" stroke-width="1.9" stroke-linejoin="miter"/>
<rect x="973.5" y="136.3" width="36.2" height="34.5" fill="#000"/>
<path d="M1348.1 293.2L1388.4 293.2L1368.2 326.7Z" fill="none" stroke="#3a3a3a" stroke-width="1.9" stroke-linejoin="miter"/>
<rect x="1355.6" y="339.5" width="36.3" height="34.5" fill="#000"/>
<path d="M1605.6 626.0L1645.6 626.0L1625.6 658.8Z" fill="none" stroke="#3a3a3a" stroke-width="1.9" stroke-linejoin="miter"/>
<rect x="1605.4" y="682.4" width="36.1" height="35.4" fill="#000"/>
<path d="M1694.1 671.8L1734.9 671.8L1714.5 704.9Z" fill="none" stroke="#3a3a3a" stroke-width="1.9" stroke-linejoin="miter"/>
<rect x="1687.3" y="728.0" width="35.7" height="35.5" fill="#000"/>
<path d="M2004.6 775.4L2045.4 775.4L2025.0 808.8Z" fill="none" stroke="#3a3a3a" stroke-width="1.9" stroke-linejoin="miter"/>
<rect x="2005.0" y="828.8" width="36.1" height="35.2" fill="#000"/>
<text transform="translate(551.6,684.5) scale(0.92,1)" font-family="'Liberation Sans', sans-serif" font-size="64" fill="#000">#</text>
<text transform="translate(573.6,634.2) scale(0.92,1)" font-family="'Liberation Sans', sans-serif" font-size="64" fill="#000">#</text>
<text transform="translate(619.1,841.2) scale(0.92,1)" font-family="'Liberation Sans', sans-serif" font-size="64" fill="#000">#</text>
<text transform="translate(662.6,809.2) scale(0.92,1)" font-family="'Liberation Sans', sans-serif" font-size="64" fill="#000">#</text>
<text transform="translate(765.4,759.2) scale(0.92,1)" font-family="'Liberation Sans', sans-serif" font-size="64" fill="#000">#</text>
<text transform="translate(784.0,737.5) scale(0.92,1)" font-family="'Liberation Sans', sans-serif" font-size="64" fill="#000">#</text>
<text transform="translate(926.1,794.3) scale(0.92,1)" font-family="'Liberation Sans', sans-serif" font-size="64" fill="#000">#</text>
<ellipse cx="721.8" cy="806.7" rx="17.1" ry="17.1" fill="#000"/>
<rect x="400.0" y="1245.2" width="29.0" height="28.8" fill="none" stroke="#2a2a2a" stroke-width="2.0"/>
<ellipse cx="414.4" cy="1306.0" rx="15.8" ry="15.8" fill="none" stroke="#111" stroke-width="2.0"/>
<rect x="475.0" y="1177.0" width="29.0" height="28.5" fill="none" stroke="#2a2a2a" stroke-width="2.0"/>
<ellipse cx="493.2" cy="1234.4" rx="16.2" ry="15.6" fill="none" stroke="#111" stroke-width="2.0"/>
<rect x="571.1" y="1180.3" width="28.5" height="27.9" fill="none" stroke="#2a2a2a" stroke-width="2.0"/>
<ellipse cx="589.0" cy="1226.4" rx="15.6" ry="15.4" fill="none" stroke="#111" stroke-width="2.0"/>
<rect x="592.4" y="1174.0" width="28.8" height="28.3" fill="none" stroke="#2a2a2a" stroke-width="2.0"/>
<ellipse cx="607.9" cy="1231.3" rx="15.5" ry="15.8" fill="none" stroke="#111" stroke-width="2.0"/>
<ellipse cx="697.2" cy="1278.8" rx="17.0" ry="17.2" fill="#000"/>
<rect x="718.5" y="959.4" width="28.9" height="27.6" fill="none" stroke="#2a2a2a" stroke-width="2.0"/>
<ellipse cx="732.2" cy="1006.3" rx="15.9" ry="15.7" fill="none" stroke="#111" stroke-width="2.0"/>
<rect x="746.0" y="1173.5" width="30.0" height="28.5" fill="none" stroke="#2a2a2a" stroke-width="2.0"/>
<ellipse cx="758.0" cy="1220.7" rx="16.0" ry="15.4" fill="none" stroke="#111" stroke-width="2.0"/>
<path d="M735.8 1244.8L774.0 1244.8L754.9 1283.0Z" fill="#000"/>
<path d="M845.2 1038.6L884.3 1038.6L864.8 1076.5Z" fill="#000"/>
<rect x="845.2" y="1093.3" width="35.3" height="34.4" fill="#000"/>
<rect x="828.9" y="1129.5" width="28.9" height="28.5" fill="none" stroke="#2a2a2a" stroke-width="2.0"/>
<ellipse cx="842.0" cy="1177.7" rx="16.0" ry="15.4" fill="none" stroke="#111" stroke-width="2.0"/>
<path d="M874.5 1187.8L912.7 1187.8L893.6 1225.7Z" fill="#000"/>
<rect x="882.7" y="1237.5" width="29.8" height="28.2" fill="none" stroke="#2a2a2a" stroke-width="2.0"/>
<ellipse cx="896.1" cy="1288.2" rx="16.1" ry="15.8" fill="none" stroke="#111" stroke-width="2.0"/>
<rect x="935.3" y="1201.4" width="29.0" height="28.6" fill="none" stroke="#2a2a2a" stroke-width="2.0"/>
<ellipse cx="952.9" cy="1252.8" rx="15.9" ry="15.4" fill="none" stroke="#111" stroke-width="2.0"/>
<rect x="963.0" y="986.5" width="35.3" height="34.5" fill="#000"/>
<path d="M998.3 954.9L1032.7 954.9L1015.5 921.1Z" fill="#000"/>
<rect x="1030.8" y="1248.7" width="30.4" height="28.3" fill="none" stroke="#2a2a2a" stroke-width="2.0"/>
<ellipse cx="1043.4" cy="1297.9" rx="16.1" ry="15.6" fill="none" stroke="#111" stroke-width="2.0"/>
<rect x="1089.0" y="1231.0" width="30.3" height="28.0" fill="none" stroke="#2a2a2a" stroke-width="2.0"/>
<ellipse cx="1103.7" cy="1281.0" rx="16.1" ry="15.5" fill="none" stroke="#111" stroke-width="2.0"/>
<path d="M1141.8 1131.2L1175.8 1131.2L1158.8 1096.0Z" fill="#000"/>
<rect x="1150.3" y="1141.2" width="29.5" height="28.8" fill="none" stroke="#2a2a2a" stroke-width="2.0"/>
<ellipse cx="1160.0" cy="1195.2" rx="16.2" ry="15.8" fill="none" stroke="#111" stroke-width="2.0"/>
<rect x="1196.2" y="1159.0" width="29.1" height="29.0" fill="none" stroke="#2a2a2a" stroke-width="2.0"/>
<ellipse cx="1210.7" cy="1219.8" rx="16.6" ry="16.0" fill="none" stroke="#111" stroke-width="2.0"/>
<rect x="1356.8" y="1079.0" width="34.9" height="34.7" fill="#000"/>
<rect x="1357.8" y="1126.6" width="29.2" height="28.8" fill="none" stroke="#444" stroke-width="2.0"/>
<ellipse cx="1371.2" cy="1177.7" rx="16.1" ry="15.6" fill="none" stroke="#111" stroke-width="2.0"/>
<path d="M1421.0 1134.8L1458.9 1134.8L1440.0 1172.8Z" fill="#000"/>
<rect x="1428.0" y="1192.1" width="29.9" height="28.0" fill="none" stroke="#444" stroke-width="2.0"/>
<ellipse cx="1439.2" cy="1242.0" rx="16.2" ry="15.5" fill="none" stroke="#111" stroke-width="2.0"/>
<rect x="1502.3" y="1223.0" width="29.9" height="29.0" fill="none" stroke="#555" stroke-width="2.0"/>
<ellipse cx="1517.8" cy="1276.8" rx="16.6" ry="15.7" fill="none" stroke="#111" stroke-width="2.0"/>
<rect x="1564.5" y="1245.5" width="29.5" height="28.5" fill="none" stroke="#555" stroke-width="2.0"/>
<ellipse cx="1575.2" cy="1298.5" rx="16.2" ry="15.8" fill="none" stroke="#111" stroke-width="2.0"/>
<rect x="1606.0" y="1247.0" width="35.5" height="34.8" fill="#000"/>
<path d="M1644.5 1227.3L1679.9 1227.3L1662.2 1192.8Z" fill="#000"/>
<rect x="1695.4" y="1256.3" width="35.8" height="35.2" fill="#000"/>
<path d="M1887.0 1274.2L1927.0 1274.2L1907.0 1313.2Z" fill="#000"/>
<path d="M1979.9 1237.5L2015.4 1237.5L1997.7 1202.0Z" fill="#000"/>
<path d="M2019.8 1266.8L2059.2 1266.8L2039.5 1306.0Z" fill="#000"/>
<path d="M2089.8 1291.4L2125.0 1291.4L2107.4 1256.0Z" fill="#000"/>
<path d="M1300.9 141.2L1341.5 141.2L1321.2 102.9Z" fill="#000"/>
<path d="M1544.5 114.4L1578.3 114.4L1561.4 150.2Z" fill="#000"/>
<path d="M1877.8 115.5L1919.5 115.5L1898.7 149.4Z" fill="none" stroke="#3a3a3a" stroke-width="1.9" stroke-linejoin="miter"/>
<rect x="1307.7" y="214.5" width="32.7" height="32.7" fill="#000"/>
<ellipse cx="1559.7" cy="229.7" rx="16.4" ry="16.3" fill="#000"/>
<ellipse cx="1791.3" cy="326.2" rx="17.3" ry="17.3" fill="none" stroke="#111" stroke-width="2.0"/>
<rect x="1774.0" y="413.8" width="31.3" height="29.6" fill="none" stroke="#2a2a2a" stroke-width="2.0"/>
</svg></body></html>
